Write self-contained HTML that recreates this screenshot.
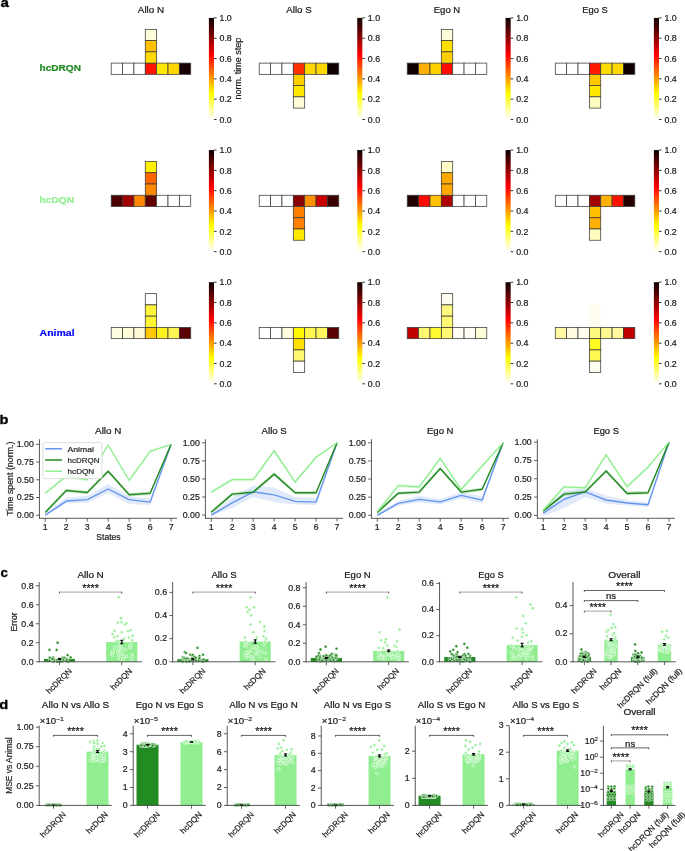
<!DOCTYPE html><html><head><meta charset="utf-8"><title>Figure</title><style>html,body{margin:0;padding:0;background:#fff;}body{width:685px;height:851px;overflow:hidden;font-family:"Liberation Sans",sans-serif;}svg{display:block;will-change:transform;}</style></head><body><svg width="685" height="851" viewBox="0 0 685 851" font-family="&quot;Liberation Sans&quot;, sans-serif" fill="#000"><defs><linearGradient id="hotr" x1="0" y1="1" x2="0" y2="0"><stop offset="0" stop-color="#ffffff"/><stop offset="0.253968" stop-color="#ffff00"/><stop offset="0.634921" stop-color="#ff0000"/><stop offset="1" stop-color="#0b0000"/></linearGradient></defs>
<text x="0.4" y="7.3" font-size="13.25" font-weight="bold" stroke="#000" stroke-width="0.31" textLength="8.44" lengthAdjust="spacingAndGlyphs">a</text>
<text x="39.6" y="71.2" font-size="9.54" font-weight="bold" fill="#228b22" stroke="#228b22" stroke-width="0.23" textLength="41.33" lengthAdjust="spacingAndGlyphs">hcDRQN</text>
<text x="150.96" y="13.3" font-size="9.54" text-anchor="middle" fill="#1a1a1a" stroke="#1a1a1a" stroke-width="0.23" textLength="26.26" lengthAdjust="spacingAndGlyphs">Allo N</text>
<rect x="111.2" y="63.1" width="11.36" height="11.25" fill="#ffffff" stroke="#3a3a3a" stroke-width="0.75"/>
<rect x="122.56" y="63.1" width="11.36" height="11.25" fill="#ffffff" stroke="#3a3a3a" stroke-width="0.75"/>
<rect x="133.92" y="63.1" width="11.36" height="11.25" fill="#ffffff" stroke="#3a3a3a" stroke-width="0.75"/>
<rect x="145.28" y="63.1" width="11.36" height="11.25" fill="#ff1200" stroke="#3a3a3a" stroke-width="0.75"/>
<rect x="156.64" y="63.1" width="11.36" height="11.25" fill="#ffe800" stroke="#3a3a3a" stroke-width="0.75"/>
<rect x="168" y="63.1" width="11.36" height="11.25" fill="#ffd500" stroke="#3a3a3a" stroke-width="0.75"/>
<rect x="179.36" y="63.1" width="11.36" height="11.25" fill="#180000" stroke="#3a3a3a" stroke-width="0.75"/>
<rect x="145.28" y="29.35" width="11.36" height="11.25" fill="#fffcdc" stroke="#3a3a3a" stroke-width="0.75"/>
<rect x="145.28" y="40.6" width="11.36" height="11.25" fill="#ffc000" stroke="#3a3a3a" stroke-width="0.75"/>
<rect x="145.28" y="51.85" width="11.36" height="11.25" fill="#ffd800" stroke="#3a3a3a" stroke-width="0.75"/>
<rect x="208.9" y="17.9" width="5.1" height="101.6" fill="url(#hotr)"/>
<line x1="214" y1="119.5" x2="216.6" y2="119.5" stroke="#000" stroke-width="0.8"/>
<text x="219.5" y="122.7" font-size="8.16" fill="#1a1a1a" stroke="#1a1a1a" stroke-width="0.19" textLength="12.25" lengthAdjust="spacingAndGlyphs">0.0</text>
<line x1="214" y1="99.18" x2="216.6" y2="99.18" stroke="#000" stroke-width="0.8"/>
<text x="219.5" y="102.38" font-size="8.16" fill="#1a1a1a" stroke="#1a1a1a" stroke-width="0.19" textLength="12.25" lengthAdjust="spacingAndGlyphs">0.2</text>
<line x1="214" y1="78.86" x2="216.6" y2="78.86" stroke="#000" stroke-width="0.8"/>
<text x="219.5" y="82.06" font-size="8.16" fill="#1a1a1a" stroke="#1a1a1a" stroke-width="0.19" textLength="12.25" lengthAdjust="spacingAndGlyphs">0.4</text>
<line x1="214" y1="58.54" x2="216.6" y2="58.54" stroke="#000" stroke-width="0.8"/>
<text x="219.5" y="61.74" font-size="8.16" fill="#1a1a1a" stroke="#1a1a1a" stroke-width="0.19" textLength="12.25" lengthAdjust="spacingAndGlyphs">0.6</text>
<line x1="214" y1="38.22" x2="216.6" y2="38.22" stroke="#000" stroke-width="0.8"/>
<text x="219.5" y="41.42" font-size="8.16" fill="#1a1a1a" stroke="#1a1a1a" stroke-width="0.19" textLength="12.25" lengthAdjust="spacingAndGlyphs">0.8</text>
<line x1="214" y1="17.9" x2="216.6" y2="17.9" stroke="#000" stroke-width="0.8"/>
<text x="219.5" y="21.1" font-size="8.16" fill="#1a1a1a" stroke="#1a1a1a" stroke-width="0.19" textLength="12.25" lengthAdjust="spacingAndGlyphs">1.0</text>
<text x="241" y="68.7" font-size="8.16" text-anchor="middle" fill="#1a1a1a" stroke="#1a1a1a" stroke-width="0.19" textLength="61.65" lengthAdjust="spacingAndGlyphs" transform="rotate(-90 241 68.7)">norm. time step</text>
<text x="298.99" y="13.3" font-size="9.54" text-anchor="middle" fill="#1a1a1a" stroke="#1a1a1a" stroke-width="0.23" textLength="25.24" lengthAdjust="spacingAndGlyphs">Allo S</text>
<rect x="259.23" y="63.1" width="11.36" height="11.25" fill="#ffffff" stroke="#3a3a3a" stroke-width="0.75"/>
<rect x="270.59" y="63.1" width="11.36" height="11.25" fill="#ffffff" stroke="#3a3a3a" stroke-width="0.75"/>
<rect x="281.95" y="63.1" width="11.36" height="11.25" fill="#ffffff" stroke="#3a3a3a" stroke-width="0.75"/>
<rect x="293.31" y="63.1" width="11.36" height="11.25" fill="#ff3000" stroke="#3a3a3a" stroke-width="0.75"/>
<rect x="304.67" y="63.1" width="11.36" height="11.25" fill="#ffd800" stroke="#3a3a3a" stroke-width="0.75"/>
<rect x="316.03" y="63.1" width="11.36" height="11.25" fill="#ffd800" stroke="#3a3a3a" stroke-width="0.75"/>
<rect x="327.39" y="63.1" width="11.36" height="11.25" fill="#100000" stroke="#3a3a3a" stroke-width="0.75"/>
<rect x="293.31" y="74.35" width="11.36" height="11.25" fill="#ffd000" stroke="#3a3a3a" stroke-width="0.75"/>
<rect x="293.31" y="85.6" width="11.36" height="11.25" fill="#ffe800" stroke="#3a3a3a" stroke-width="0.75"/>
<rect x="293.31" y="96.85" width="11.36" height="11.25" fill="#fffcd8" stroke="#3a3a3a" stroke-width="0.75"/>
<rect x="357.23" y="17.9" width="5.1" height="101.6" fill="url(#hotr)"/>
<line x1="362.33" y1="119.5" x2="364.93" y2="119.5" stroke="#000" stroke-width="0.8"/>
<text x="367.83" y="122.7" font-size="8.16" fill="#1a1a1a" stroke="#1a1a1a" stroke-width="0.19" textLength="12.25" lengthAdjust="spacingAndGlyphs">0.0</text>
<line x1="362.33" y1="99.18" x2="364.93" y2="99.18" stroke="#000" stroke-width="0.8"/>
<text x="367.83" y="102.38" font-size="8.16" fill="#1a1a1a" stroke="#1a1a1a" stroke-width="0.19" textLength="12.25" lengthAdjust="spacingAndGlyphs">0.2</text>
<line x1="362.33" y1="78.86" x2="364.93" y2="78.86" stroke="#000" stroke-width="0.8"/>
<text x="367.83" y="82.06" font-size="8.16" fill="#1a1a1a" stroke="#1a1a1a" stroke-width="0.19" textLength="12.25" lengthAdjust="spacingAndGlyphs">0.4</text>
<line x1="362.33" y1="58.54" x2="364.93" y2="58.54" stroke="#000" stroke-width="0.8"/>
<text x="367.83" y="61.74" font-size="8.16" fill="#1a1a1a" stroke="#1a1a1a" stroke-width="0.19" textLength="12.25" lengthAdjust="spacingAndGlyphs">0.6</text>
<line x1="362.33" y1="38.22" x2="364.93" y2="38.22" stroke="#000" stroke-width="0.8"/>
<text x="367.83" y="41.42" font-size="8.16" fill="#1a1a1a" stroke="#1a1a1a" stroke-width="0.19" textLength="12.25" lengthAdjust="spacingAndGlyphs">0.8</text>
<line x1="362.33" y1="17.9" x2="364.93" y2="17.9" stroke="#000" stroke-width="0.8"/>
<text x="367.83" y="21.1" font-size="8.16" fill="#1a1a1a" stroke="#1a1a1a" stroke-width="0.19" textLength="12.25" lengthAdjust="spacingAndGlyphs">1.0</text>
<text x="447.02" y="13.3" font-size="9.54" text-anchor="middle" fill="#1a1a1a" stroke="#1a1a1a" stroke-width="0.23" textLength="26.5" lengthAdjust="spacingAndGlyphs">Ego N</text>
<rect x="407.26" y="63.1" width="11.36" height="11.25" fill="#100000" stroke="#3a3a3a" stroke-width="0.75"/>
<rect x="418.62" y="63.1" width="11.36" height="11.25" fill="#ffb000" stroke="#3a3a3a" stroke-width="0.75"/>
<rect x="429.98" y="63.1" width="11.36" height="11.25" fill="#ffd000" stroke="#3a3a3a" stroke-width="0.75"/>
<rect x="441.34" y="63.1" width="11.36" height="11.25" fill="#ff0a00" stroke="#3a3a3a" stroke-width="0.75"/>
<rect x="452.7" y="63.1" width="11.36" height="11.25" fill="#ffffff" stroke="#3a3a3a" stroke-width="0.75"/>
<rect x="464.06" y="63.1" width="11.36" height="11.25" fill="#ffffff" stroke="#3a3a3a" stroke-width="0.75"/>
<rect x="475.42" y="63.1" width="11.36" height="11.25" fill="#ffffff" stroke="#3a3a3a" stroke-width="0.75"/>
<rect x="441.34" y="29.35" width="11.36" height="11.25" fill="#fffcdc" stroke="#3a3a3a" stroke-width="0.75"/>
<rect x="441.34" y="40.6" width="11.36" height="11.25" fill="#ffe000" stroke="#3a3a3a" stroke-width="0.75"/>
<rect x="441.34" y="51.85" width="11.36" height="11.25" fill="#ffd000" stroke="#3a3a3a" stroke-width="0.75"/>
<rect x="505.56" y="17.9" width="5.1" height="101.6" fill="url(#hotr)"/>
<line x1="510.66" y1="119.5" x2="513.26" y2="119.5" stroke="#000" stroke-width="0.8"/>
<text x="516.16" y="122.7" font-size="8.16" fill="#1a1a1a" stroke="#1a1a1a" stroke-width="0.19" textLength="12.25" lengthAdjust="spacingAndGlyphs">0.0</text>
<line x1="510.66" y1="99.18" x2="513.26" y2="99.18" stroke="#000" stroke-width="0.8"/>
<text x="516.16" y="102.38" font-size="8.16" fill="#1a1a1a" stroke="#1a1a1a" stroke-width="0.19" textLength="12.25" lengthAdjust="spacingAndGlyphs">0.2</text>
<line x1="510.66" y1="78.86" x2="513.26" y2="78.86" stroke="#000" stroke-width="0.8"/>
<text x="516.16" y="82.06" font-size="8.16" fill="#1a1a1a" stroke="#1a1a1a" stroke-width="0.19" textLength="12.25" lengthAdjust="spacingAndGlyphs">0.4</text>
<line x1="510.66" y1="58.54" x2="513.26" y2="58.54" stroke="#000" stroke-width="0.8"/>
<text x="516.16" y="61.74" font-size="8.16" fill="#1a1a1a" stroke="#1a1a1a" stroke-width="0.19" textLength="12.25" lengthAdjust="spacingAndGlyphs">0.6</text>
<line x1="510.66" y1="38.22" x2="513.26" y2="38.22" stroke="#000" stroke-width="0.8"/>
<text x="516.16" y="41.42" font-size="8.16" fill="#1a1a1a" stroke="#1a1a1a" stroke-width="0.19" textLength="12.25" lengthAdjust="spacingAndGlyphs">0.8</text>
<line x1="510.66" y1="17.9" x2="513.26" y2="17.9" stroke="#000" stroke-width="0.8"/>
<text x="516.16" y="21.1" font-size="8.16" fill="#1a1a1a" stroke="#1a1a1a" stroke-width="0.19" textLength="12.25" lengthAdjust="spacingAndGlyphs">1.0</text>
<text x="595.05" y="13.3" font-size="9.54" text-anchor="middle" fill="#1a1a1a" stroke="#1a1a1a" stroke-width="0.23" textLength="25.48" lengthAdjust="spacingAndGlyphs">Ego S</text>
<rect x="555.29" y="63.1" width="11.36" height="11.25" fill="#ffffff" stroke="#3a3a3a" stroke-width="0.75"/>
<rect x="566.65" y="63.1" width="11.36" height="11.25" fill="#ffffff" stroke="#3a3a3a" stroke-width="0.75"/>
<rect x="578.01" y="63.1" width="11.36" height="11.25" fill="#ffffff" stroke="#3a3a3a" stroke-width="0.75"/>
<rect x="589.37" y="63.1" width="11.36" height="11.25" fill="#ff1800" stroke="#3a3a3a" stroke-width="0.75"/>
<rect x="600.73" y="63.1" width="11.36" height="11.25" fill="#ffdc00" stroke="#3a3a3a" stroke-width="0.75"/>
<rect x="612.09" y="63.1" width="11.36" height="11.25" fill="#ffd800" stroke="#3a3a3a" stroke-width="0.75"/>
<rect x="623.45" y="63.1" width="11.36" height="11.25" fill="#100000" stroke="#3a3a3a" stroke-width="0.75"/>
<rect x="589.37" y="74.35" width="11.36" height="11.25" fill="#ffc800" stroke="#3a3a3a" stroke-width="0.75"/>
<rect x="589.37" y="85.6" width="11.36" height="11.25" fill="#ffe800" stroke="#3a3a3a" stroke-width="0.75"/>
<rect x="589.37" y="96.85" width="11.36" height="11.25" fill="#fffcc0" stroke="#3a3a3a" stroke-width="0.75"/>
<rect x="653.89" y="17.9" width="5.1" height="101.6" fill="url(#hotr)"/>
<line x1="658.99" y1="119.5" x2="661.59" y2="119.5" stroke="#000" stroke-width="0.8"/>
<text x="664.49" y="122.7" font-size="8.16" fill="#1a1a1a" stroke="#1a1a1a" stroke-width="0.19" textLength="12.25" lengthAdjust="spacingAndGlyphs">0.0</text>
<line x1="658.99" y1="99.18" x2="661.59" y2="99.18" stroke="#000" stroke-width="0.8"/>
<text x="664.49" y="102.38" font-size="8.16" fill="#1a1a1a" stroke="#1a1a1a" stroke-width="0.19" textLength="12.25" lengthAdjust="spacingAndGlyphs">0.2</text>
<line x1="658.99" y1="78.86" x2="661.59" y2="78.86" stroke="#000" stroke-width="0.8"/>
<text x="664.49" y="82.06" font-size="8.16" fill="#1a1a1a" stroke="#1a1a1a" stroke-width="0.19" textLength="12.25" lengthAdjust="spacingAndGlyphs">0.4</text>
<line x1="658.99" y1="58.54" x2="661.59" y2="58.54" stroke="#000" stroke-width="0.8"/>
<text x="664.49" y="61.74" font-size="8.16" fill="#1a1a1a" stroke="#1a1a1a" stroke-width="0.19" textLength="12.25" lengthAdjust="spacingAndGlyphs">0.6</text>
<line x1="658.99" y1="38.22" x2="661.59" y2="38.22" stroke="#000" stroke-width="0.8"/>
<text x="664.49" y="41.42" font-size="8.16" fill="#1a1a1a" stroke="#1a1a1a" stroke-width="0.19" textLength="12.25" lengthAdjust="spacingAndGlyphs">0.8</text>
<line x1="658.99" y1="17.9" x2="661.59" y2="17.9" stroke="#000" stroke-width="0.8"/>
<text x="664.49" y="21.1" font-size="8.16" fill="#1a1a1a" stroke="#1a1a1a" stroke-width="0.19" textLength="12.25" lengthAdjust="spacingAndGlyphs">1.0</text>
<text x="39.6" y="203.4" font-size="9.54" font-weight="bold" fill="#90ee90" stroke="#90ee90" stroke-width="0.23" textLength="34.4" lengthAdjust="spacingAndGlyphs">hcDQN</text>
<rect x="111.2" y="195.25" width="11.36" height="11.25" fill="#4a0000" stroke="#3a3a3a" stroke-width="0.75"/>
<rect x="122.56" y="195.25" width="11.36" height="11.25" fill="#a00000" stroke="#3a3a3a" stroke-width="0.75"/>
<rect x="133.92" y="195.25" width="11.36" height="11.25" fill="#ff8800" stroke="#3a3a3a" stroke-width="0.75"/>
<rect x="145.28" y="195.25" width="11.36" height="11.25" fill="#600000" stroke="#3a3a3a" stroke-width="0.75"/>
<rect x="156.64" y="195.25" width="11.36" height="11.25" fill="#ffffff" stroke="#3a3a3a" stroke-width="0.75"/>
<rect x="168" y="195.25" width="11.36" height="11.25" fill="#ffffff" stroke="#3a3a3a" stroke-width="0.75"/>
<rect x="179.36" y="195.25" width="11.36" height="11.25" fill="#ffffff" stroke="#3a3a3a" stroke-width="0.75"/>
<rect x="145.28" y="161.5" width="11.36" height="11.25" fill="#fff000" stroke="#3a3a3a" stroke-width="0.75"/>
<rect x="145.28" y="172.75" width="11.36" height="11.25" fill="#ff6600" stroke="#3a3a3a" stroke-width="0.75"/>
<rect x="145.28" y="184" width="11.36" height="11.25" fill="#ff8800" stroke="#3a3a3a" stroke-width="0.75"/>
<rect x="208.9" y="150.05" width="5.1" height="101.6" fill="url(#hotr)"/>
<line x1="214" y1="251.65" x2="216.6" y2="251.65" stroke="#000" stroke-width="0.8"/>
<text x="219.5" y="254.85" font-size="8.16" fill="#1a1a1a" stroke="#1a1a1a" stroke-width="0.19" textLength="12.25" lengthAdjust="spacingAndGlyphs">0.0</text>
<line x1="214" y1="231.33" x2="216.6" y2="231.33" stroke="#000" stroke-width="0.8"/>
<text x="219.5" y="234.53" font-size="8.16" fill="#1a1a1a" stroke="#1a1a1a" stroke-width="0.19" textLength="12.25" lengthAdjust="spacingAndGlyphs">0.2</text>
<line x1="214" y1="211.01" x2="216.6" y2="211.01" stroke="#000" stroke-width="0.8"/>
<text x="219.5" y="214.21" font-size="8.16" fill="#1a1a1a" stroke="#1a1a1a" stroke-width="0.19" textLength="12.25" lengthAdjust="spacingAndGlyphs">0.4</text>
<line x1="214" y1="190.69" x2="216.6" y2="190.69" stroke="#000" stroke-width="0.8"/>
<text x="219.5" y="193.89" font-size="8.16" fill="#1a1a1a" stroke="#1a1a1a" stroke-width="0.19" textLength="12.25" lengthAdjust="spacingAndGlyphs">0.6</text>
<line x1="214" y1="170.37" x2="216.6" y2="170.37" stroke="#000" stroke-width="0.8"/>
<text x="219.5" y="173.57" font-size="8.16" fill="#1a1a1a" stroke="#1a1a1a" stroke-width="0.19" textLength="12.25" lengthAdjust="spacingAndGlyphs">0.8</text>
<line x1="214" y1="150.05" x2="216.6" y2="150.05" stroke="#000" stroke-width="0.8"/>
<text x="219.5" y="153.25" font-size="8.16" fill="#1a1a1a" stroke="#1a1a1a" stroke-width="0.19" textLength="12.25" lengthAdjust="spacingAndGlyphs">1.0</text>
<rect x="259.23" y="195.25" width="11.36" height="11.25" fill="#ffffff" stroke="#3a3a3a" stroke-width="0.75"/>
<rect x="270.59" y="195.25" width="11.36" height="11.25" fill="#ffffff" stroke="#3a3a3a" stroke-width="0.75"/>
<rect x="281.95" y="195.25" width="11.36" height="11.25" fill="#ffffff" stroke="#3a3a3a" stroke-width="0.75"/>
<rect x="293.31" y="195.25" width="11.36" height="11.25" fill="#8a0000" stroke="#3a3a3a" stroke-width="0.75"/>
<rect x="304.67" y="195.25" width="11.36" height="11.25" fill="#ff9000" stroke="#3a3a3a" stroke-width="0.75"/>
<rect x="316.03" y="195.25" width="11.36" height="11.25" fill="#c80000" stroke="#3a3a3a" stroke-width="0.75"/>
<rect x="327.39" y="195.25" width="11.36" height="11.25" fill="#3a0000" stroke="#3a3a3a" stroke-width="0.75"/>
<rect x="293.31" y="206.5" width="11.36" height="11.25" fill="#ff8000" stroke="#3a3a3a" stroke-width="0.75"/>
<rect x="293.31" y="217.75" width="11.36" height="11.25" fill="#ff8000" stroke="#3a3a3a" stroke-width="0.75"/>
<rect x="293.31" y="229" width="11.36" height="11.25" fill="#ffe800" stroke="#3a3a3a" stroke-width="0.75"/>
<rect x="357.23" y="150.05" width="5.1" height="101.6" fill="url(#hotr)"/>
<line x1="362.33" y1="251.65" x2="364.93" y2="251.65" stroke="#000" stroke-width="0.8"/>
<text x="367.83" y="254.85" font-size="8.16" fill="#1a1a1a" stroke="#1a1a1a" stroke-width="0.19" textLength="12.25" lengthAdjust="spacingAndGlyphs">0.0</text>
<line x1="362.33" y1="231.33" x2="364.93" y2="231.33" stroke="#000" stroke-width="0.8"/>
<text x="367.83" y="234.53" font-size="8.16" fill="#1a1a1a" stroke="#1a1a1a" stroke-width="0.19" textLength="12.25" lengthAdjust="spacingAndGlyphs">0.2</text>
<line x1="362.33" y1="211.01" x2="364.93" y2="211.01" stroke="#000" stroke-width="0.8"/>
<text x="367.83" y="214.21" font-size="8.16" fill="#1a1a1a" stroke="#1a1a1a" stroke-width="0.19" textLength="12.25" lengthAdjust="spacingAndGlyphs">0.4</text>
<line x1="362.33" y1="190.69" x2="364.93" y2="190.69" stroke="#000" stroke-width="0.8"/>
<text x="367.83" y="193.89" font-size="8.16" fill="#1a1a1a" stroke="#1a1a1a" stroke-width="0.19" textLength="12.25" lengthAdjust="spacingAndGlyphs">0.6</text>
<line x1="362.33" y1="170.37" x2="364.93" y2="170.37" stroke="#000" stroke-width="0.8"/>
<text x="367.83" y="173.57" font-size="8.16" fill="#1a1a1a" stroke="#1a1a1a" stroke-width="0.19" textLength="12.25" lengthAdjust="spacingAndGlyphs">0.8</text>
<line x1="362.33" y1="150.05" x2="364.93" y2="150.05" stroke="#000" stroke-width="0.8"/>
<text x="367.83" y="153.25" font-size="8.16" fill="#1a1a1a" stroke="#1a1a1a" stroke-width="0.19" textLength="12.25" lengthAdjust="spacingAndGlyphs">1.0</text>
<rect x="407.26" y="195.25" width="11.36" height="11.25" fill="#200000" stroke="#3a3a3a" stroke-width="0.75"/>
<rect x="418.62" y="195.25" width="11.36" height="11.25" fill="#ff0800" stroke="#3a3a3a" stroke-width="0.75"/>
<rect x="429.98" y="195.25" width="11.36" height="11.25" fill="#ffc000" stroke="#3a3a3a" stroke-width="0.75"/>
<rect x="441.34" y="195.25" width="11.36" height="11.25" fill="#b00000" stroke="#3a3a3a" stroke-width="0.75"/>
<rect x="452.7" y="195.25" width="11.36" height="11.25" fill="#ffffff" stroke="#3a3a3a" stroke-width="0.75"/>
<rect x="464.06" y="195.25" width="11.36" height="11.25" fill="#ffffff" stroke="#3a3a3a" stroke-width="0.75"/>
<rect x="475.42" y="195.25" width="11.36" height="11.25" fill="#ffffff" stroke="#3a3a3a" stroke-width="0.75"/>
<rect x="441.34" y="161.5" width="11.36" height="11.25" fill="#fffcc8" stroke="#3a3a3a" stroke-width="0.75"/>
<rect x="441.34" y="172.75" width="11.36" height="11.25" fill="#ffa800" stroke="#3a3a3a" stroke-width="0.75"/>
<rect x="441.34" y="184" width="11.36" height="11.25" fill="#ffa800" stroke="#3a3a3a" stroke-width="0.75"/>
<rect x="505.56" y="150.05" width="5.1" height="101.6" fill="url(#hotr)"/>
<line x1="510.66" y1="251.65" x2="513.26" y2="251.65" stroke="#000" stroke-width="0.8"/>
<text x="516.16" y="254.85" font-size="8.16" fill="#1a1a1a" stroke="#1a1a1a" stroke-width="0.19" textLength="12.25" lengthAdjust="spacingAndGlyphs">0.0</text>
<line x1="510.66" y1="231.33" x2="513.26" y2="231.33" stroke="#000" stroke-width="0.8"/>
<text x="516.16" y="234.53" font-size="8.16" fill="#1a1a1a" stroke="#1a1a1a" stroke-width="0.19" textLength="12.25" lengthAdjust="spacingAndGlyphs">0.2</text>
<line x1="510.66" y1="211.01" x2="513.26" y2="211.01" stroke="#000" stroke-width="0.8"/>
<text x="516.16" y="214.21" font-size="8.16" fill="#1a1a1a" stroke="#1a1a1a" stroke-width="0.19" textLength="12.25" lengthAdjust="spacingAndGlyphs">0.4</text>
<line x1="510.66" y1="190.69" x2="513.26" y2="190.69" stroke="#000" stroke-width="0.8"/>
<text x="516.16" y="193.89" font-size="8.16" fill="#1a1a1a" stroke="#1a1a1a" stroke-width="0.19" textLength="12.25" lengthAdjust="spacingAndGlyphs">0.6</text>
<line x1="510.66" y1="170.37" x2="513.26" y2="170.37" stroke="#000" stroke-width="0.8"/>
<text x="516.16" y="173.57" font-size="8.16" fill="#1a1a1a" stroke="#1a1a1a" stroke-width="0.19" textLength="12.25" lengthAdjust="spacingAndGlyphs">0.8</text>
<line x1="510.66" y1="150.05" x2="513.26" y2="150.05" stroke="#000" stroke-width="0.8"/>
<text x="516.16" y="153.25" font-size="8.16" fill="#1a1a1a" stroke="#1a1a1a" stroke-width="0.19" textLength="12.25" lengthAdjust="spacingAndGlyphs">1.0</text>
<rect x="555.29" y="195.25" width="11.36" height="11.25" fill="#ffffff" stroke="#3a3a3a" stroke-width="0.75"/>
<rect x="566.65" y="195.25" width="11.36" height="11.25" fill="#ffffff" stroke="#3a3a3a" stroke-width="0.75"/>
<rect x="578.01" y="195.25" width="11.36" height="11.25" fill="#ffffff" stroke="#3a3a3a" stroke-width="0.75"/>
<rect x="589.37" y="195.25" width="11.36" height="11.25" fill="#a00000" stroke="#3a3a3a" stroke-width="0.75"/>
<rect x="600.73" y="195.25" width="11.36" height="11.25" fill="#ffb000" stroke="#3a3a3a" stroke-width="0.75"/>
<rect x="612.09" y="195.25" width="11.36" height="11.25" fill="#ff1000" stroke="#3a3a3a" stroke-width="0.75"/>
<rect x="623.45" y="195.25" width="11.36" height="11.25" fill="#280000" stroke="#3a3a3a" stroke-width="0.75"/>
<rect x="589.37" y="206.5" width="11.36" height="11.25" fill="#ffc000" stroke="#3a3a3a" stroke-width="0.75"/>
<rect x="589.37" y="217.75" width="11.36" height="11.25" fill="#ffb000" stroke="#3a3a3a" stroke-width="0.75"/>
<rect x="589.37" y="229" width="11.36" height="11.25" fill="#fffcc0" stroke="#3a3a3a" stroke-width="0.75"/>
<rect x="653.89" y="150.05" width="5.1" height="101.6" fill="url(#hotr)"/>
<line x1="658.99" y1="251.65" x2="661.59" y2="251.65" stroke="#000" stroke-width="0.8"/>
<text x="664.49" y="254.85" font-size="8.16" fill="#1a1a1a" stroke="#1a1a1a" stroke-width="0.19" textLength="12.25" lengthAdjust="spacingAndGlyphs">0.0</text>
<line x1="658.99" y1="231.33" x2="661.59" y2="231.33" stroke="#000" stroke-width="0.8"/>
<text x="664.49" y="234.53" font-size="8.16" fill="#1a1a1a" stroke="#1a1a1a" stroke-width="0.19" textLength="12.25" lengthAdjust="spacingAndGlyphs">0.2</text>
<line x1="658.99" y1="211.01" x2="661.59" y2="211.01" stroke="#000" stroke-width="0.8"/>
<text x="664.49" y="214.21" font-size="8.16" fill="#1a1a1a" stroke="#1a1a1a" stroke-width="0.19" textLength="12.25" lengthAdjust="spacingAndGlyphs">0.4</text>
<line x1="658.99" y1="190.69" x2="661.59" y2="190.69" stroke="#000" stroke-width="0.8"/>
<text x="664.49" y="193.89" font-size="8.16" fill="#1a1a1a" stroke="#1a1a1a" stroke-width="0.19" textLength="12.25" lengthAdjust="spacingAndGlyphs">0.6</text>
<line x1="658.99" y1="170.37" x2="661.59" y2="170.37" stroke="#000" stroke-width="0.8"/>
<text x="664.49" y="173.57" font-size="8.16" fill="#1a1a1a" stroke="#1a1a1a" stroke-width="0.19" textLength="12.25" lengthAdjust="spacingAndGlyphs">0.8</text>
<line x1="658.99" y1="150.05" x2="661.59" y2="150.05" stroke="#000" stroke-width="0.8"/>
<text x="664.49" y="153.25" font-size="8.16" fill="#1a1a1a" stroke="#1a1a1a" stroke-width="0.19" textLength="12.25" lengthAdjust="spacingAndGlyphs">1.0</text>
<text x="39.6" y="335.6" font-size="9.54" font-weight="bold" fill="#0000ff" stroke="#0000ff" stroke-width="0.23" textLength="34.99" lengthAdjust="spacingAndGlyphs">Animal</text>
<rect x="111.2" y="327.4" width="11.36" height="11.25" fill="#fffde0" stroke="#3a3a3a" stroke-width="0.75"/>
<rect x="122.56" y="327.4" width="11.36" height="11.25" fill="#fffcd8" stroke="#3a3a3a" stroke-width="0.75"/>
<rect x="133.92" y="327.4" width="11.36" height="11.25" fill="#fffbd4" stroke="#3a3a3a" stroke-width="0.75"/>
<rect x="145.28" y="327.4" width="11.36" height="11.25" fill="#ffc800" stroke="#3a3a3a" stroke-width="0.75"/>
<rect x="156.64" y="327.4" width="11.36" height="11.25" fill="#fff020" stroke="#3a3a3a" stroke-width="0.75"/>
<rect x="168" y="327.4" width="11.36" height="11.25" fill="#fff455" stroke="#3a3a3a" stroke-width="0.75"/>
<rect x="179.36" y="327.4" width="11.36" height="11.25" fill="#5c0000" stroke="#3a3a3a" stroke-width="0.75"/>
<rect x="145.28" y="293.65" width="11.36" height="11.25" fill="#ffffff" stroke="#3a3a3a" stroke-width="0.75"/>
<rect x="145.28" y="304.9" width="11.36" height="11.25" fill="#fff53a" stroke="#3a3a3a" stroke-width="0.75"/>
<rect x="145.28" y="316.15" width="11.36" height="11.25" fill="#fff530" stroke="#3a3a3a" stroke-width="0.75"/>
<rect x="208.9" y="282.2" width="5.1" height="101.6" fill="url(#hotr)"/>
<line x1="214" y1="383.8" x2="216.6" y2="383.8" stroke="#000" stroke-width="0.8"/>
<text x="219.5" y="387" font-size="8.16" fill="#1a1a1a" stroke="#1a1a1a" stroke-width="0.19" textLength="12.25" lengthAdjust="spacingAndGlyphs">0.0</text>
<line x1="214" y1="363.48" x2="216.6" y2="363.48" stroke="#000" stroke-width="0.8"/>
<text x="219.5" y="366.68" font-size="8.16" fill="#1a1a1a" stroke="#1a1a1a" stroke-width="0.19" textLength="12.25" lengthAdjust="spacingAndGlyphs">0.2</text>
<line x1="214" y1="343.16" x2="216.6" y2="343.16" stroke="#000" stroke-width="0.8"/>
<text x="219.5" y="346.36" font-size="8.16" fill="#1a1a1a" stroke="#1a1a1a" stroke-width="0.19" textLength="12.25" lengthAdjust="spacingAndGlyphs">0.4</text>
<line x1="214" y1="322.84" x2="216.6" y2="322.84" stroke="#000" stroke-width="0.8"/>
<text x="219.5" y="326.04" font-size="8.16" fill="#1a1a1a" stroke="#1a1a1a" stroke-width="0.19" textLength="12.25" lengthAdjust="spacingAndGlyphs">0.6</text>
<line x1="214" y1="302.52" x2="216.6" y2="302.52" stroke="#000" stroke-width="0.8"/>
<text x="219.5" y="305.72" font-size="8.16" fill="#1a1a1a" stroke="#1a1a1a" stroke-width="0.19" textLength="12.25" lengthAdjust="spacingAndGlyphs">0.8</text>
<line x1="214" y1="282.2" x2="216.6" y2="282.2" stroke="#000" stroke-width="0.8"/>
<text x="219.5" y="285.4" font-size="8.16" fill="#1a1a1a" stroke="#1a1a1a" stroke-width="0.19" textLength="12.25" lengthAdjust="spacingAndGlyphs">1.0</text>
<rect x="259.23" y="327.4" width="11.36" height="11.25" fill="#ffffff" stroke="#3a3a3a" stroke-width="0.75"/>
<rect x="270.59" y="327.4" width="11.36" height="11.25" fill="#ffffff" stroke="#3a3a3a" stroke-width="0.75"/>
<rect x="281.95" y="327.4" width="11.36" height="11.25" fill="#fffce0" stroke="#3a3a3a" stroke-width="0.75"/>
<rect x="293.31" y="327.4" width="11.36" height="11.25" fill="#fff800" stroke="#3a3a3a" stroke-width="0.75"/>
<rect x="304.67" y="327.4" width="11.36" height="11.25" fill="#fff650" stroke="#3a3a3a" stroke-width="0.75"/>
<rect x="316.03" y="327.4" width="11.36" height="11.25" fill="#fff660" stroke="#3a3a3a" stroke-width="0.75"/>
<rect x="327.39" y="327.4" width="11.36" height="11.25" fill="#5a0000" stroke="#3a3a3a" stroke-width="0.75"/>
<rect x="293.31" y="338.65" width="11.36" height="11.25" fill="#ffe000" stroke="#3a3a3a" stroke-width="0.75"/>
<rect x="293.31" y="349.9" width="11.36" height="11.25" fill="#fff670" stroke="#3a3a3a" stroke-width="0.75"/>
<rect x="293.31" y="361.15" width="11.36" height="11.25" fill="#ffffff" stroke="#3a3a3a" stroke-width="0.75"/>
<rect x="357.23" y="282.2" width="5.1" height="101.6" fill="url(#hotr)"/>
<line x1="362.33" y1="383.8" x2="364.93" y2="383.8" stroke="#000" stroke-width="0.8"/>
<text x="367.83" y="387" font-size="8.16" fill="#1a1a1a" stroke="#1a1a1a" stroke-width="0.19" textLength="12.25" lengthAdjust="spacingAndGlyphs">0.0</text>
<line x1="362.33" y1="363.48" x2="364.93" y2="363.48" stroke="#000" stroke-width="0.8"/>
<text x="367.83" y="366.68" font-size="8.16" fill="#1a1a1a" stroke="#1a1a1a" stroke-width="0.19" textLength="12.25" lengthAdjust="spacingAndGlyphs">0.2</text>
<line x1="362.33" y1="343.16" x2="364.93" y2="343.16" stroke="#000" stroke-width="0.8"/>
<text x="367.83" y="346.36" font-size="8.16" fill="#1a1a1a" stroke="#1a1a1a" stroke-width="0.19" textLength="12.25" lengthAdjust="spacingAndGlyphs">0.4</text>
<line x1="362.33" y1="322.84" x2="364.93" y2="322.84" stroke="#000" stroke-width="0.8"/>
<text x="367.83" y="326.04" font-size="8.16" fill="#1a1a1a" stroke="#1a1a1a" stroke-width="0.19" textLength="12.25" lengthAdjust="spacingAndGlyphs">0.6</text>
<line x1="362.33" y1="302.52" x2="364.93" y2="302.52" stroke="#000" stroke-width="0.8"/>
<text x="367.83" y="305.72" font-size="8.16" fill="#1a1a1a" stroke="#1a1a1a" stroke-width="0.19" textLength="12.25" lengthAdjust="spacingAndGlyphs">0.8</text>
<line x1="362.33" y1="282.2" x2="364.93" y2="282.2" stroke="#000" stroke-width="0.8"/>
<text x="367.83" y="285.4" font-size="8.16" fill="#1a1a1a" stroke="#1a1a1a" stroke-width="0.19" textLength="12.25" lengthAdjust="spacingAndGlyphs">1.0</text>
<rect x="407.26" y="327.4" width="11.36" height="11.25" fill="#c00000" stroke="#3a3a3a" stroke-width="0.75"/>
<rect x="418.62" y="327.4" width="11.36" height="11.25" fill="#fff870" stroke="#3a3a3a" stroke-width="0.75"/>
<rect x="429.98" y="327.4" width="11.36" height="11.25" fill="#fffa30" stroke="#3a3a3a" stroke-width="0.75"/>
<rect x="441.34" y="327.4" width="11.36" height="11.25" fill="#fff870" stroke="#3a3a3a" stroke-width="0.75"/>
<rect x="452.7" y="327.4" width="11.36" height="11.25" fill="#fffdf5" stroke="#3a3a3a" stroke-width="0.75"/>
<rect x="464.06" y="327.4" width="11.36" height="11.25" fill="#fffdf5" stroke="#3a3a3a" stroke-width="0.75"/>
<rect x="475.42" y="327.4" width="11.36" height="11.25" fill="#fffcd8" stroke="#3a3a3a" stroke-width="0.75"/>
<rect x="441.34" y="293.65" width="11.36" height="11.25" fill="#fffdf0" stroke="#3a3a3a" stroke-width="0.75"/>
<rect x="441.34" y="304.9" width="11.36" height="11.25" fill="#fff880" stroke="#3a3a3a" stroke-width="0.75"/>
<rect x="441.34" y="316.15" width="11.36" height="11.25" fill="#fff870" stroke="#3a3a3a" stroke-width="0.75"/>
<rect x="505.56" y="282.2" width="5.1" height="101.6" fill="url(#hotr)"/>
<line x1="510.66" y1="383.8" x2="513.26" y2="383.8" stroke="#000" stroke-width="0.8"/>
<text x="516.16" y="387" font-size="8.16" fill="#1a1a1a" stroke="#1a1a1a" stroke-width="0.19" textLength="12.25" lengthAdjust="spacingAndGlyphs">0.0</text>
<line x1="510.66" y1="363.48" x2="513.26" y2="363.48" stroke="#000" stroke-width="0.8"/>
<text x="516.16" y="366.68" font-size="8.16" fill="#1a1a1a" stroke="#1a1a1a" stroke-width="0.19" textLength="12.25" lengthAdjust="spacingAndGlyphs">0.2</text>
<line x1="510.66" y1="343.16" x2="513.26" y2="343.16" stroke="#000" stroke-width="0.8"/>
<text x="516.16" y="346.36" font-size="8.16" fill="#1a1a1a" stroke="#1a1a1a" stroke-width="0.19" textLength="12.25" lengthAdjust="spacingAndGlyphs">0.4</text>
<line x1="510.66" y1="322.84" x2="513.26" y2="322.84" stroke="#000" stroke-width="0.8"/>
<text x="516.16" y="326.04" font-size="8.16" fill="#1a1a1a" stroke="#1a1a1a" stroke-width="0.19" textLength="12.25" lengthAdjust="spacingAndGlyphs">0.6</text>
<line x1="510.66" y1="302.52" x2="513.26" y2="302.52" stroke="#000" stroke-width="0.8"/>
<text x="516.16" y="305.72" font-size="8.16" fill="#1a1a1a" stroke="#1a1a1a" stroke-width="0.19" textLength="12.25" lengthAdjust="spacingAndGlyphs">0.8</text>
<line x1="510.66" y1="282.2" x2="513.26" y2="282.2" stroke="#000" stroke-width="0.8"/>
<text x="516.16" y="285.4" font-size="8.16" fill="#1a1a1a" stroke="#1a1a1a" stroke-width="0.19" textLength="12.25" lengthAdjust="spacingAndGlyphs">1.0</text>
<rect x="589.37" y="304.9" width="11.36" height="22.5" fill="#fffdf0"/>
<rect x="555.29" y="327.4" width="11.36" height="11.25" fill="#fff8a0" stroke="#3a3a3a" stroke-width="0.75"/>
<rect x="566.65" y="327.4" width="11.36" height="11.25" fill="#fffce0" stroke="#3a3a3a" stroke-width="0.75"/>
<rect x="578.01" y="327.4" width="11.36" height="11.25" fill="#fffdf0" stroke="#3a3a3a" stroke-width="0.75"/>
<rect x="589.37" y="327.4" width="11.36" height="11.25" fill="#fff880" stroke="#3a3a3a" stroke-width="0.75"/>
<rect x="600.73" y="327.4" width="11.36" height="11.25" fill="#fff890" stroke="#3a3a3a" stroke-width="0.75"/>
<rect x="612.09" y="327.4" width="11.36" height="11.25" fill="#fff8a0" stroke="#3a3a3a" stroke-width="0.75"/>
<rect x="623.45" y="327.4" width="11.36" height="11.25" fill="#c00000" stroke="#3a3a3a" stroke-width="0.75"/>
<rect x="589.37" y="338.65" width="11.36" height="11.25" fill="#fffa20" stroke="#3a3a3a" stroke-width="0.75"/>
<rect x="589.37" y="349.9" width="11.36" height="11.25" fill="#fff850" stroke="#3a3a3a" stroke-width="0.75"/>
<rect x="589.37" y="361.15" width="11.36" height="11.25" fill="#fffdf0" stroke="#3a3a3a" stroke-width="0.75"/>
<rect x="653.89" y="282.2" width="5.1" height="101.6" fill="url(#hotr)"/>
<line x1="658.99" y1="383.8" x2="661.59" y2="383.8" stroke="#000" stroke-width="0.8"/>
<text x="664.49" y="387" font-size="8.16" fill="#1a1a1a" stroke="#1a1a1a" stroke-width="0.19" textLength="12.25" lengthAdjust="spacingAndGlyphs">0.0</text>
<line x1="658.99" y1="363.48" x2="661.59" y2="363.48" stroke="#000" stroke-width="0.8"/>
<text x="664.49" y="366.68" font-size="8.16" fill="#1a1a1a" stroke="#1a1a1a" stroke-width="0.19" textLength="12.25" lengthAdjust="spacingAndGlyphs">0.2</text>
<line x1="658.99" y1="343.16" x2="661.59" y2="343.16" stroke="#000" stroke-width="0.8"/>
<text x="664.49" y="346.36" font-size="8.16" fill="#1a1a1a" stroke="#1a1a1a" stroke-width="0.19" textLength="12.25" lengthAdjust="spacingAndGlyphs">0.4</text>
<line x1="658.99" y1="322.84" x2="661.59" y2="322.84" stroke="#000" stroke-width="0.8"/>
<text x="664.49" y="326.04" font-size="8.16" fill="#1a1a1a" stroke="#1a1a1a" stroke-width="0.19" textLength="12.25" lengthAdjust="spacingAndGlyphs">0.6</text>
<line x1="658.99" y1="302.52" x2="661.59" y2="302.52" stroke="#000" stroke-width="0.8"/>
<text x="664.49" y="305.72" font-size="8.16" fill="#1a1a1a" stroke="#1a1a1a" stroke-width="0.19" textLength="12.25" lengthAdjust="spacingAndGlyphs">0.8</text>
<line x1="658.99" y1="282.2" x2="661.59" y2="282.2" stroke="#000" stroke-width="0.8"/>
<text x="664.49" y="285.4" font-size="8.16" fill="#1a1a1a" stroke="#1a1a1a" stroke-width="0.19" textLength="12.25" lengthAdjust="spacingAndGlyphs">1.0</text>
<text x="-0.4" y="424.1" font-size="13.25" font-weight="bold" stroke="#000" stroke-width="0.31" textLength="8.95" lengthAdjust="spacingAndGlyphs">b</text>
<polygon points="45.3,513.83 66.27,497.51 87.24,496.09 108.21,484.03 129.18,496.45 150.15,498.58 171.12,444.3 171.12,444.3 150.15,505.32 129.18,503.9 108.21,493.26 87.24,502.83 66.27,503.54 45.3,515.96" fill="#6495ed" fill-opacity="0.2"/>
<polygon points="45.3,510.64 66.27,488.64 87.24,490.77 108.21,469.49 129.18,492.9 150.15,491.48 171.12,444.3 171.12,444.3 150.15,495.03 129.18,496.45 108.21,473.03 87.24,494.32 66.27,492.19 45.3,514.19" fill="#228b22" fill-opacity="0.2"/>
<polygon points="45.3,491.48 66.27,474.45 87.24,478 108.21,443.24 129.18,478.71 150.15,449.62 171.12,444.3 171.12,444.3 150.15,453.17 129.18,482.26 108.21,446.78 87.24,481.55 66.27,478 45.3,495.03" fill="#90ee90" fill-opacity="0.2"/>
<polyline points="45.3,515.25 66.27,501.06 87.24,499.64 108.21,489 129.18,499.64 150.15,502.12 171.12,444.3" fill="none" stroke="#6495ed" stroke-width="1.4" stroke-linejoin="round"/>
<polyline points="45.3,512.41 66.27,490.42 87.24,492.55 108.21,471.26 129.18,494.67 150.15,493.26 171.12,444.3" fill="none" stroke="#228b22" stroke-width="1.45" stroke-linejoin="round"/>
<polyline points="45.3,493.26 66.27,476.23 87.24,479.77 108.21,445.01 129.18,480.48 150.15,451.39 171.12,444.3" fill="none" stroke="#90ee90" stroke-width="1.35" stroke-linejoin="round"/>
<line x1="39.45" y1="439.2" x2="39.45" y2="518.7" stroke="#3a3a3a" stroke-width="0.85"/>
<line x1="39.05" y1="518.3" x2="177.05" y2="518.3" stroke="#3a3a3a" stroke-width="0.85"/>
<line x1="36.15" y1="515.25" x2="39.45" y2="515.25" stroke="#3a3a3a" stroke-width="0.8"/>
<text x="33.85" y="518.05" font-size="8.16" text-anchor="end" fill="#1a1a1a" stroke="#1a1a1a" stroke-width="0.19" textLength="17.14" lengthAdjust="spacingAndGlyphs">0.00</text>
<line x1="36.15" y1="497.51" x2="39.45" y2="497.51" stroke="#3a3a3a" stroke-width="0.8"/>
<text x="33.85" y="500.31" font-size="8.16" text-anchor="end" fill="#1a1a1a" stroke="#1a1a1a" stroke-width="0.19" textLength="17.14" lengthAdjust="spacingAndGlyphs">0.25</text>
<line x1="36.15" y1="479.77" x2="39.45" y2="479.77" stroke="#3a3a3a" stroke-width="0.8"/>
<text x="33.85" y="482.57" font-size="8.16" text-anchor="end" fill="#1a1a1a" stroke="#1a1a1a" stroke-width="0.19" textLength="17.14" lengthAdjust="spacingAndGlyphs">0.50</text>
<line x1="36.15" y1="462.04" x2="39.45" y2="462.04" stroke="#3a3a3a" stroke-width="0.8"/>
<text x="33.85" y="464.84" font-size="8.16" text-anchor="end" fill="#1a1a1a" stroke="#1a1a1a" stroke-width="0.19" textLength="17.14" lengthAdjust="spacingAndGlyphs">0.75</text>
<line x1="36.15" y1="444.3" x2="39.45" y2="444.3" stroke="#3a3a3a" stroke-width="0.8"/>
<text x="33.85" y="447.1" font-size="8.16" text-anchor="end" fill="#1a1a1a" stroke="#1a1a1a" stroke-width="0.19" textLength="17.14" lengthAdjust="spacingAndGlyphs">1.00</text>
<line x1="45.3" y1="518.3" x2="45.3" y2="521.6" stroke="#3a3a3a" stroke-width="0.8"/>
<text x="45.3" y="529.7" font-size="8.16" text-anchor="middle" fill="#1a1a1a" stroke="#1a1a1a" stroke-width="0.19" textLength="4.9" lengthAdjust="spacingAndGlyphs">1</text>
<line x1="66.27" y1="518.3" x2="66.27" y2="521.6" stroke="#3a3a3a" stroke-width="0.8"/>
<text x="66.27" y="529.7" font-size="8.16" text-anchor="middle" fill="#1a1a1a" stroke="#1a1a1a" stroke-width="0.19" textLength="4.9" lengthAdjust="spacingAndGlyphs">2</text>
<line x1="87.24" y1="518.3" x2="87.24" y2="521.6" stroke="#3a3a3a" stroke-width="0.8"/>
<text x="87.24" y="529.7" font-size="8.16" text-anchor="middle" fill="#1a1a1a" stroke="#1a1a1a" stroke-width="0.19" textLength="4.9" lengthAdjust="spacingAndGlyphs">3</text>
<line x1="108.21" y1="518.3" x2="108.21" y2="521.6" stroke="#3a3a3a" stroke-width="0.8"/>
<text x="108.21" y="529.7" font-size="8.16" text-anchor="middle" fill="#1a1a1a" stroke="#1a1a1a" stroke-width="0.19" textLength="4.9" lengthAdjust="spacingAndGlyphs">4</text>
<line x1="129.18" y1="518.3" x2="129.18" y2="521.6" stroke="#3a3a3a" stroke-width="0.8"/>
<text x="129.18" y="529.7" font-size="8.16" text-anchor="middle" fill="#1a1a1a" stroke="#1a1a1a" stroke-width="0.19" textLength="4.9" lengthAdjust="spacingAndGlyphs">5</text>
<line x1="150.15" y1="518.3" x2="150.15" y2="521.6" stroke="#3a3a3a" stroke-width="0.8"/>
<text x="150.15" y="529.7" font-size="8.16" text-anchor="middle" fill="#1a1a1a" stroke="#1a1a1a" stroke-width="0.19" textLength="4.9" lengthAdjust="spacingAndGlyphs">6</text>
<line x1="171.12" y1="518.3" x2="171.12" y2="521.6" stroke="#3a3a3a" stroke-width="0.8"/>
<text x="171.12" y="529.7" font-size="8.16" text-anchor="middle" fill="#1a1a1a" stroke="#1a1a1a" stroke-width="0.19" textLength="4.9" lengthAdjust="spacingAndGlyphs">7</text>
<text x="108.25" y="434.4" font-size="9.54" text-anchor="middle" fill="#1a1a1a" stroke="#1a1a1a" stroke-width="0.23" textLength="26.26" lengthAdjust="spacingAndGlyphs">Allo N</text>
<text x="108.45" y="540.3" font-size="8.16" text-anchor="middle" fill="#1a1a1a" stroke="#1a1a1a" stroke-width="0.19" textLength="24.39" lengthAdjust="spacingAndGlyphs">States</text>
<text x="13.1" y="478.75" font-size="8.16" text-anchor="middle" fill="#1a1a1a" stroke="#1a1a1a" stroke-width="0.19" textLength="74.23" lengthAdjust="spacingAndGlyphs" transform="rotate(-90 13.1 478.75)">Time spent (norm.)</text>
<rect x="42.9" y="442.6" width="59.1" height="36" rx="1.8" fill="#fff" fill-opacity="0.8" stroke="#d6d6d6" stroke-width="0.8"/>
<line x1="45.1" y1="448.8" x2="62" y2="448.8" stroke="#6495ed" stroke-width="1.5"/>
<text x="67.6" y="451.7" font-size="8.06" fill="#1a1a1a" stroke="#1a1a1a" stroke-width="0.19" textLength="26.3" lengthAdjust="spacingAndGlyphs">Animal</text>
<line x1="45.1" y1="460" x2="62" y2="460" stroke="#228b22" stroke-width="1.5"/>
<text x="67.6" y="462.9" font-size="8.06" fill="#1a1a1a" stroke="#1a1a1a" stroke-width="0.19" textLength="31.8" lengthAdjust="spacingAndGlyphs">hcDRQN</text>
<line x1="45.1" y1="471.2" x2="62" y2="471.2" stroke="#90ee90" stroke-width="1.5"/>
<text x="67.6" y="474.1" font-size="8.06" fill="#1a1a1a" stroke="#1a1a1a" stroke-width="0.19" textLength="26.51" lengthAdjust="spacingAndGlyphs">hcDQN</text>
<polygon points="211.25,513.65 232.22,497.75 253.19,485.46 274.16,487.63 295.13,497.03 316.1,498.11 337.07,442.8 337.07,442.8 316.1,504.98 295.13,504.62 274.16,502.09 253.19,497.03 232.22,507.87 211.25,515.82" fill="#6495ed" fill-opacity="0.2"/>
<polygon points="211.25,510.4 232.22,492.33 253.19,490.37 274.16,472.3 295.13,490.88 316.1,490.88 337.07,442.8 337.07,442.8 316.1,494.49 295.13,494.49 274.16,475.91 253.19,493.99 232.22,495.94 211.25,514.02" fill="#228b22" fill-opacity="0.2"/>
<polygon points="211.25,490.37 232.22,477.87 253.19,477.87 274.16,448.95 295.13,480.25 316.1,455.45 337.07,442.8 337.07,442.8 316.1,459.07 295.13,483.87 274.16,452.56 253.19,481.48 232.22,481.48 211.25,493.99" fill="#90ee90" fill-opacity="0.2"/>
<polyline points="211.25,515.1 232.22,502.81 253.19,491.96 274.16,494.86 295.13,501.36 316.1,502.09 337.07,442.8" fill="none" stroke="#6495ed" stroke-width="1.4" stroke-linejoin="round"/>
<polyline points="211.25,512.21 232.22,494.13 253.19,492.18 274.16,474.11 295.13,492.69 316.1,492.69 337.07,442.8" fill="none" stroke="#228b22" stroke-width="1.45" stroke-linejoin="round"/>
<polyline points="211.25,492.18 232.22,479.67 253.19,479.67 274.16,450.75 295.13,482.06 316.1,457.26 337.07,442.8" fill="none" stroke="#90ee90" stroke-width="1.35" stroke-linejoin="round"/>
<line x1="205.4" y1="439.2" x2="205.4" y2="518.7" stroke="#3a3a3a" stroke-width="0.85"/>
<line x1="205" y1="518.3" x2="343" y2="518.3" stroke="#3a3a3a" stroke-width="0.85"/>
<line x1="202.1" y1="515.1" x2="205.4" y2="515.1" stroke="#3a3a3a" stroke-width="0.8"/>
<text x="199.8" y="517.9" font-size="8.16" text-anchor="end" fill="#1a1a1a" stroke="#1a1a1a" stroke-width="0.19" textLength="17.14" lengthAdjust="spacingAndGlyphs">0.00</text>
<line x1="202.1" y1="497.03" x2="205.4" y2="497.03" stroke="#3a3a3a" stroke-width="0.8"/>
<text x="199.8" y="499.83" font-size="8.16" text-anchor="end" fill="#1a1a1a" stroke="#1a1a1a" stroke-width="0.19" textLength="17.14" lengthAdjust="spacingAndGlyphs">0.25</text>
<line x1="202.1" y1="478.95" x2="205.4" y2="478.95" stroke="#3a3a3a" stroke-width="0.8"/>
<text x="199.8" y="481.75" font-size="8.16" text-anchor="end" fill="#1a1a1a" stroke="#1a1a1a" stroke-width="0.19" textLength="17.14" lengthAdjust="spacingAndGlyphs">0.50</text>
<line x1="202.1" y1="460.88" x2="205.4" y2="460.88" stroke="#3a3a3a" stroke-width="0.8"/>
<text x="199.8" y="463.68" font-size="8.16" text-anchor="end" fill="#1a1a1a" stroke="#1a1a1a" stroke-width="0.19" textLength="17.14" lengthAdjust="spacingAndGlyphs">0.75</text>
<line x1="202.1" y1="442.8" x2="205.4" y2="442.8" stroke="#3a3a3a" stroke-width="0.8"/>
<text x="199.8" y="445.6" font-size="8.16" text-anchor="end" fill="#1a1a1a" stroke="#1a1a1a" stroke-width="0.19" textLength="17.14" lengthAdjust="spacingAndGlyphs">1.00</text>
<line x1="211.25" y1="518.3" x2="211.25" y2="521.6" stroke="#3a3a3a" stroke-width="0.8"/>
<text x="211.25" y="529.7" font-size="8.16" text-anchor="middle" fill="#1a1a1a" stroke="#1a1a1a" stroke-width="0.19" textLength="4.9" lengthAdjust="spacingAndGlyphs">1</text>
<line x1="232.22" y1="518.3" x2="232.22" y2="521.6" stroke="#3a3a3a" stroke-width="0.8"/>
<text x="232.22" y="529.7" font-size="8.16" text-anchor="middle" fill="#1a1a1a" stroke="#1a1a1a" stroke-width="0.19" textLength="4.9" lengthAdjust="spacingAndGlyphs">2</text>
<line x1="253.19" y1="518.3" x2="253.19" y2="521.6" stroke="#3a3a3a" stroke-width="0.8"/>
<text x="253.19" y="529.7" font-size="8.16" text-anchor="middle" fill="#1a1a1a" stroke="#1a1a1a" stroke-width="0.19" textLength="4.9" lengthAdjust="spacingAndGlyphs">3</text>
<line x1="274.16" y1="518.3" x2="274.16" y2="521.6" stroke="#3a3a3a" stroke-width="0.8"/>
<text x="274.16" y="529.7" font-size="8.16" text-anchor="middle" fill="#1a1a1a" stroke="#1a1a1a" stroke-width="0.19" textLength="4.9" lengthAdjust="spacingAndGlyphs">4</text>
<line x1="295.13" y1="518.3" x2="295.13" y2="521.6" stroke="#3a3a3a" stroke-width="0.8"/>
<text x="295.13" y="529.7" font-size="8.16" text-anchor="middle" fill="#1a1a1a" stroke="#1a1a1a" stroke-width="0.19" textLength="4.9" lengthAdjust="spacingAndGlyphs">5</text>
<line x1="316.1" y1="518.3" x2="316.1" y2="521.6" stroke="#3a3a3a" stroke-width="0.8"/>
<text x="316.1" y="529.7" font-size="8.16" text-anchor="middle" fill="#1a1a1a" stroke="#1a1a1a" stroke-width="0.19" textLength="4.9" lengthAdjust="spacingAndGlyphs">6</text>
<line x1="337.07" y1="518.3" x2="337.07" y2="521.6" stroke="#3a3a3a" stroke-width="0.8"/>
<text x="337.07" y="529.7" font-size="8.16" text-anchor="middle" fill="#1a1a1a" stroke="#1a1a1a" stroke-width="0.19" textLength="4.9" lengthAdjust="spacingAndGlyphs">7</text>
<text x="274.2" y="434.4" font-size="9.54" text-anchor="middle" fill="#1a1a1a" stroke="#1a1a1a" stroke-width="0.23" textLength="25.24" lengthAdjust="spacingAndGlyphs">Allo S</text>
<polygon points="377.3,513.85 398.27,500.8 419.24,496.09 440.21,498.99 461.18,492.1 482.15,496.45 503.12,442.8 503.12,442.8 482.15,503.34 461.18,498.62 440.21,504.42 419.24,502.25 398.27,505.51 377.3,516.02" fill="#6495ed" fill-opacity="0.2"/>
<polygon points="377.3,510.59 398.27,491.38 419.24,490.29 440.21,466.72 461.18,490.29 482.15,487.39 503.12,442.8 503.12,442.8 482.15,491.01 461.18,493.91 440.21,470.35 419.24,493.91 398.27,495 377.3,514.21" fill="#228b22" fill-opacity="0.2"/>
<polygon points="377.3,509.86 398.27,483.76 419.24,485.21 440.21,456.57 461.18,487.75 482.15,464.19 503.12,442.8 503.12,442.8 482.15,467.81 461.18,491.38 440.21,460.2 419.24,488.84 398.27,487.39 377.3,513.49" fill="#90ee90" fill-opacity="0.2"/>
<polyline points="377.3,515.3 398.27,503.34 419.24,499.35 440.21,501.89 461.18,495.36 482.15,500.07 503.12,442.8" fill="none" stroke="#6495ed" stroke-width="1.4" stroke-linejoin="round"/>
<polyline points="377.3,512.4 398.27,493.19 419.24,492.1 440.21,468.54 461.18,492.1 482.15,489.2 503.12,442.8" fill="none" stroke="#228b22" stroke-width="1.45" stroke-linejoin="round"/>
<polyline points="377.3,511.67 398.27,485.57 419.24,487.02 440.21,458.39 461.18,489.56 482.15,466 503.12,442.8" fill="none" stroke="#90ee90" stroke-width="1.35" stroke-linejoin="round"/>
<line x1="371.45" y1="439.2" x2="371.45" y2="518.7" stroke="#3a3a3a" stroke-width="0.85"/>
<line x1="371.05" y1="518.3" x2="509.05" y2="518.3" stroke="#3a3a3a" stroke-width="0.85"/>
<line x1="368.15" y1="515.3" x2="371.45" y2="515.3" stroke="#3a3a3a" stroke-width="0.8"/>
<text x="365.85" y="518.1" font-size="8.16" text-anchor="end" fill="#1a1a1a" stroke="#1a1a1a" stroke-width="0.19" textLength="17.14" lengthAdjust="spacingAndGlyphs">0.00</text>
<line x1="368.15" y1="497.17" x2="371.45" y2="497.17" stroke="#3a3a3a" stroke-width="0.8"/>
<text x="365.85" y="499.97" font-size="8.16" text-anchor="end" fill="#1a1a1a" stroke="#1a1a1a" stroke-width="0.19" textLength="17.14" lengthAdjust="spacingAndGlyphs">0.25</text>
<line x1="368.15" y1="479.05" x2="371.45" y2="479.05" stroke="#3a3a3a" stroke-width="0.8"/>
<text x="365.85" y="481.85" font-size="8.16" text-anchor="end" fill="#1a1a1a" stroke="#1a1a1a" stroke-width="0.19" textLength="17.14" lengthAdjust="spacingAndGlyphs">0.50</text>
<line x1="368.15" y1="460.93" x2="371.45" y2="460.93" stroke="#3a3a3a" stroke-width="0.8"/>
<text x="365.85" y="463.73" font-size="8.16" text-anchor="end" fill="#1a1a1a" stroke="#1a1a1a" stroke-width="0.19" textLength="17.14" lengthAdjust="spacingAndGlyphs">0.75</text>
<line x1="368.15" y1="442.8" x2="371.45" y2="442.8" stroke="#3a3a3a" stroke-width="0.8"/>
<text x="365.85" y="445.6" font-size="8.16" text-anchor="end" fill="#1a1a1a" stroke="#1a1a1a" stroke-width="0.19" textLength="17.14" lengthAdjust="spacingAndGlyphs">1.00</text>
<line x1="377.3" y1="518.3" x2="377.3" y2="521.6" stroke="#3a3a3a" stroke-width="0.8"/>
<text x="377.3" y="529.7" font-size="8.16" text-anchor="middle" fill="#1a1a1a" stroke="#1a1a1a" stroke-width="0.19" textLength="4.9" lengthAdjust="spacingAndGlyphs">1</text>
<line x1="398.27" y1="518.3" x2="398.27" y2="521.6" stroke="#3a3a3a" stroke-width="0.8"/>
<text x="398.27" y="529.7" font-size="8.16" text-anchor="middle" fill="#1a1a1a" stroke="#1a1a1a" stroke-width="0.19" textLength="4.9" lengthAdjust="spacingAndGlyphs">2</text>
<line x1="419.24" y1="518.3" x2="419.24" y2="521.6" stroke="#3a3a3a" stroke-width="0.8"/>
<text x="419.24" y="529.7" font-size="8.16" text-anchor="middle" fill="#1a1a1a" stroke="#1a1a1a" stroke-width="0.19" textLength="4.9" lengthAdjust="spacingAndGlyphs">3</text>
<line x1="440.21" y1="518.3" x2="440.21" y2="521.6" stroke="#3a3a3a" stroke-width="0.8"/>
<text x="440.21" y="529.7" font-size="8.16" text-anchor="middle" fill="#1a1a1a" stroke="#1a1a1a" stroke-width="0.19" textLength="4.9" lengthAdjust="spacingAndGlyphs">4</text>
<line x1="461.18" y1="518.3" x2="461.18" y2="521.6" stroke="#3a3a3a" stroke-width="0.8"/>
<text x="461.18" y="529.7" font-size="8.16" text-anchor="middle" fill="#1a1a1a" stroke="#1a1a1a" stroke-width="0.19" textLength="4.9" lengthAdjust="spacingAndGlyphs">5</text>
<line x1="482.15" y1="518.3" x2="482.15" y2="521.6" stroke="#3a3a3a" stroke-width="0.8"/>
<text x="482.15" y="529.7" font-size="8.16" text-anchor="middle" fill="#1a1a1a" stroke="#1a1a1a" stroke-width="0.19" textLength="4.9" lengthAdjust="spacingAndGlyphs">6</text>
<line x1="503.12" y1="518.3" x2="503.12" y2="521.6" stroke="#3a3a3a" stroke-width="0.8"/>
<text x="503.12" y="529.7" font-size="8.16" text-anchor="middle" fill="#1a1a1a" stroke="#1a1a1a" stroke-width="0.19" textLength="4.9" lengthAdjust="spacingAndGlyphs">7</text>
<text x="440.25" y="434.4" font-size="9.54" text-anchor="middle" fill="#1a1a1a" stroke="#1a1a1a" stroke-width="0.23" textLength="26.5" lengthAdjust="spacingAndGlyphs">Ego N</text>
<polygon points="543.2,510.64 564.17,490.48 585.14,488.28 606.11,495.61 627.08,500.37 648.05,502.21 669.02,442.1 669.02,442.1 648.05,507.34 627.08,505.5 606.11,503.67 585.14,497.07 564.17,508.07 543.2,516.13" fill="#6495ed" fill-opacity="0.2"/>
<polygon points="543.2,509.17 564.17,492.31 585.14,490.11 606.11,469.22 627.08,491.58 648.05,490.84 669.02,442.1 669.02,442.1 648.05,494.51 627.08,495.24 606.11,472.89 585.14,493.78 564.17,495.98 543.2,512.83" fill="#228b22" fill-opacity="0.2"/>
<polygon points="543.2,508.44 564.17,484.98 585.14,486.08 606.11,453.1 627.08,484.98 648.05,465.19 669.02,442.1 669.02,442.1 648.05,468.85 627.08,488.65 606.11,456.76 585.14,489.75 564.17,488.65 543.2,512.1" fill="#90ee90" fill-opacity="0.2"/>
<polyline points="543.2,513.2 564.17,499.27 585.14,491.94 606.11,500.01 627.08,502.94 648.05,504.77 669.02,442.1" fill="none" stroke="#6495ed" stroke-width="1.4" stroke-linejoin="round"/>
<polyline points="543.2,511 564.17,494.14 585.14,491.94 606.11,471.05 627.08,493.41 648.05,492.68 669.02,442.1" fill="none" stroke="#228b22" stroke-width="1.45" stroke-linejoin="round"/>
<polyline points="543.2,510.27 564.17,486.81 585.14,487.91 606.11,454.93 627.08,486.81 648.05,467.02 669.02,442.1" fill="none" stroke="#90ee90" stroke-width="1.35" stroke-linejoin="round"/>
<line x1="537.35" y1="439.2" x2="537.35" y2="518.7" stroke="#3a3a3a" stroke-width="0.85"/>
<line x1="536.95" y1="518.3" x2="674.95" y2="518.3" stroke="#3a3a3a" stroke-width="0.85"/>
<line x1="534.05" y1="515.4" x2="537.35" y2="515.4" stroke="#3a3a3a" stroke-width="0.8"/>
<text x="531.75" y="518.2" font-size="8.16" text-anchor="end" fill="#1a1a1a" stroke="#1a1a1a" stroke-width="0.19" textLength="17.14" lengthAdjust="spacingAndGlyphs">0.00</text>
<line x1="534.05" y1="497.07" x2="537.35" y2="497.07" stroke="#3a3a3a" stroke-width="0.8"/>
<text x="531.75" y="499.88" font-size="8.16" text-anchor="end" fill="#1a1a1a" stroke="#1a1a1a" stroke-width="0.19" textLength="17.14" lengthAdjust="spacingAndGlyphs">0.25</text>
<line x1="534.05" y1="478.75" x2="537.35" y2="478.75" stroke="#3a3a3a" stroke-width="0.8"/>
<text x="531.75" y="481.55" font-size="8.16" text-anchor="end" fill="#1a1a1a" stroke="#1a1a1a" stroke-width="0.19" textLength="17.14" lengthAdjust="spacingAndGlyphs">0.50</text>
<line x1="534.05" y1="460.43" x2="537.35" y2="460.43" stroke="#3a3a3a" stroke-width="0.8"/>
<text x="531.75" y="463.23" font-size="8.16" text-anchor="end" fill="#1a1a1a" stroke="#1a1a1a" stroke-width="0.19" textLength="17.14" lengthAdjust="spacingAndGlyphs">0.75</text>
<line x1="534.05" y1="442.1" x2="537.35" y2="442.1" stroke="#3a3a3a" stroke-width="0.8"/>
<text x="531.75" y="444.9" font-size="8.16" text-anchor="end" fill="#1a1a1a" stroke="#1a1a1a" stroke-width="0.19" textLength="17.14" lengthAdjust="spacingAndGlyphs">1.00</text>
<line x1="543.2" y1="518.3" x2="543.2" y2="521.6" stroke="#3a3a3a" stroke-width="0.8"/>
<text x="543.2" y="529.7" font-size="8.16" text-anchor="middle" fill="#1a1a1a" stroke="#1a1a1a" stroke-width="0.19" textLength="4.9" lengthAdjust="spacingAndGlyphs">1</text>
<line x1="564.17" y1="518.3" x2="564.17" y2="521.6" stroke="#3a3a3a" stroke-width="0.8"/>
<text x="564.17" y="529.7" font-size="8.16" text-anchor="middle" fill="#1a1a1a" stroke="#1a1a1a" stroke-width="0.19" textLength="4.9" lengthAdjust="spacingAndGlyphs">2</text>
<line x1="585.14" y1="518.3" x2="585.14" y2="521.6" stroke="#3a3a3a" stroke-width="0.8"/>
<text x="585.14" y="529.7" font-size="8.16" text-anchor="middle" fill="#1a1a1a" stroke="#1a1a1a" stroke-width="0.19" textLength="4.9" lengthAdjust="spacingAndGlyphs">3</text>
<line x1="606.11" y1="518.3" x2="606.11" y2="521.6" stroke="#3a3a3a" stroke-width="0.8"/>
<text x="606.11" y="529.7" font-size="8.16" text-anchor="middle" fill="#1a1a1a" stroke="#1a1a1a" stroke-width="0.19" textLength="4.9" lengthAdjust="spacingAndGlyphs">4</text>
<line x1="627.08" y1="518.3" x2="627.08" y2="521.6" stroke="#3a3a3a" stroke-width="0.8"/>
<text x="627.08" y="529.7" font-size="8.16" text-anchor="middle" fill="#1a1a1a" stroke="#1a1a1a" stroke-width="0.19" textLength="4.9" lengthAdjust="spacingAndGlyphs">5</text>
<line x1="648.05" y1="518.3" x2="648.05" y2="521.6" stroke="#3a3a3a" stroke-width="0.8"/>
<text x="648.05" y="529.7" font-size="8.16" text-anchor="middle" fill="#1a1a1a" stroke="#1a1a1a" stroke-width="0.19" textLength="4.9" lengthAdjust="spacingAndGlyphs">6</text>
<line x1="669.02" y1="518.3" x2="669.02" y2="521.6" stroke="#3a3a3a" stroke-width="0.8"/>
<text x="669.02" y="529.7" font-size="8.16" text-anchor="middle" fill="#1a1a1a" stroke="#1a1a1a" stroke-width="0.19" textLength="4.9" lengthAdjust="spacingAndGlyphs">7</text>
<text x="606.15" y="434.4" font-size="9.54" text-anchor="middle" fill="#1a1a1a" stroke="#1a1a1a" stroke-width="0.23" textLength="25.48" lengthAdjust="spacingAndGlyphs">Ego S</text>
<text x="0.5" y="576.6" font-size="13.25" font-weight="bold" stroke="#000" stroke-width="0.31" textLength="7.41" lengthAdjust="spacingAndGlyphs">c</text>
<rect x="43.87" y="658.95" width="31.15" height="2.85" fill="#228b22"/>
<rect x="106.18" y="642.02" width="31.15" height="19.78" fill="#90ee90"/>
<circle cx="57.58" cy="642.78" r="1.45" fill="#228b22" stroke="#fff" stroke-width="0.5"/>
<circle cx="49.48" cy="649.91" r="1.45" fill="#228b22" stroke="#fff" stroke-width="0.5"/>
<circle cx="56.64" cy="649.91" r="1.45" fill="#228b22" stroke="#fff" stroke-width="0.5"/>
<circle cx="67.55" cy="655.14" r="1.45" fill="#228b22" stroke="#fff" stroke-width="0.5"/>
<circle cx="70.66" cy="657.52" r="1.45" fill="#228b22" stroke="#fff" stroke-width="0.5"/>
<circle cx="53.22" cy="657.52" r="1.45" fill="#228b22" stroke="#fff" stroke-width="0.5"/>
<circle cx="62.56" cy="658" r="1.45" fill="#228b22" stroke="#fff" stroke-width="0.5"/>
<circle cx="51.7" cy="659.6" r="1.45" fill="#228b22" stroke="#fff" stroke-width="0.5"/>
<circle cx="54.26" cy="659.88" r="1.45" fill="#228b22" stroke="#fff" stroke-width="0.5"/>
<circle cx="62.66" cy="661.4" r="1.45" fill="#228b22" stroke="#fff" stroke-width="0.5"/>
<circle cx="49.46" cy="660.74" r="1.45" fill="#228b22" stroke="#fff" stroke-width="0.5"/>
<circle cx="65" cy="659.89" r="1.45" fill="#228b22" stroke="#fff" stroke-width="0.5"/>
<circle cx="64.14" cy="657.75" r="1.45" fill="#228b22" stroke="#fff" stroke-width="0.5"/>
<circle cx="67.95" cy="661.69" r="1.45" fill="#228b22" stroke="#fff" stroke-width="0.5"/>
<circle cx="60.33" cy="660.89" r="1.45" fill="#228b22" stroke="#fff" stroke-width="0.5"/>
<circle cx="53.45" cy="661.68" r="1.45" fill="#228b22" stroke="#fff" stroke-width="0.5"/>
<circle cx="53.55" cy="659.68" r="1.45" fill="#228b22" stroke="#fff" stroke-width="0.5"/>
<circle cx="53.79" cy="660.86" r="1.45" fill="#228b22" stroke="#fff" stroke-width="0.5"/>
<circle cx="58.59" cy="661.71" r="1.45" fill="#228b22" stroke="#fff" stroke-width="0.5"/>
<circle cx="66.6" cy="659.05" r="1.45" fill="#228b22" stroke="#fff" stroke-width="0.5"/>
<circle cx="52.8" cy="659.12" r="1.45" fill="#228b22" stroke="#fff" stroke-width="0.5"/>
<circle cx="51.42" cy="658.71" r="1.45" fill="#228b22" stroke="#fff" stroke-width="0.5"/>
<circle cx="63.92" cy="660.77" r="1.45" fill="#228b22" stroke="#fff" stroke-width="0.5"/>
<circle cx="66.44" cy="660.5" r="1.45" fill="#228b22" stroke="#fff" stroke-width="0.5"/>
<circle cx="61.3" cy="659.2" r="1.45" fill="#228b22" stroke="#fff" stroke-width="0.5"/>
<circle cx="59.56" cy="661.65" r="1.45" fill="#228b22" stroke="#fff" stroke-width="0.5"/>
<circle cx="54" cy="660.03" r="1.45" fill="#228b22" stroke="#fff" stroke-width="0.5"/>
<circle cx="52.52" cy="658.79" r="1.45" fill="#228b22" stroke="#fff" stroke-width="0.5"/>
<circle cx="63.14" cy="659.92" r="1.45" fill="#228b22" stroke="#fff" stroke-width="0.5"/>
<circle cx="59.63" cy="659.57" r="1.45" fill="#228b22" stroke="#fff" stroke-width="0.5"/>
<circle cx="57.19" cy="661.67" r="1.45" fill="#228b22" stroke="#fff" stroke-width="0.5"/>
<circle cx="49.78" cy="657.59" r="1.45" fill="#228b22" stroke="#fff" stroke-width="0.5"/>
<circle cx="61.42" cy="661.07" r="1.45" fill="#228b22" stroke="#fff" stroke-width="0.5"/>
<circle cx="59.5" cy="659.57" r="1.45" fill="#228b22" stroke="#fff" stroke-width="0.5"/>
<circle cx="60.29" cy="661.27" r="1.45" fill="#228b22" stroke="#fff" stroke-width="0.5"/>
<circle cx="118.64" cy="597.32" r="1.45" fill="#90ee90" stroke="#fff" stroke-width="0.5"/>
<circle cx="121.13" cy="618.24" r="1.45" fill="#90ee90" stroke="#fff" stroke-width="0.5"/>
<circle cx="117.76" cy="622.71" r="1.45" fill="#90ee90" stroke="#fff" stroke-width="0.5"/>
<circle cx="121.56" cy="622.14" r="1.45" fill="#90ee90" stroke="#fff" stroke-width="0.5"/>
<circle cx="125.05" cy="624.33" r="1.45" fill="#90ee90" stroke="#fff" stroke-width="0.5"/>
<circle cx="126.67" cy="623.38" r="1.45" fill="#90ee90" stroke="#fff" stroke-width="0.5"/>
<circle cx="114.59" cy="630.89" r="1.45" fill="#90ee90" stroke="#fff" stroke-width="0.5"/>
<circle cx="121.75" cy="632.32" r="1.45" fill="#90ee90" stroke="#fff" stroke-width="0.5"/>
<circle cx="127.98" cy="631.18" r="1.45" fill="#90ee90" stroke="#fff" stroke-width="0.5"/>
<circle cx="130.66" cy="630.23" r="1.45" fill="#90ee90" stroke="#fff" stroke-width="0.5"/>
<circle cx="112.53" cy="634.22" r="1.45" fill="#90ee90" stroke="#fff" stroke-width="0.5"/>
<circle cx="117.51" cy="636.12" r="1.45" fill="#90ee90" stroke="#fff" stroke-width="0.5"/>
<circle cx="114.46" cy="637.17" r="1.45" fill="#90ee90" stroke="#fff" stroke-width="0.5"/>
<circle cx="128.79" cy="637.55" r="1.45" fill="#90ee90" stroke="#fff" stroke-width="0.5"/>
<circle cx="132.59" cy="635.65" r="1.45" fill="#90ee90" stroke="#fff" stroke-width="0.5"/>
<circle cx="124.06" cy="638.69" r="1.45" fill="#90ee90" stroke="#fff" stroke-width="0.5"/>
<circle cx="116.52" cy="640.88" r="1.45" fill="#90ee90" stroke="#fff" stroke-width="0.5"/>
<circle cx="132.09" cy="640.31" r="1.45" fill="#90ee90" stroke="#fff" stroke-width="0.5"/>
<circle cx="118.64" cy="641.16" r="1.45" fill="#90ee90" stroke="#fff" stroke-width="0.5"/>
<circle cx="131.41" cy="659.41" r="1.45" fill="#90ee90" stroke="#fff" stroke-width="0.5"/>
<circle cx="112.96" cy="651.58" r="1.45" fill="#90ee90" stroke="#fff" stroke-width="0.5"/>
<circle cx="125.35" cy="649.53" r="1.45" fill="#90ee90" stroke="#fff" stroke-width="0.5"/>
<circle cx="124.01" cy="657.19" r="1.45" fill="#90ee90" stroke="#fff" stroke-width="0.5"/>
<circle cx="120.28" cy="647.52" r="1.45" fill="#90ee90" stroke="#fff" stroke-width="0.5"/>
<circle cx="132.23" cy="654.34" r="1.45" fill="#90ee90" stroke="#fff" stroke-width="0.5"/>
<circle cx="120.58" cy="659.28" r="1.45" fill="#90ee90" stroke="#fff" stroke-width="0.5"/>
<circle cx="111.74" cy="654.45" r="1.45" fill="#90ee90" stroke="#fff" stroke-width="0.5"/>
<circle cx="119.21" cy="654.57" r="1.45" fill="#90ee90" stroke="#fff" stroke-width="0.5"/>
<circle cx="123.03" cy="659.49" r="1.45" fill="#90ee90" stroke="#fff" stroke-width="0.5"/>
<circle cx="118.05" cy="651.16" r="1.45" fill="#90ee90" stroke="#fff" stroke-width="0.5"/>
<circle cx="132.32" cy="656.79" r="1.45" fill="#90ee90" stroke="#fff" stroke-width="0.5"/>
<circle cx="130.09" cy="647.33" r="1.45" fill="#90ee90" stroke="#fff" stroke-width="0.5"/>
<circle cx="130.36" cy="646.38" r="1.45" fill="#90ee90" stroke="#fff" stroke-width="0.5"/>
<circle cx="118.65" cy="646.12" r="1.45" fill="#90ee90" stroke="#fff" stroke-width="0.5"/>
<circle cx="114.57" cy="647.66" r="1.45" fill="#90ee90" stroke="#fff" stroke-width="0.5"/>
<circle cx="120.93" cy="651.51" r="1.45" fill="#90ee90" stroke="#fff" stroke-width="0.5"/>
<circle cx="130.75" cy="645.66" r="1.45" fill="#90ee90" stroke="#fff" stroke-width="0.5"/>
<circle cx="118.66" cy="648.2" r="1.45" fill="#90ee90" stroke="#fff" stroke-width="0.5"/>
<circle cx="120.93" cy="644.14" r="1.45" fill="#90ee90" stroke="#fff" stroke-width="0.5"/>
<circle cx="126.49" cy="656.1" r="1.45" fill="#90ee90" stroke="#fff" stroke-width="0.5"/>
<circle cx="118.04" cy="657.06" r="1.45" fill="#90ee90" stroke="#fff" stroke-width="0.5"/>
<circle cx="130.39" cy="644.3" r="1.45" fill="#90ee90" stroke="#fff" stroke-width="0.5"/>
<circle cx="117.72" cy="652.06" r="1.45" fill="#90ee90" stroke="#fff" stroke-width="0.5"/>
<circle cx="121.84" cy="648.75" r="1.45" fill="#90ee90" stroke="#fff" stroke-width="0.5"/>
<circle cx="123.61" cy="656.34" r="1.45" fill="#90ee90" stroke="#fff" stroke-width="0.5"/>
<circle cx="122" cy="653.29" r="1.45" fill="#90ee90" stroke="#fff" stroke-width="0.5"/>
<circle cx="112.76" cy="651.74" r="1.45" fill="#90ee90" stroke="#fff" stroke-width="0.5"/>
<circle cx="130.39" cy="647.15" r="1.45" fill="#90ee90" stroke="#fff" stroke-width="0.5"/>
<circle cx="112.4" cy="655.22" r="1.45" fill="#90ee90" stroke="#fff" stroke-width="0.5"/>
<line x1="59.45" y1="658.38" x2="59.45" y2="659.52" stroke="#000" stroke-width="1.3"/>
<line x1="57.85" y1="658.38" x2="61.05" y2="658.38" stroke="#000" stroke-width="1"/>
<line x1="57.85" y1="659.52" x2="61.05" y2="659.52" stroke="#000" stroke-width="1"/>
<line x1="121.75" y1="640.31" x2="121.75" y2="643.73" stroke="#000" stroke-width="1.3"/>
<line x1="120.15" y1="640.31" x2="123.35" y2="640.31" stroke="#000" stroke-width="1"/>
<line x1="120.15" y1="643.73" x2="123.35" y2="643.73" stroke="#000" stroke-width="1"/>
<line x1="39.2" y1="582" x2="39.2" y2="662.2" stroke="#3a3a3a" stroke-width="0.85"/>
<line x1="38.8" y1="661.8" x2="142" y2="661.8" stroke="#3a3a3a" stroke-width="0.85"/>
<line x1="35.9" y1="661.8" x2="39.2" y2="661.8" stroke="#3a3a3a" stroke-width="0.8"/>
<text x="33.6" y="664.6" font-size="8.16" text-anchor="end" fill="#1a1a1a" stroke="#1a1a1a" stroke-width="0.19" textLength="12.25" lengthAdjust="spacingAndGlyphs">0.0</text>
<line x1="35.9" y1="642.78" x2="39.2" y2="642.78" stroke="#3a3a3a" stroke-width="0.8"/>
<text x="33.6" y="645.58" font-size="8.16" text-anchor="end" fill="#1a1a1a" stroke="#1a1a1a" stroke-width="0.19" textLength="12.25" lengthAdjust="spacingAndGlyphs">0.2</text>
<line x1="35.9" y1="623.76" x2="39.2" y2="623.76" stroke="#3a3a3a" stroke-width="0.8"/>
<text x="33.6" y="626.56" font-size="8.16" text-anchor="end" fill="#1a1a1a" stroke="#1a1a1a" stroke-width="0.19" textLength="12.25" lengthAdjust="spacingAndGlyphs">0.4</text>
<line x1="35.9" y1="604.74" x2="39.2" y2="604.74" stroke="#3a3a3a" stroke-width="0.8"/>
<text x="33.6" y="607.54" font-size="8.16" text-anchor="end" fill="#1a1a1a" stroke="#1a1a1a" stroke-width="0.19" textLength="12.25" lengthAdjust="spacingAndGlyphs">0.6</text>
<line x1="35.9" y1="585.72" x2="39.2" y2="585.72" stroke="#3a3a3a" stroke-width="0.8"/>
<text x="33.6" y="588.52" font-size="8.16" text-anchor="end" fill="#1a1a1a" stroke="#1a1a1a" stroke-width="0.19" textLength="12.25" lengthAdjust="spacingAndGlyphs">0.8</text>
<line x1="59.45" y1="661.8" x2="59.45" y2="665.1" stroke="#3a3a3a" stroke-width="0.8"/>
<text x="49.56" y="694.32" font-size="8.16" fill="#1a1a1a" stroke="#1a1a1a" stroke-width="0.19" textLength="32.21" lengthAdjust="spacingAndGlyphs" transform="rotate(-45 49.56 694.32)">hcDRQN</text>
<line x1="121.75" y1="661.8" x2="121.75" y2="665.1" stroke="#3a3a3a" stroke-width="0.8"/>
<text x="113.76" y="690.53" font-size="8.16" fill="#1a1a1a" stroke="#1a1a1a" stroke-width="0.19" textLength="26.86" lengthAdjust="spacingAndGlyphs" transform="rotate(-45 113.76 690.53)">hcDQN</text>
<text x="90.6" y="577.7" font-size="9.54" text-anchor="middle" fill="#1a1a1a" stroke="#1a1a1a" stroke-width="0.23" textLength="26.26" lengthAdjust="spacingAndGlyphs">Allo N</text>
<line x1="59.45" y1="592.1" x2="121.75" y2="592.1" stroke="#9a9a9a" stroke-width="0.9"/>
<line x1="59.45" y1="591.7" x2="59.45" y2="593.5" stroke="#333" stroke-width="0.8"/>
<line x1="121.75" y1="591.7" x2="121.75" y2="593.5" stroke="#333" stroke-width="0.8"/>
<text x="90.6" y="591.73" font-size="10.78" text-anchor="middle" textLength="16.6" lengthAdjust="spacingAndGlyphs" fill="#1a1a1a" stroke="#1a1a1a" stroke-width="0.25">****</text>
<rect x="177.32" y="659.25" width="31.15" height="2.55" fill="#228b22"/>
<rect x="239.63" y="641.55" width="31.15" height="20.25" fill="#90ee90"/>
<circle cx="197.38" cy="647.92" r="1.45" fill="#228b22" stroke="#fff" stroke-width="0.5"/>
<circle cx="184.86" cy="652.31" r="1.45" fill="#228b22" stroke="#fff" stroke-width="0.5"/>
<circle cx="186.17" cy="653.12" r="1.45" fill="#228b22" stroke="#fff" stroke-width="0.5"/>
<circle cx="202.99" cy="654.74" r="1.45" fill="#228b22" stroke="#fff" stroke-width="0.5"/>
<circle cx="190.28" cy="654.86" r="1.45" fill="#228b22" stroke="#fff" stroke-width="0.5"/>
<circle cx="192.59" cy="654.86" r="1.45" fill="#228b22" stroke="#fff" stroke-width="0.5"/>
<circle cx="199.5" cy="656.01" r="1.45" fill="#228b22" stroke="#fff" stroke-width="0.5"/>
<circle cx="194.21" cy="656.82" r="1.45" fill="#228b22" stroke="#fff" stroke-width="0.5"/>
<circle cx="182.87" cy="657.29" r="1.45" fill="#228b22" stroke="#fff" stroke-width="0.5"/>
<circle cx="191.89" cy="658.06" r="1.45" fill="#228b22" stroke="#fff" stroke-width="0.5"/>
<circle cx="192.17" cy="659.42" r="1.45" fill="#228b22" stroke="#fff" stroke-width="0.5"/>
<circle cx="186.22" cy="659.25" r="1.45" fill="#228b22" stroke="#fff" stroke-width="0.5"/>
<circle cx="199.1" cy="660.57" r="1.45" fill="#228b22" stroke="#fff" stroke-width="0.5"/>
<circle cx="184.23" cy="659.99" r="1.45" fill="#228b22" stroke="#fff" stroke-width="0.5"/>
<circle cx="183.19" cy="658.51" r="1.45" fill="#228b22" stroke="#fff" stroke-width="0.5"/>
<circle cx="196.16" cy="661.16" r="1.45" fill="#228b22" stroke="#fff" stroke-width="0.5"/>
<circle cx="182.62" cy="661.56" r="1.45" fill="#228b22" stroke="#fff" stroke-width="0.5"/>
<circle cx="186.34" cy="661.68" r="1.45" fill="#228b22" stroke="#fff" stroke-width="0.5"/>
<circle cx="192.13" cy="658.39" r="1.45" fill="#228b22" stroke="#fff" stroke-width="0.5"/>
<circle cx="193.3" cy="659.78" r="1.45" fill="#228b22" stroke="#fff" stroke-width="0.5"/>
<circle cx="196.34" cy="660.67" r="1.45" fill="#228b22" stroke="#fff" stroke-width="0.5"/>
<circle cx="203.44" cy="659.37" r="1.45" fill="#228b22" stroke="#fff" stroke-width="0.5"/>
<circle cx="197.3" cy="660.87" r="1.45" fill="#228b22" stroke="#fff" stroke-width="0.5"/>
<circle cx="188.43" cy="658.7" r="1.45" fill="#228b22" stroke="#fff" stroke-width="0.5"/>
<circle cx="190.79" cy="660.92" r="1.45" fill="#228b22" stroke="#fff" stroke-width="0.5"/>
<circle cx="202.6" cy="661.8" r="1.45" fill="#228b22" stroke="#fff" stroke-width="0.5"/>
<circle cx="186.75" cy="660.7" r="1.45" fill="#228b22" stroke="#fff" stroke-width="0.5"/>
<circle cx="203.07" cy="661.5" r="1.45" fill="#228b22" stroke="#fff" stroke-width="0.5"/>
<circle cx="195.64" cy="660.71" r="1.45" fill="#228b22" stroke="#fff" stroke-width="0.5"/>
<circle cx="184.15" cy="657.9" r="1.45" fill="#228b22" stroke="#fff" stroke-width="0.5"/>
<circle cx="198.36" cy="660.8" r="1.45" fill="#228b22" stroke="#fff" stroke-width="0.5"/>
<circle cx="184.45" cy="658.57" r="1.45" fill="#228b22" stroke="#fff" stroke-width="0.5"/>
<circle cx="186.07" cy="659.99" r="1.45" fill="#228b22" stroke="#fff" stroke-width="0.5"/>
<circle cx="186.35" cy="661.27" r="1.45" fill="#228b22" stroke="#fff" stroke-width="0.5"/>
<circle cx="195.94" cy="660.1" r="1.45" fill="#228b22" stroke="#fff" stroke-width="0.5"/>
<circle cx="186.82" cy="657.87" r="1.45" fill="#228b22" stroke="#fff" stroke-width="0.5"/>
<circle cx="199.33" cy="658.22" r="1.45" fill="#228b22" stroke="#fff" stroke-width="0.5"/>
<circle cx="186.77" cy="658.34" r="1.45" fill="#228b22" stroke="#fff" stroke-width="0.5"/>
<circle cx="195.9" cy="657.79" r="1.45" fill="#228b22" stroke="#fff" stroke-width="0.5"/>
<circle cx="186.82" cy="658.67" r="1.45" fill="#228b22" stroke="#fff" stroke-width="0.5"/>
<circle cx="189.28" cy="661.5" r="1.45" fill="#228b22" stroke="#fff" stroke-width="0.5"/>
<circle cx="250.59" cy="597.36" r="1.45" fill="#90ee90" stroke="#fff" stroke-width="0.5"/>
<circle cx="246.79" cy="607.42" r="1.45" fill="#90ee90" stroke="#fff" stroke-width="0.5"/>
<circle cx="253.83" cy="607.42" r="1.45" fill="#90ee90" stroke="#fff" stroke-width="0.5"/>
<circle cx="249.59" cy="609.73" r="1.45" fill="#90ee90" stroke="#fff" stroke-width="0.5"/>
<circle cx="247.6" cy="612.05" r="1.45" fill="#90ee90" stroke="#fff" stroke-width="0.5"/>
<circle cx="251.09" cy="615.52" r="1.45" fill="#90ee90" stroke="#fff" stroke-width="0.5"/>
<circle cx="259.87" cy="621.88" r="1.45" fill="#90ee90" stroke="#fff" stroke-width="0.5"/>
<circle cx="250.59" cy="624.78" r="1.45" fill="#90ee90" stroke="#fff" stroke-width="0.5"/>
<circle cx="264.42" cy="626.51" r="1.45" fill="#90ee90" stroke="#fff" stroke-width="0.5"/>
<circle cx="264.42" cy="631.14" r="1.45" fill="#90ee90" stroke="#fff" stroke-width="0.5"/>
<circle cx="253.21" cy="632.3" r="1.45" fill="#90ee90" stroke="#fff" stroke-width="0.5"/>
<circle cx="244.98" cy="637.5" r="1.45" fill="#90ee90" stroke="#fff" stroke-width="0.5"/>
<circle cx="263.49" cy="636.35" r="1.45" fill="#90ee90" stroke="#fff" stroke-width="0.5"/>
<circle cx="256.7" cy="637.5" r="1.45" fill="#90ee90" stroke="#fff" stroke-width="0.5"/>
<circle cx="266.04" cy="638.66" r="1.45" fill="#90ee90" stroke="#fff" stroke-width="0.5"/>
<circle cx="265.54" cy="641.55" r="1.45" fill="#90ee90" stroke="#fff" stroke-width="0.5"/>
<circle cx="254.66" cy="647.53" r="1.45" fill="#90ee90" stroke="#fff" stroke-width="0.5"/>
<circle cx="247.63" cy="652.77" r="1.45" fill="#90ee90" stroke="#fff" stroke-width="0.5"/>
<circle cx="250.42" cy="651.53" r="1.45" fill="#90ee90" stroke="#fff" stroke-width="0.5"/>
<circle cx="257.35" cy="647.63" r="1.45" fill="#90ee90" stroke="#fff" stroke-width="0.5"/>
<circle cx="247.69" cy="656.58" r="1.45" fill="#90ee90" stroke="#fff" stroke-width="0.5"/>
<circle cx="263.8" cy="644.8" r="1.45" fill="#90ee90" stroke="#fff" stroke-width="0.5"/>
<circle cx="246.19" cy="653.44" r="1.45" fill="#90ee90" stroke="#fff" stroke-width="0.5"/>
<circle cx="253.18" cy="659.32" r="1.45" fill="#90ee90" stroke="#fff" stroke-width="0.5"/>
<circle cx="245.9" cy="654.12" r="1.45" fill="#90ee90" stroke="#fff" stroke-width="0.5"/>
<circle cx="246.54" cy="645.69" r="1.45" fill="#90ee90" stroke="#fff" stroke-width="0.5"/>
<circle cx="246.99" cy="657.06" r="1.45" fill="#90ee90" stroke="#fff" stroke-width="0.5"/>
<circle cx="251.23" cy="656.55" r="1.45" fill="#90ee90" stroke="#fff" stroke-width="0.5"/>
<circle cx="259.37" cy="656.42" r="1.45" fill="#90ee90" stroke="#fff" stroke-width="0.5"/>
<circle cx="261.89" cy="651.97" r="1.45" fill="#90ee90" stroke="#fff" stroke-width="0.5"/>
<circle cx="257.23" cy="652.59" r="1.45" fill="#90ee90" stroke="#fff" stroke-width="0.5"/>
<circle cx="245.26" cy="642.14" r="1.45" fill="#90ee90" stroke="#fff" stroke-width="0.5"/>
<circle cx="265.29" cy="653.1" r="1.45" fill="#90ee90" stroke="#fff" stroke-width="0.5"/>
<circle cx="252.3" cy="647.4" r="1.45" fill="#90ee90" stroke="#fff" stroke-width="0.5"/>
<circle cx="247.02" cy="652.97" r="1.45" fill="#90ee90" stroke="#fff" stroke-width="0.5"/>
<circle cx="255.44" cy="654.23" r="1.45" fill="#90ee90" stroke="#fff" stroke-width="0.5"/>
<circle cx="245.21" cy="655.09" r="1.45" fill="#90ee90" stroke="#fff" stroke-width="0.5"/>
<circle cx="255.6" cy="651.82" r="1.45" fill="#90ee90" stroke="#fff" stroke-width="0.5"/>
<circle cx="252.83" cy="657.65" r="1.45" fill="#90ee90" stroke="#fff" stroke-width="0.5"/>
<circle cx="256.26" cy="647.01" r="1.45" fill="#90ee90" stroke="#fff" stroke-width="0.5"/>
<circle cx="245.39" cy="653.31" r="1.45" fill="#90ee90" stroke="#fff" stroke-width="0.5"/>
<circle cx="258.1" cy="651.25" r="1.45" fill="#90ee90" stroke="#fff" stroke-width="0.5"/>
<circle cx="249.03" cy="650.94" r="1.45" fill="#90ee90" stroke="#fff" stroke-width="0.5"/>
<circle cx="264.92" cy="642.34" r="1.45" fill="#90ee90" stroke="#fff" stroke-width="0.5"/>
<circle cx="248.16" cy="655.85" r="1.45" fill="#90ee90" stroke="#fff" stroke-width="0.5"/>
<circle cx="248.62" cy="643.13" r="1.45" fill="#90ee90" stroke="#fff" stroke-width="0.5"/>
<circle cx="244.75" cy="645.67" r="1.45" fill="#90ee90" stroke="#fff" stroke-width="0.5"/>
<circle cx="251.85" cy="659.33" r="1.45" fill="#90ee90" stroke="#fff" stroke-width="0.5"/>
<circle cx="245.46" cy="641.84" r="1.45" fill="#90ee90" stroke="#fff" stroke-width="0.5"/>
<circle cx="265.76" cy="659.06" r="1.45" fill="#90ee90" stroke="#fff" stroke-width="0.5"/>
<line x1="192.9" y1="658.68" x2="192.9" y2="659.83" stroke="#000" stroke-width="1.3"/>
<line x1="191.3" y1="658.68" x2="194.5" y2="658.68" stroke="#000" stroke-width="1"/>
<line x1="191.3" y1="659.83" x2="194.5" y2="659.83" stroke="#000" stroke-width="1"/>
<line x1="255.2" y1="639.82" x2="255.2" y2="643.29" stroke="#000" stroke-width="1.3"/>
<line x1="253.6" y1="639.82" x2="256.8" y2="639.82" stroke="#000" stroke-width="1"/>
<line x1="253.6" y1="643.29" x2="256.8" y2="643.29" stroke="#000" stroke-width="1"/>
<line x1="172.65" y1="582" x2="172.65" y2="662.2" stroke="#3a3a3a" stroke-width="0.85"/>
<line x1="172.25" y1="661.8" x2="275.45" y2="661.8" stroke="#3a3a3a" stroke-width="0.85"/>
<line x1="169.35" y1="661.8" x2="172.65" y2="661.8" stroke="#3a3a3a" stroke-width="0.8"/>
<text x="167.05" y="664.6" font-size="8.16" text-anchor="end" fill="#1a1a1a" stroke="#1a1a1a" stroke-width="0.19" textLength="12.25" lengthAdjust="spacingAndGlyphs">0.0</text>
<line x1="169.35" y1="638.66" x2="172.65" y2="638.66" stroke="#3a3a3a" stroke-width="0.8"/>
<text x="167.05" y="641.46" font-size="8.16" text-anchor="end" fill="#1a1a1a" stroke="#1a1a1a" stroke-width="0.19" textLength="12.25" lengthAdjust="spacingAndGlyphs">0.2</text>
<line x1="169.35" y1="615.52" x2="172.65" y2="615.52" stroke="#3a3a3a" stroke-width="0.8"/>
<text x="167.05" y="618.32" font-size="8.16" text-anchor="end" fill="#1a1a1a" stroke="#1a1a1a" stroke-width="0.19" textLength="12.25" lengthAdjust="spacingAndGlyphs">0.4</text>
<line x1="169.35" y1="592.38" x2="172.65" y2="592.38" stroke="#3a3a3a" stroke-width="0.8"/>
<text x="167.05" y="595.18" font-size="8.16" text-anchor="end" fill="#1a1a1a" stroke="#1a1a1a" stroke-width="0.19" textLength="12.25" lengthAdjust="spacingAndGlyphs">0.6</text>
<line x1="192.9" y1="661.8" x2="192.9" y2="665.1" stroke="#3a3a3a" stroke-width="0.8"/>
<text x="183.01" y="694.32" font-size="8.16" fill="#1a1a1a" stroke="#1a1a1a" stroke-width="0.19" textLength="32.21" lengthAdjust="spacingAndGlyphs" transform="rotate(-45 183.01 694.32)">hcDRQN</text>
<line x1="255.2" y1="661.8" x2="255.2" y2="665.1" stroke="#3a3a3a" stroke-width="0.8"/>
<text x="247.21" y="690.53" font-size="8.16" fill="#1a1a1a" stroke="#1a1a1a" stroke-width="0.19" textLength="26.86" lengthAdjust="spacingAndGlyphs" transform="rotate(-45 247.21 690.53)">hcDQN</text>
<text x="224.05" y="577.7" font-size="9.54" text-anchor="middle" fill="#1a1a1a" stroke="#1a1a1a" stroke-width="0.23" textLength="25.24" lengthAdjust="spacingAndGlyphs">Allo S</text>
<line x1="192.9" y1="592.1" x2="255.2" y2="592.1" stroke="#9a9a9a" stroke-width="0.9"/>
<line x1="192.9" y1="591.7" x2="192.9" y2="593.5" stroke="#333" stroke-width="0.8"/>
<line x1="255.2" y1="591.7" x2="255.2" y2="593.5" stroke="#333" stroke-width="0.8"/>
<text x="224.05" y="591.73" font-size="10.78" text-anchor="middle" textLength="16.6" lengthAdjust="spacingAndGlyphs" fill="#1a1a1a" stroke="#1a1a1a" stroke-width="0.25">****</text>
<rect x="310.77" y="657.91" width="31.15" height="3.88" fill="#228b22"/>
<rect x="373.08" y="650.88" width="31.15" height="10.91" fill="#90ee90"/>
<circle cx="325.54" cy="646.63" r="1.45" fill="#228b22" stroke="#fff" stroke-width="0.5"/>
<circle cx="320.55" cy="649.5" r="1.45" fill="#228b22" stroke="#fff" stroke-width="0.5"/>
<circle cx="336.5" cy="648.66" r="1.45" fill="#228b22" stroke="#fff" stroke-width="0.5"/>
<circle cx="331.89" cy="653.94" r="1.45" fill="#228b22" stroke="#fff" stroke-width="0.5"/>
<circle cx="335.07" cy="654.68" r="1.45" fill="#228b22" stroke="#fff" stroke-width="0.5"/>
<circle cx="318.93" cy="653.1" r="1.45" fill="#228b22" stroke="#fff" stroke-width="0.5"/>
<circle cx="319.25" cy="657.39" r="1.45" fill="#228b22" stroke="#fff" stroke-width="0.5"/>
<circle cx="325.91" cy="656.3" r="1.45" fill="#228b22" stroke="#fff" stroke-width="0.5"/>
<circle cx="332.87" cy="658.3" r="1.45" fill="#228b22" stroke="#fff" stroke-width="0.5"/>
<circle cx="320.76" cy="659.23" r="1.45" fill="#228b22" stroke="#fff" stroke-width="0.5"/>
<circle cx="328.16" cy="656.29" r="1.45" fill="#228b22" stroke="#fff" stroke-width="0.5"/>
<circle cx="320.68" cy="661.51" r="1.45" fill="#228b22" stroke="#fff" stroke-width="0.5"/>
<circle cx="336.89" cy="655.73" r="1.45" fill="#228b22" stroke="#fff" stroke-width="0.5"/>
<circle cx="328.8" cy="659.52" r="1.45" fill="#228b22" stroke="#fff" stroke-width="0.5"/>
<circle cx="326.3" cy="655.2" r="1.45" fill="#228b22" stroke="#fff" stroke-width="0.5"/>
<circle cx="323.56" cy="656.13" r="1.45" fill="#228b22" stroke="#fff" stroke-width="0.5"/>
<circle cx="318.4" cy="659.99" r="1.45" fill="#228b22" stroke="#fff" stroke-width="0.5"/>
<circle cx="327.45" cy="658.44" r="1.45" fill="#228b22" stroke="#fff" stroke-width="0.5"/>
<circle cx="319.72" cy="655.79" r="1.45" fill="#228b22" stroke="#fff" stroke-width="0.5"/>
<circle cx="320.73" cy="660.35" r="1.45" fill="#228b22" stroke="#fff" stroke-width="0.5"/>
<circle cx="336.28" cy="658.3" r="1.45" fill="#228b22" stroke="#fff" stroke-width="0.5"/>
<circle cx="331.92" cy="656.74" r="1.45" fill="#228b22" stroke="#fff" stroke-width="0.5"/>
<circle cx="318.35" cy="656.06" r="1.45" fill="#228b22" stroke="#fff" stroke-width="0.5"/>
<circle cx="320.02" cy="657.19" r="1.45" fill="#228b22" stroke="#fff" stroke-width="0.5"/>
<circle cx="324.43" cy="658.67" r="1.45" fill="#228b22" stroke="#fff" stroke-width="0.5"/>
<circle cx="323.93" cy="660.3" r="1.45" fill="#228b22" stroke="#fff" stroke-width="0.5"/>
<circle cx="316.33" cy="656.82" r="1.45" fill="#228b22" stroke="#fff" stroke-width="0.5"/>
<circle cx="336.79" cy="658.39" r="1.45" fill="#228b22" stroke="#fff" stroke-width="0.5"/>
<circle cx="327.42" cy="660.26" r="1.45" fill="#228b22" stroke="#fff" stroke-width="0.5"/>
<circle cx="328.66" cy="657.48" r="1.45" fill="#228b22" stroke="#fff" stroke-width="0.5"/>
<circle cx="319.58" cy="659.38" r="1.45" fill="#228b22" stroke="#fff" stroke-width="0.5"/>
<circle cx="335.4" cy="657.66" r="1.45" fill="#228b22" stroke="#fff" stroke-width="0.5"/>
<circle cx="322.25" cy="661.34" r="1.45" fill="#228b22" stroke="#fff" stroke-width="0.5"/>
<circle cx="332.99" cy="659.2" r="1.45" fill="#228b22" stroke="#fff" stroke-width="0.5"/>
<circle cx="330.23" cy="655.57" r="1.45" fill="#228b22" stroke="#fff" stroke-width="0.5"/>
<circle cx="336.06" cy="654.94" r="1.45" fill="#228b22" stroke="#fff" stroke-width="0.5"/>
<circle cx="336.12" cy="655.67" r="1.45" fill="#228b22" stroke="#fff" stroke-width="0.5"/>
<circle cx="326.16" cy="660.08" r="1.45" fill="#228b22" stroke="#fff" stroke-width="0.5"/>
<circle cx="334.32" cy="661.32" r="1.45" fill="#228b22" stroke="#fff" stroke-width="0.5"/>
<circle cx="332.82" cy="658.45" r="1.45" fill="#228b22" stroke="#fff" stroke-width="0.5"/>
<circle cx="333.49" cy="660.01" r="1.45" fill="#228b22" stroke="#fff" stroke-width="0.5"/>
<circle cx="321.9" cy="660.62" r="1.45" fill="#228b22" stroke="#fff" stroke-width="0.5"/>
<circle cx="387.34" cy="597.33" r="1.45" fill="#90ee90" stroke="#fff" stroke-width="0.5"/>
<circle cx="399.55" cy="629.42" r="1.45" fill="#90ee90" stroke="#fff" stroke-width="0.5"/>
<circle cx="379.49" cy="632.2" r="1.45" fill="#90ee90" stroke="#fff" stroke-width="0.5"/>
<circle cx="381.11" cy="640.25" r="1.45" fill="#90ee90" stroke="#fff" stroke-width="0.5"/>
<circle cx="385.91" cy="639.41" r="1.45" fill="#90ee90" stroke="#fff" stroke-width="0.5"/>
<circle cx="385.16" cy="642.38" r="1.45" fill="#90ee90" stroke="#fff" stroke-width="0.5"/>
<circle cx="397.06" cy="641.26" r="1.45" fill="#90ee90" stroke="#fff" stroke-width="0.5"/>
<circle cx="387.34" cy="645.52" r="1.45" fill="#90ee90" stroke="#fff" stroke-width="0.5"/>
<circle cx="394.26" cy="645.8" r="1.45" fill="#90ee90" stroke="#fff" stroke-width="0.5"/>
<circle cx="396.38" cy="647.09" r="1.45" fill="#90ee90" stroke="#fff" stroke-width="0.5"/>
<circle cx="379.06" cy="647.92" r="1.45" fill="#90ee90" stroke="#fff" stroke-width="0.5"/>
<circle cx="383.36" cy="648.29" r="1.45" fill="#90ee90" stroke="#fff" stroke-width="0.5"/>
<circle cx="398.36" cy="659.73" r="1.45" fill="#90ee90" stroke="#fff" stroke-width="0.5"/>
<circle cx="399.21" cy="658.83" r="1.45" fill="#90ee90" stroke="#fff" stroke-width="0.5"/>
<circle cx="391.86" cy="651.72" r="1.45" fill="#90ee90" stroke="#fff" stroke-width="0.5"/>
<circle cx="382.97" cy="658.33" r="1.45" fill="#90ee90" stroke="#fff" stroke-width="0.5"/>
<circle cx="390.79" cy="655.89" r="1.45" fill="#90ee90" stroke="#fff" stroke-width="0.5"/>
<circle cx="397.63" cy="659.5" r="1.45" fill="#90ee90" stroke="#fff" stroke-width="0.5"/>
<circle cx="396.73" cy="657.08" r="1.45" fill="#90ee90" stroke="#fff" stroke-width="0.5"/>
<circle cx="382.09" cy="656.67" r="1.45" fill="#90ee90" stroke="#fff" stroke-width="0.5"/>
<circle cx="397.93" cy="651.06" r="1.45" fill="#90ee90" stroke="#fff" stroke-width="0.5"/>
<circle cx="390.06" cy="654.29" r="1.45" fill="#90ee90" stroke="#fff" stroke-width="0.5"/>
<circle cx="383.53" cy="658.37" r="1.45" fill="#90ee90" stroke="#fff" stroke-width="0.5"/>
<circle cx="394.61" cy="656.17" r="1.45" fill="#90ee90" stroke="#fff" stroke-width="0.5"/>
<circle cx="381.07" cy="656.03" r="1.45" fill="#90ee90" stroke="#fff" stroke-width="0.5"/>
<circle cx="381.98" cy="655.03" r="1.45" fill="#90ee90" stroke="#fff" stroke-width="0.5"/>
<circle cx="378.74" cy="657.2" r="1.45" fill="#90ee90" stroke="#fff" stroke-width="0.5"/>
<circle cx="389.02" cy="653.84" r="1.45" fill="#90ee90" stroke="#fff" stroke-width="0.5"/>
<circle cx="397.47" cy="656.49" r="1.45" fill="#90ee90" stroke="#fff" stroke-width="0.5"/>
<circle cx="390.4" cy="654.44" r="1.45" fill="#90ee90" stroke="#fff" stroke-width="0.5"/>
<circle cx="389.56" cy="653.72" r="1.45" fill="#90ee90" stroke="#fff" stroke-width="0.5"/>
<circle cx="389.25" cy="650.73" r="1.45" fill="#90ee90" stroke="#fff" stroke-width="0.5"/>
<circle cx="385.59" cy="656.22" r="1.45" fill="#90ee90" stroke="#fff" stroke-width="0.5"/>
<circle cx="397.75" cy="657.16" r="1.45" fill="#90ee90" stroke="#fff" stroke-width="0.5"/>
<circle cx="386.55" cy="651.67" r="1.45" fill="#90ee90" stroke="#fff" stroke-width="0.5"/>
<circle cx="381.69" cy="656.72" r="1.45" fill="#90ee90" stroke="#fff" stroke-width="0.5"/>
<circle cx="385.01" cy="658.18" r="1.45" fill="#90ee90" stroke="#fff" stroke-width="0.5"/>
<circle cx="378.84" cy="652.59" r="1.45" fill="#90ee90" stroke="#fff" stroke-width="0.5"/>
<circle cx="391.77" cy="653.53" r="1.45" fill="#90ee90" stroke="#fff" stroke-width="0.5"/>
<circle cx="379.16" cy="652.29" r="1.45" fill="#90ee90" stroke="#fff" stroke-width="0.5"/>
<circle cx="397.57" cy="652.12" r="1.45" fill="#90ee90" stroke="#fff" stroke-width="0.5"/>
<circle cx="388.62" cy="654.54" r="1.45" fill="#90ee90" stroke="#fff" stroke-width="0.5"/>
<circle cx="399.06" cy="655.57" r="1.45" fill="#90ee90" stroke="#fff" stroke-width="0.5"/>
<circle cx="393.47" cy="656.68" r="1.45" fill="#90ee90" stroke="#fff" stroke-width="0.5"/>
<circle cx="394.67" cy="656.49" r="1.45" fill="#90ee90" stroke="#fff" stroke-width="0.5"/>
<circle cx="398.03" cy="655.32" r="1.45" fill="#90ee90" stroke="#fff" stroke-width="0.5"/>
<circle cx="391.5" cy="658.36" r="1.45" fill="#90ee90" stroke="#fff" stroke-width="0.5"/>
<circle cx="392.72" cy="657.46" r="1.45" fill="#90ee90" stroke="#fff" stroke-width="0.5"/>
<circle cx="378.95" cy="658.14" r="1.45" fill="#90ee90" stroke="#fff" stroke-width="0.5"/>
<circle cx="380.56" cy="657.59" r="1.45" fill="#90ee90" stroke="#fff" stroke-width="0.5"/>
<line x1="326.35" y1="657.36" x2="326.35" y2="658.47" stroke="#000" stroke-width="1.3"/>
<line x1="324.75" y1="657.36" x2="327.95" y2="657.36" stroke="#000" stroke-width="1"/>
<line x1="324.75" y1="658.47" x2="327.95" y2="658.47" stroke="#000" stroke-width="1"/>
<line x1="388.65" y1="649.96" x2="388.65" y2="651.81" stroke="#000" stroke-width="1.3"/>
<line x1="387.05" y1="649.96" x2="390.25" y2="649.96" stroke="#000" stroke-width="1"/>
<line x1="387.05" y1="651.81" x2="390.25" y2="651.81" stroke="#000" stroke-width="1"/>
<line x1="306.1" y1="582" x2="306.1" y2="662.2" stroke="#3a3a3a" stroke-width="0.85"/>
<line x1="305.7" y1="661.8" x2="408.9" y2="661.8" stroke="#3a3a3a" stroke-width="0.85"/>
<line x1="302.8" y1="661.8" x2="306.1" y2="661.8" stroke="#3a3a3a" stroke-width="0.8"/>
<text x="300.5" y="664.6" font-size="8.16" text-anchor="end" fill="#1a1a1a" stroke="#1a1a1a" stroke-width="0.19" textLength="12.25" lengthAdjust="spacingAndGlyphs">0.0</text>
<line x1="302.8" y1="643.3" x2="306.1" y2="643.3" stroke="#3a3a3a" stroke-width="0.8"/>
<text x="300.5" y="646.1" font-size="8.16" text-anchor="end" fill="#1a1a1a" stroke="#1a1a1a" stroke-width="0.19" textLength="12.25" lengthAdjust="spacingAndGlyphs">0.2</text>
<line x1="302.8" y1="624.8" x2="306.1" y2="624.8" stroke="#3a3a3a" stroke-width="0.8"/>
<text x="300.5" y="627.6" font-size="8.16" text-anchor="end" fill="#1a1a1a" stroke="#1a1a1a" stroke-width="0.19" textLength="12.25" lengthAdjust="spacingAndGlyphs">0.4</text>
<line x1="302.8" y1="606.3" x2="306.1" y2="606.3" stroke="#3a3a3a" stroke-width="0.8"/>
<text x="300.5" y="609.1" font-size="8.16" text-anchor="end" fill="#1a1a1a" stroke="#1a1a1a" stroke-width="0.19" textLength="12.25" lengthAdjust="spacingAndGlyphs">0.6</text>
<line x1="302.8" y1="587.8" x2="306.1" y2="587.8" stroke="#3a3a3a" stroke-width="0.8"/>
<text x="300.5" y="590.6" font-size="8.16" text-anchor="end" fill="#1a1a1a" stroke="#1a1a1a" stroke-width="0.19" textLength="12.25" lengthAdjust="spacingAndGlyphs">0.8</text>
<line x1="326.35" y1="661.8" x2="326.35" y2="665.1" stroke="#3a3a3a" stroke-width="0.8"/>
<text x="316.46" y="694.32" font-size="8.16" fill="#1a1a1a" stroke="#1a1a1a" stroke-width="0.19" textLength="32.21" lengthAdjust="spacingAndGlyphs" transform="rotate(-45 316.46 694.32)">hcDRQN</text>
<line x1="388.65" y1="661.8" x2="388.65" y2="665.1" stroke="#3a3a3a" stroke-width="0.8"/>
<text x="380.66" y="690.53" font-size="8.16" fill="#1a1a1a" stroke="#1a1a1a" stroke-width="0.19" textLength="26.86" lengthAdjust="spacingAndGlyphs" transform="rotate(-45 380.66 690.53)">hcDQN</text>
<text x="357.5" y="577.7" font-size="9.54" text-anchor="middle" fill="#1a1a1a" stroke="#1a1a1a" stroke-width="0.23" textLength="26.5" lengthAdjust="spacingAndGlyphs">Ego N</text>
<line x1="326.35" y1="592.1" x2="388.65" y2="592.1" stroke="#9a9a9a" stroke-width="0.9"/>
<line x1="326.35" y1="591.7" x2="326.35" y2="593.5" stroke="#333" stroke-width="0.8"/>
<line x1="388.65" y1="591.7" x2="388.65" y2="593.5" stroke="#333" stroke-width="0.8"/>
<text x="357.5" y="591.73" font-size="10.78" text-anchor="middle" textLength="16.6" lengthAdjust="spacingAndGlyphs" fill="#1a1a1a" stroke="#1a1a1a" stroke-width="0.25">****</text>
<rect x="444.22" y="656.96" width="31.15" height="4.84" fill="#228b22"/>
<rect x="506.53" y="645.07" width="31.15" height="16.73" fill="#90ee90"/>
<circle cx="464.35" cy="643.89" r="1.45" fill="#228b22" stroke="#fff" stroke-width="0.5"/>
<circle cx="456.31" cy="646.25" r="1.45" fill="#228b22" stroke="#fff" stroke-width="0.5"/>
<circle cx="467.21" cy="647.82" r="1.45" fill="#228b22" stroke="#fff" stroke-width="0.5"/>
<circle cx="453.38" cy="649.91" r="1.45" fill="#228b22" stroke="#fff" stroke-width="0.5"/>
<circle cx="450.2" cy="651.47" r="1.45" fill="#228b22" stroke="#fff" stroke-width="0.5"/>
<circle cx="457.49" cy="652.26" r="1.45" fill="#228b22" stroke="#fff" stroke-width="0.5"/>
<circle cx="464.04" cy="654.74" r="1.45" fill="#228b22" stroke="#fff" stroke-width="0.5"/>
<circle cx="449.47" cy="658.72" r="1.45" fill="#228b22" stroke="#fff" stroke-width="0.5"/>
<circle cx="463.69" cy="660.92" r="1.45" fill="#228b22" stroke="#fff" stroke-width="0.5"/>
<circle cx="454.12" cy="660.64" r="1.45" fill="#228b22" stroke="#fff" stroke-width="0.5"/>
<circle cx="464.9" cy="660.73" r="1.45" fill="#228b22" stroke="#fff" stroke-width="0.5"/>
<circle cx="460.55" cy="658.56" r="1.45" fill="#228b22" stroke="#fff" stroke-width="0.5"/>
<circle cx="470.31" cy="661.64" r="1.45" fill="#228b22" stroke="#fff" stroke-width="0.5"/>
<circle cx="469.11" cy="660.24" r="1.45" fill="#228b22" stroke="#fff" stroke-width="0.5"/>
<circle cx="456.2" cy="654.31" r="1.45" fill="#228b22" stroke="#fff" stroke-width="0.5"/>
<circle cx="453.66" cy="657.21" r="1.45" fill="#228b22" stroke="#fff" stroke-width="0.5"/>
<circle cx="460.8" cy="657.11" r="1.45" fill="#228b22" stroke="#fff" stroke-width="0.5"/>
<circle cx="456.74" cy="655.24" r="1.45" fill="#228b22" stroke="#fff" stroke-width="0.5"/>
<circle cx="470.16" cy="656.04" r="1.45" fill="#228b22" stroke="#fff" stroke-width="0.5"/>
<circle cx="467.6" cy="660.09" r="1.45" fill="#228b22" stroke="#fff" stroke-width="0.5"/>
<circle cx="466.08" cy="660.28" r="1.45" fill="#228b22" stroke="#fff" stroke-width="0.5"/>
<circle cx="462.78" cy="661.48" r="1.45" fill="#228b22" stroke="#fff" stroke-width="0.5"/>
<circle cx="456.32" cy="658.69" r="1.45" fill="#228b22" stroke="#fff" stroke-width="0.5"/>
<circle cx="462.91" cy="655.5" r="1.45" fill="#228b22" stroke="#fff" stroke-width="0.5"/>
<circle cx="469.89" cy="657.55" r="1.45" fill="#228b22" stroke="#fff" stroke-width="0.5"/>
<circle cx="455.7" cy="656.91" r="1.45" fill="#228b22" stroke="#fff" stroke-width="0.5"/>
<circle cx="460.77" cy="661.07" r="1.45" fill="#228b22" stroke="#fff" stroke-width="0.5"/>
<circle cx="453.29" cy="658.91" r="1.45" fill="#228b22" stroke="#fff" stroke-width="0.5"/>
<circle cx="463.94" cy="658.67" r="1.45" fill="#228b22" stroke="#fff" stroke-width="0.5"/>
<circle cx="468.49" cy="654.02" r="1.45" fill="#228b22" stroke="#fff" stroke-width="0.5"/>
<circle cx="453.38" cy="655.52" r="1.45" fill="#228b22" stroke="#fff" stroke-width="0.5"/>
<circle cx="458.63" cy="657.4" r="1.45" fill="#228b22" stroke="#fff" stroke-width="0.5"/>
<circle cx="451.71" cy="654.09" r="1.45" fill="#228b22" stroke="#fff" stroke-width="0.5"/>
<circle cx="451.73" cy="659.17" r="1.45" fill="#228b22" stroke="#fff" stroke-width="0.5"/>
<circle cx="464.32" cy="659.64" r="1.45" fill="#228b22" stroke="#fff" stroke-width="0.5"/>
<circle cx="459.76" cy="659.62" r="1.45" fill="#228b22" stroke="#fff" stroke-width="0.5"/>
<circle cx="457.1" cy="656.81" r="1.45" fill="#228b22" stroke="#fff" stroke-width="0.5"/>
<circle cx="450.01" cy="660.72" r="1.45" fill="#228b22" stroke="#fff" stroke-width="0.5"/>
<circle cx="464.57" cy="654.17" r="1.45" fill="#228b22" stroke="#fff" stroke-width="0.5"/>
<circle cx="465.47" cy="655.8" r="1.45" fill="#228b22" stroke="#fff" stroke-width="0.5"/>
<circle cx="470.07" cy="661.71" r="1.45" fill="#228b22" stroke="#fff" stroke-width="0.5"/>
<circle cx="516.37" cy="597.36" r="1.45" fill="#90ee90" stroke="#fff" stroke-width="0.5"/>
<circle cx="530.51" cy="604.29" r="1.45" fill="#90ee90" stroke="#fff" stroke-width="0.5"/>
<circle cx="532.82" cy="608.21" r="1.45" fill="#90ee90" stroke="#fff" stroke-width="0.5"/>
<circle cx="523.29" cy="616.05" r="1.45" fill="#90ee90" stroke="#fff" stroke-width="0.5"/>
<circle cx="525.72" cy="623.37" r="1.45" fill="#90ee90" stroke="#fff" stroke-width="0.5"/>
<circle cx="516.68" cy="628.73" r="1.45" fill="#90ee90" stroke="#fff" stroke-width="0.5"/>
<circle cx="522.29" cy="629.26" r="1.45" fill="#90ee90" stroke="#fff" stroke-width="0.5"/>
<circle cx="522.97" cy="632.65" r="1.45" fill="#90ee90" stroke="#fff" stroke-width="0.5"/>
<circle cx="526.53" cy="635.4" r="1.45" fill="#90ee90" stroke="#fff" stroke-width="0.5"/>
<circle cx="512.69" cy="637.75" r="1.45" fill="#90ee90" stroke="#fff" stroke-width="0.5"/>
<circle cx="521.98" cy="636.97" r="1.45" fill="#90ee90" stroke="#fff" stroke-width="0.5"/>
<circle cx="517.49" cy="640.5" r="1.45" fill="#90ee90" stroke="#fff" stroke-width="0.5"/>
<circle cx="528.08" cy="642.59" r="1.45" fill="#90ee90" stroke="#fff" stroke-width="0.5"/>
<circle cx="531.2" cy="641.28" r="1.45" fill="#90ee90" stroke="#fff" stroke-width="0.5"/>
<circle cx="513.15" cy="654.91" r="1.45" fill="#90ee90" stroke="#fff" stroke-width="0.5"/>
<circle cx="530.58" cy="649.02" r="1.45" fill="#90ee90" stroke="#fff" stroke-width="0.5"/>
<circle cx="513.63" cy="647.29" r="1.45" fill="#90ee90" stroke="#fff" stroke-width="0.5"/>
<circle cx="522.58" cy="649.92" r="1.45" fill="#90ee90" stroke="#fff" stroke-width="0.5"/>
<circle cx="519.37" cy="648.52" r="1.45" fill="#90ee90" stroke="#fff" stroke-width="0.5"/>
<circle cx="514.19" cy="648.87" r="1.45" fill="#90ee90" stroke="#fff" stroke-width="0.5"/>
<circle cx="529.36" cy="648.12" r="1.45" fill="#90ee90" stroke="#fff" stroke-width="0.5"/>
<circle cx="515.78" cy="657.48" r="1.45" fill="#90ee90" stroke="#fff" stroke-width="0.5"/>
<circle cx="532.22" cy="656.93" r="1.45" fill="#90ee90" stroke="#fff" stroke-width="0.5"/>
<circle cx="511.94" cy="658.65" r="1.45" fill="#90ee90" stroke="#fff" stroke-width="0.5"/>
<circle cx="518.99" cy="654.81" r="1.45" fill="#90ee90" stroke="#fff" stroke-width="0.5"/>
<circle cx="531.19" cy="647.69" r="1.45" fill="#90ee90" stroke="#fff" stroke-width="0.5"/>
<circle cx="527.15" cy="651.06" r="1.45" fill="#90ee90" stroke="#fff" stroke-width="0.5"/>
<circle cx="527.82" cy="655.95" r="1.45" fill="#90ee90" stroke="#fff" stroke-width="0.5"/>
<circle cx="518.49" cy="653.53" r="1.45" fill="#90ee90" stroke="#fff" stroke-width="0.5"/>
<circle cx="532.42" cy="658.2" r="1.45" fill="#90ee90" stroke="#fff" stroke-width="0.5"/>
<circle cx="521.61" cy="655.58" r="1.45" fill="#90ee90" stroke="#fff" stroke-width="0.5"/>
<circle cx="526.39" cy="658.31" r="1.45" fill="#90ee90" stroke="#fff" stroke-width="0.5"/>
<circle cx="525.53" cy="654.92" r="1.45" fill="#90ee90" stroke="#fff" stroke-width="0.5"/>
<circle cx="519.66" cy="658.67" r="1.45" fill="#90ee90" stroke="#fff" stroke-width="0.5"/>
<circle cx="511.65" cy="652.95" r="1.45" fill="#90ee90" stroke="#fff" stroke-width="0.5"/>
<circle cx="531.67" cy="645.71" r="1.45" fill="#90ee90" stroke="#fff" stroke-width="0.5"/>
<circle cx="529.78" cy="651.77" r="1.45" fill="#90ee90" stroke="#fff" stroke-width="0.5"/>
<circle cx="522.29" cy="653.88" r="1.45" fill="#90ee90" stroke="#fff" stroke-width="0.5"/>
<circle cx="526.82" cy="647.19" r="1.45" fill="#90ee90" stroke="#fff" stroke-width="0.5"/>
<circle cx="522.31" cy="647.59" r="1.45" fill="#90ee90" stroke="#fff" stroke-width="0.5"/>
<circle cx="525.2" cy="655.69" r="1.45" fill="#90ee90" stroke="#fff" stroke-width="0.5"/>
<circle cx="511.53" cy="645.76" r="1.45" fill="#90ee90" stroke="#fff" stroke-width="0.5"/>
<circle cx="524.07" cy="651.68" r="1.45" fill="#90ee90" stroke="#fff" stroke-width="0.5"/>
<circle cx="518.2" cy="649" r="1.45" fill="#90ee90" stroke="#fff" stroke-width="0.5"/>
<circle cx="521.18" cy="654.69" r="1.45" fill="#90ee90" stroke="#fff" stroke-width="0.5"/>
<circle cx="515.03" cy="658.02" r="1.45" fill="#90ee90" stroke="#fff" stroke-width="0.5"/>
<circle cx="526.62" cy="657.61" r="1.45" fill="#90ee90" stroke="#fff" stroke-width="0.5"/>
<circle cx="528.03" cy="652.37" r="1.45" fill="#90ee90" stroke="#fff" stroke-width="0.5"/>
<circle cx="530.73" cy="647.6" r="1.45" fill="#90ee90" stroke="#fff" stroke-width="0.5"/>
<line x1="459.8" y1="656.31" x2="459.8" y2="657.62" stroke="#000" stroke-width="1.3"/>
<line x1="458.2" y1="656.31" x2="461.4" y2="656.31" stroke="#000" stroke-width="1"/>
<line x1="458.2" y1="657.62" x2="461.4" y2="657.62" stroke="#000" stroke-width="1"/>
<line x1="522.1" y1="643.24" x2="522.1" y2="646.9" stroke="#000" stroke-width="1.3"/>
<line x1="520.5" y1="643.24" x2="523.7" y2="643.24" stroke="#000" stroke-width="1"/>
<line x1="520.5" y1="646.9" x2="523.7" y2="646.9" stroke="#000" stroke-width="1"/>
<line x1="439.55" y1="582" x2="439.55" y2="662.2" stroke="#3a3a3a" stroke-width="0.85"/>
<line x1="439.15" y1="661.8" x2="542.35" y2="661.8" stroke="#3a3a3a" stroke-width="0.85"/>
<line x1="436.25" y1="661.8" x2="439.55" y2="661.8" stroke="#3a3a3a" stroke-width="0.8"/>
<text x="433.95" y="664.6" font-size="8.16" text-anchor="end" fill="#1a1a1a" stroke="#1a1a1a" stroke-width="0.19" textLength="12.25" lengthAdjust="spacingAndGlyphs">0.0</text>
<line x1="436.25" y1="635.66" x2="439.55" y2="635.66" stroke="#3a3a3a" stroke-width="0.8"/>
<text x="433.95" y="638.46" font-size="8.16" text-anchor="end" fill="#1a1a1a" stroke="#1a1a1a" stroke-width="0.19" textLength="12.25" lengthAdjust="spacingAndGlyphs">0.2</text>
<line x1="436.25" y1="609.52" x2="439.55" y2="609.52" stroke="#3a3a3a" stroke-width="0.8"/>
<text x="433.95" y="612.32" font-size="8.16" text-anchor="end" fill="#1a1a1a" stroke="#1a1a1a" stroke-width="0.19" textLength="12.25" lengthAdjust="spacingAndGlyphs">0.4</text>
<line x1="436.25" y1="583.38" x2="439.55" y2="583.38" stroke="#3a3a3a" stroke-width="0.8"/>
<text x="433.95" y="586.18" font-size="8.16" text-anchor="end" fill="#1a1a1a" stroke="#1a1a1a" stroke-width="0.19" textLength="12.25" lengthAdjust="spacingAndGlyphs">0.6</text>
<line x1="459.8" y1="661.8" x2="459.8" y2="665.1" stroke="#3a3a3a" stroke-width="0.8"/>
<text x="449.91" y="694.32" font-size="8.16" fill="#1a1a1a" stroke="#1a1a1a" stroke-width="0.19" textLength="32.21" lengthAdjust="spacingAndGlyphs" transform="rotate(-45 449.91 694.32)">hcDRQN</text>
<line x1="522.1" y1="661.8" x2="522.1" y2="665.1" stroke="#3a3a3a" stroke-width="0.8"/>
<text x="514.11" y="690.53" font-size="8.16" fill="#1a1a1a" stroke="#1a1a1a" stroke-width="0.19" textLength="26.86" lengthAdjust="spacingAndGlyphs" transform="rotate(-45 514.11 690.53)">hcDQN</text>
<text x="490.95" y="577.7" font-size="9.54" text-anchor="middle" fill="#1a1a1a" stroke="#1a1a1a" stroke-width="0.23" textLength="25.48" lengthAdjust="spacingAndGlyphs">Ego S</text>
<line x1="459.8" y1="592.1" x2="522.1" y2="592.1" stroke="#9a9a9a" stroke-width="0.9"/>
<line x1="459.8" y1="591.7" x2="459.8" y2="593.5" stroke="#333" stroke-width="0.8"/>
<line x1="522.1" y1="591.7" x2="522.1" y2="593.5" stroke="#333" stroke-width="0.8"/>
<text x="490.95" y="591.73" font-size="10.78" text-anchor="middle" textLength="16.6" lengthAdjust="spacingAndGlyphs" fill="#1a1a1a" stroke="#1a1a1a" stroke-width="0.25">****</text>
<rect x="577.67" y="656.88" width="13.35" height="4.92" fill="#228b22"/>
<rect x="604.37" y="639.73" width="13.35" height="22.07" fill="#90ee90"/>
<rect x="631.08" y="656.88" width="13.35" height="4.92" fill="#228b22"/>
<rect x="657.78" y="644.37" width="13.35" height="17.43" fill="#90ee90"/>
<circle cx="581.41" cy="649.43" r="1.45" fill="#228b22" stroke="#fff" stroke-width="0.5"/>
<circle cx="585.68" cy="651.96" r="1.45" fill="#228b22" stroke="#fff" stroke-width="0.5"/>
<circle cx="582.21" cy="652.66" r="1.45" fill="#228b22" stroke="#fff" stroke-width="0.5"/>
<circle cx="582.02" cy="660.43" r="1.45" fill="#228b22" stroke="#fff" stroke-width="0.5"/>
<circle cx="587.26" cy="657.14" r="1.45" fill="#228b22" stroke="#fff" stroke-width="0.5"/>
<circle cx="588.22" cy="653.64" r="1.45" fill="#228b22" stroke="#fff" stroke-width="0.5"/>
<circle cx="586.45" cy="656.49" r="1.45" fill="#228b22" stroke="#fff" stroke-width="0.5"/>
<circle cx="585.13" cy="653.39" r="1.45" fill="#228b22" stroke="#fff" stroke-width="0.5"/>
<circle cx="583.48" cy="656.6" r="1.45" fill="#228b22" stroke="#fff" stroke-width="0.5"/>
<circle cx="580.07" cy="657.77" r="1.45" fill="#228b22" stroke="#fff" stroke-width="0.5"/>
<circle cx="587.2" cy="656.6" r="1.45" fill="#228b22" stroke="#fff" stroke-width="0.5"/>
<circle cx="583.14" cy="653.98" r="1.45" fill="#228b22" stroke="#fff" stroke-width="0.5"/>
<circle cx="586.73" cy="655.39" r="1.45" fill="#228b22" stroke="#fff" stroke-width="0.5"/>
<circle cx="583.79" cy="659.5" r="1.45" fill="#228b22" stroke="#fff" stroke-width="0.5"/>
<circle cx="588.04" cy="656.9" r="1.45" fill="#228b22" stroke="#fff" stroke-width="0.5"/>
<circle cx="587.31" cy="658.75" r="1.45" fill="#228b22" stroke="#fff" stroke-width="0.5"/>
<circle cx="581.4" cy="659.54" r="1.45" fill="#228b22" stroke="#fff" stroke-width="0.5"/>
<circle cx="579.96" cy="658.3" r="1.45" fill="#228b22" stroke="#fff" stroke-width="0.5"/>
<circle cx="581.63" cy="661.31" r="1.45" fill="#228b22" stroke="#fff" stroke-width="0.5"/>
<circle cx="588.02" cy="660.29" r="1.45" fill="#228b22" stroke="#fff" stroke-width="0.5"/>
<circle cx="583.06" cy="660.81" r="1.45" fill="#228b22" stroke="#fff" stroke-width="0.5"/>
<circle cx="586.74" cy="653.51" r="1.45" fill="#228b22" stroke="#fff" stroke-width="0.5"/>
<circle cx="587.34" cy="653.39" r="1.45" fill="#228b22" stroke="#fff" stroke-width="0.5"/>
<circle cx="588.27" cy="657.25" r="1.45" fill="#228b22" stroke="#fff" stroke-width="0.5"/>
<circle cx="584.56" cy="655.67" r="1.45" fill="#228b22" stroke="#fff" stroke-width="0.5"/>
<circle cx="587.35" cy="661.68" r="1.45" fill="#228b22" stroke="#fff" stroke-width="0.5"/>
<circle cx="583.63" cy="656.86" r="1.45" fill="#228b22" stroke="#fff" stroke-width="0.5"/>
<circle cx="585.08" cy="654.56" r="1.45" fill="#228b22" stroke="#fff" stroke-width="0.5"/>
<circle cx="581.85" cy="656.85" r="1.45" fill="#228b22" stroke="#fff" stroke-width="0.5"/>
<circle cx="581.74" cy="661.57" r="1.45" fill="#228b22" stroke="#fff" stroke-width="0.5"/>
<circle cx="584.03" cy="656.78" r="1.45" fill="#228b22" stroke="#fff" stroke-width="0.5"/>
<circle cx="588.72" cy="654.32" r="1.45" fill="#228b22" stroke="#fff" stroke-width="0.5"/>
<circle cx="582.48" cy="660.56" r="1.45" fill="#228b22" stroke="#fff" stroke-width="0.5"/>
<circle cx="585.62" cy="655.18" r="1.45" fill="#228b22" stroke="#fff" stroke-width="0.5"/>
<circle cx="580.83" cy="653.71" r="1.45" fill="#228b22" stroke="#fff" stroke-width="0.5"/>
<circle cx="579.91" cy="656.08" r="1.45" fill="#228b22" stroke="#fff" stroke-width="0.5"/>
<circle cx="586.4" cy="657.58" r="1.45" fill="#228b22" stroke="#fff" stroke-width="0.5"/>
<circle cx="588.52" cy="655.86" r="1.45" fill="#228b22" stroke="#fff" stroke-width="0.5"/>
<circle cx="585.88" cy="657.77" r="1.45" fill="#228b22" stroke="#fff" stroke-width="0.5"/>
<circle cx="579.96" cy="659.44" r="1.45" fill="#228b22" stroke="#fff" stroke-width="0.5"/>
<circle cx="586.91" cy="657.35" r="1.45" fill="#228b22" stroke="#fff" stroke-width="0.5"/>
<circle cx="583.47" cy="659.97" r="1.45" fill="#228b22" stroke="#fff" stroke-width="0.5"/>
<circle cx="582.71" cy="656.29" r="1.45" fill="#228b22" stroke="#fff" stroke-width="0.5"/>
<circle cx="610.65" cy="614.98" r="1.45" fill="#90ee90" stroke="#fff" stroke-width="0.5"/>
<circle cx="613.37" cy="624.12" r="1.45" fill="#90ee90" stroke="#fff" stroke-width="0.5"/>
<circle cx="615.27" cy="627.21" r="1.45" fill="#90ee90" stroke="#fff" stroke-width="0.5"/>
<circle cx="611.5" cy="628.06" r="1.45" fill="#90ee90" stroke="#fff" stroke-width="0.5"/>
<circle cx="606.43" cy="631.85" r="1.45" fill="#90ee90" stroke="#fff" stroke-width="0.5"/>
<circle cx="608.03" cy="630.31" r="1.45" fill="#90ee90" stroke="#fff" stroke-width="0.5"/>
<circle cx="614.17" cy="633.26" r="1.45" fill="#90ee90" stroke="#fff" stroke-width="0.5"/>
<circle cx="612.38" cy="635.09" r="1.45" fill="#90ee90" stroke="#fff" stroke-width="0.5"/>
<circle cx="607.04" cy="636.49" r="1.45" fill="#90ee90" stroke="#fff" stroke-width="0.5"/>
<circle cx="615.59" cy="637.19" r="1.45" fill="#90ee90" stroke="#fff" stroke-width="0.5"/>
<circle cx="615.39" cy="644.32" r="1.45" fill="#90ee90" stroke="#fff" stroke-width="0.5"/>
<circle cx="610.9" cy="653.38" r="1.45" fill="#90ee90" stroke="#fff" stroke-width="0.5"/>
<circle cx="614.86" cy="639.4" r="1.45" fill="#90ee90" stroke="#fff" stroke-width="0.5"/>
<circle cx="610.26" cy="651.26" r="1.45" fill="#90ee90" stroke="#fff" stroke-width="0.5"/>
<circle cx="612.24" cy="650.51" r="1.45" fill="#90ee90" stroke="#fff" stroke-width="0.5"/>
<circle cx="606.61" cy="654.47" r="1.45" fill="#90ee90" stroke="#fff" stroke-width="0.5"/>
<circle cx="608.6" cy="643.36" r="1.45" fill="#90ee90" stroke="#fff" stroke-width="0.5"/>
<circle cx="610.29" cy="645.13" r="1.45" fill="#90ee90" stroke="#fff" stroke-width="0.5"/>
<circle cx="614.64" cy="651.21" r="1.45" fill="#90ee90" stroke="#fff" stroke-width="0.5"/>
<circle cx="612.6" cy="651.65" r="1.45" fill="#90ee90" stroke="#fff" stroke-width="0.5"/>
<circle cx="607.8" cy="647.89" r="1.45" fill="#90ee90" stroke="#fff" stroke-width="0.5"/>
<circle cx="608.14" cy="654.21" r="1.45" fill="#90ee90" stroke="#fff" stroke-width="0.5"/>
<circle cx="612.84" cy="650.02" r="1.45" fill="#90ee90" stroke="#fff" stroke-width="0.5"/>
<circle cx="610.38" cy="657.5" r="1.45" fill="#90ee90" stroke="#fff" stroke-width="0.5"/>
<circle cx="612.46" cy="649.23" r="1.45" fill="#90ee90" stroke="#fff" stroke-width="0.5"/>
<circle cx="608.07" cy="654.29" r="1.45" fill="#90ee90" stroke="#fff" stroke-width="0.5"/>
<circle cx="607.68" cy="651.97" r="1.45" fill="#90ee90" stroke="#fff" stroke-width="0.5"/>
<circle cx="611.55" cy="647.57" r="1.45" fill="#90ee90" stroke="#fff" stroke-width="0.5"/>
<circle cx="613.27" cy="654.85" r="1.45" fill="#90ee90" stroke="#fff" stroke-width="0.5"/>
<circle cx="615.22" cy="647.06" r="1.45" fill="#90ee90" stroke="#fff" stroke-width="0.5"/>
<circle cx="610.62" cy="647.22" r="1.45" fill="#90ee90" stroke="#fff" stroke-width="0.5"/>
<circle cx="608.68" cy="642.06" r="1.45" fill="#90ee90" stroke="#fff" stroke-width="0.5"/>
<circle cx="613.35" cy="651.85" r="1.45" fill="#90ee90" stroke="#fff" stroke-width="0.5"/>
<circle cx="612.6" cy="645.45" r="1.45" fill="#90ee90" stroke="#fff" stroke-width="0.5"/>
<circle cx="607.84" cy="641.09" r="1.45" fill="#90ee90" stroke="#fff" stroke-width="0.5"/>
<circle cx="609.88" cy="656.79" r="1.45" fill="#90ee90" stroke="#fff" stroke-width="0.5"/>
<circle cx="611.2" cy="644.07" r="1.45" fill="#90ee90" stroke="#fff" stroke-width="0.5"/>
<circle cx="612.05" cy="645.31" r="1.45" fill="#90ee90" stroke="#fff" stroke-width="0.5"/>
<circle cx="607.88" cy="656.74" r="1.45" fill="#90ee90" stroke="#fff" stroke-width="0.5"/>
<circle cx="611.48" cy="654.76" r="1.45" fill="#90ee90" stroke="#fff" stroke-width="0.5"/>
<circle cx="612.76" cy="654.34" r="1.45" fill="#90ee90" stroke="#fff" stroke-width="0.5"/>
<circle cx="608.4" cy="642.35" r="1.45" fill="#90ee90" stroke="#fff" stroke-width="0.5"/>
<circle cx="607.24" cy="652.8" r="1.45" fill="#90ee90" stroke="#fff" stroke-width="0.5"/>
<circle cx="613.37" cy="646.44" r="1.45" fill="#90ee90" stroke="#fff" stroke-width="0.5"/>
<circle cx="608.25" cy="651.79" r="1.45" fill="#90ee90" stroke="#fff" stroke-width="0.5"/>
<circle cx="614.46" cy="654.5" r="1.45" fill="#90ee90" stroke="#fff" stroke-width="0.5"/>
<circle cx="610.2" cy="653.51" r="1.45" fill="#90ee90" stroke="#fff" stroke-width="0.5"/>
<circle cx="612.89" cy="654.21" r="1.45" fill="#90ee90" stroke="#fff" stroke-width="0.5"/>
<circle cx="635.08" cy="644.51" r="1.45" fill="#228b22" stroke="#fff" stroke-width="0.5"/>
<circle cx="635.35" cy="650.97" r="1.45" fill="#228b22" stroke="#fff" stroke-width="0.5"/>
<circle cx="638.02" cy="653.22" r="1.45" fill="#228b22" stroke="#fff" stroke-width="0.5"/>
<circle cx="641.49" cy="652.52" r="1.45" fill="#228b22" stroke="#fff" stroke-width="0.5"/>
<circle cx="633.75" cy="654.77" r="1.45" fill="#228b22" stroke="#fff" stroke-width="0.5"/>
<circle cx="638.81" cy="659.95" r="1.45" fill="#228b22" stroke="#fff" stroke-width="0.5"/>
<circle cx="639.67" cy="659.64" r="1.45" fill="#228b22" stroke="#fff" stroke-width="0.5"/>
<circle cx="639.87" cy="655.77" r="1.45" fill="#228b22" stroke="#fff" stroke-width="0.5"/>
<circle cx="633.55" cy="654.79" r="1.45" fill="#228b22" stroke="#fff" stroke-width="0.5"/>
<circle cx="639.99" cy="656.58" r="1.45" fill="#228b22" stroke="#fff" stroke-width="0.5"/>
<circle cx="634.75" cy="658.7" r="1.45" fill="#228b22" stroke="#fff" stroke-width="0.5"/>
<circle cx="635.29" cy="658.23" r="1.45" fill="#228b22" stroke="#fff" stroke-width="0.5"/>
<circle cx="639.09" cy="657.16" r="1.45" fill="#228b22" stroke="#fff" stroke-width="0.5"/>
<circle cx="642.13" cy="659.84" r="1.45" fill="#228b22" stroke="#fff" stroke-width="0.5"/>
<circle cx="634.03" cy="658.9" r="1.45" fill="#228b22" stroke="#fff" stroke-width="0.5"/>
<circle cx="637.2" cy="656.34" r="1.45" fill="#228b22" stroke="#fff" stroke-width="0.5"/>
<circle cx="640.1" cy="656" r="1.45" fill="#228b22" stroke="#fff" stroke-width="0.5"/>
<circle cx="635.31" cy="655.07" r="1.45" fill="#228b22" stroke="#fff" stroke-width="0.5"/>
<circle cx="635.28" cy="661.57" r="1.45" fill="#228b22" stroke="#fff" stroke-width="0.5"/>
<circle cx="639.32" cy="661.62" r="1.45" fill="#228b22" stroke="#fff" stroke-width="0.5"/>
<circle cx="637.55" cy="659.5" r="1.45" fill="#228b22" stroke="#fff" stroke-width="0.5"/>
<circle cx="635.34" cy="660.81" r="1.45" fill="#228b22" stroke="#fff" stroke-width="0.5"/>
<circle cx="641.58" cy="658.04" r="1.45" fill="#228b22" stroke="#fff" stroke-width="0.5"/>
<circle cx="639.03" cy="658.47" r="1.45" fill="#228b22" stroke="#fff" stroke-width="0.5"/>
<circle cx="637.96" cy="661.16" r="1.45" fill="#228b22" stroke="#fff" stroke-width="0.5"/>
<circle cx="635.03" cy="656.6" r="1.45" fill="#228b22" stroke="#fff" stroke-width="0.5"/>
<circle cx="637.06" cy="661.26" r="1.45" fill="#228b22" stroke="#fff" stroke-width="0.5"/>
<circle cx="634.36" cy="660.19" r="1.45" fill="#228b22" stroke="#fff" stroke-width="0.5"/>
<circle cx="637.39" cy="659.61" r="1.45" fill="#228b22" stroke="#fff" stroke-width="0.5"/>
<circle cx="634.95" cy="659.08" r="1.45" fill="#228b22" stroke="#fff" stroke-width="0.5"/>
<circle cx="637.63" cy="655.92" r="1.45" fill="#228b22" stroke="#fff" stroke-width="0.5"/>
<circle cx="638.31" cy="660.53" r="1.45" fill="#228b22" stroke="#fff" stroke-width="0.5"/>
<circle cx="641.84" cy="658.91" r="1.45" fill="#228b22" stroke="#fff" stroke-width="0.5"/>
<circle cx="634.09" cy="660.88" r="1.45" fill="#228b22" stroke="#fff" stroke-width="0.5"/>
<circle cx="638.33" cy="658.02" r="1.45" fill="#228b22" stroke="#fff" stroke-width="0.5"/>
<circle cx="636.62" cy="656.92" r="1.45" fill="#228b22" stroke="#fff" stroke-width="0.5"/>
<circle cx="635.55" cy="655.07" r="1.45" fill="#228b22" stroke="#fff" stroke-width="0.5"/>
<circle cx="641.59" cy="657.61" r="1.45" fill="#228b22" stroke="#fff" stroke-width="0.5"/>
<circle cx="634.65" cy="656.88" r="1.45" fill="#228b22" stroke="#fff" stroke-width="0.5"/>
<circle cx="636.36" cy="658.06" r="1.45" fill="#228b22" stroke="#fff" stroke-width="0.5"/>
<circle cx="637.13" cy="658.26" r="1.45" fill="#228b22" stroke="#fff" stroke-width="0.5"/>
<circle cx="637.13" cy="658.43" r="1.45" fill="#228b22" stroke="#fff" stroke-width="0.5"/>
<circle cx="639.22" cy="657.16" r="1.45" fill="#228b22" stroke="#fff" stroke-width="0.5"/>
<circle cx="635.19" cy="661.61" r="1.45" fill="#228b22" stroke="#fff" stroke-width="0.5"/>
<circle cx="635.6" cy="661.62" r="1.45" fill="#228b22" stroke="#fff" stroke-width="0.5"/>
<circle cx="662.13" cy="631.85" r="1.45" fill="#90ee90" stroke="#fff" stroke-width="0.5"/>
<circle cx="666.77" cy="631.01" r="1.45" fill="#90ee90" stroke="#fff" stroke-width="0.5"/>
<circle cx="665.97" cy="636.07" r="1.45" fill="#90ee90" stroke="#fff" stroke-width="0.5"/>
<circle cx="664.16" cy="639.44" r="1.45" fill="#90ee90" stroke="#fff" stroke-width="0.5"/>
<circle cx="668.46" cy="637.9" r="1.45" fill="#90ee90" stroke="#fff" stroke-width="0.5"/>
<circle cx="668.21" cy="647.74" r="1.45" fill="#90ee90" stroke="#fff" stroke-width="0.5"/>
<circle cx="664.3" cy="650.34" r="1.45" fill="#90ee90" stroke="#fff" stroke-width="0.5"/>
<circle cx="663.97" cy="649.06" r="1.45" fill="#90ee90" stroke="#fff" stroke-width="0.5"/>
<circle cx="668.19" cy="648.36" r="1.45" fill="#90ee90" stroke="#fff" stroke-width="0.5"/>
<circle cx="660.42" cy="649.46" r="1.45" fill="#90ee90" stroke="#fff" stroke-width="0.5"/>
<circle cx="665.34" cy="648.04" r="1.45" fill="#90ee90" stroke="#fff" stroke-width="0.5"/>
<circle cx="668.36" cy="650.88" r="1.45" fill="#90ee90" stroke="#fff" stroke-width="0.5"/>
<circle cx="668.99" cy="649.85" r="1.45" fill="#90ee90" stroke="#fff" stroke-width="0.5"/>
<circle cx="663.89" cy="650.36" r="1.45" fill="#90ee90" stroke="#fff" stroke-width="0.5"/>
<circle cx="660.03" cy="650.22" r="1.45" fill="#90ee90" stroke="#fff" stroke-width="0.5"/>
<circle cx="660.1" cy="648.28" r="1.45" fill="#90ee90" stroke="#fff" stroke-width="0.5"/>
<circle cx="661.15" cy="644.51" r="1.45" fill="#90ee90" stroke="#fff" stroke-width="0.5"/>
<circle cx="666.27" cy="647.56" r="1.45" fill="#90ee90" stroke="#fff" stroke-width="0.5"/>
<circle cx="668.84" cy="647.16" r="1.45" fill="#90ee90" stroke="#fff" stroke-width="0.5"/>
<circle cx="660.06" cy="650.17" r="1.45" fill="#90ee90" stroke="#fff" stroke-width="0.5"/>
<circle cx="663" cy="648.72" r="1.45" fill="#90ee90" stroke="#fff" stroke-width="0.5"/>
<circle cx="668.03" cy="651.81" r="1.45" fill="#90ee90" stroke="#fff" stroke-width="0.5"/>
<circle cx="667.51" cy="647.38" r="1.45" fill="#90ee90" stroke="#fff" stroke-width="0.5"/>
<circle cx="662.59" cy="646.14" r="1.45" fill="#90ee90" stroke="#fff" stroke-width="0.5"/>
<circle cx="660.65" cy="648.12" r="1.45" fill="#90ee90" stroke="#fff" stroke-width="0.5"/>
<circle cx="662" cy="650.74" r="1.45" fill="#90ee90" stroke="#fff" stroke-width="0.5"/>
<circle cx="668.64" cy="649.33" r="1.45" fill="#90ee90" stroke="#fff" stroke-width="0.5"/>
<circle cx="662.68" cy="646.02" r="1.45" fill="#90ee90" stroke="#fff" stroke-width="0.5"/>
<circle cx="667.15" cy="644.89" r="1.45" fill="#90ee90" stroke="#fff" stroke-width="0.5"/>
<circle cx="665.4" cy="648.76" r="1.45" fill="#90ee90" stroke="#fff" stroke-width="0.5"/>
<circle cx="661.12" cy="648.28" r="1.45" fill="#90ee90" stroke="#fff" stroke-width="0.5"/>
<circle cx="667.77" cy="651.22" r="1.45" fill="#90ee90" stroke="#fff" stroke-width="0.5"/>
<circle cx="664.78" cy="645.84" r="1.45" fill="#90ee90" stroke="#fff" stroke-width="0.5"/>
<circle cx="667.52" cy="646.96" r="1.45" fill="#90ee90" stroke="#fff" stroke-width="0.5"/>
<circle cx="663.72" cy="645.87" r="1.45" fill="#90ee90" stroke="#fff" stroke-width="0.5"/>
<circle cx="666.93" cy="644.9" r="1.45" fill="#90ee90" stroke="#fff" stroke-width="0.5"/>
<circle cx="667.35" cy="651.15" r="1.45" fill="#90ee90" stroke="#fff" stroke-width="0.5"/>
<circle cx="668.63" cy="650.43" r="1.45" fill="#90ee90" stroke="#fff" stroke-width="0.5"/>
<circle cx="661.03" cy="646.65" r="1.45" fill="#90ee90" stroke="#fff" stroke-width="0.5"/>
<circle cx="664.98" cy="650.43" r="1.45" fill="#90ee90" stroke="#fff" stroke-width="0.5"/>
<circle cx="666.66" cy="650.32" r="1.45" fill="#90ee90" stroke="#fff" stroke-width="0.5"/>
<circle cx="667.21" cy="651.3" r="1.45" fill="#90ee90" stroke="#fff" stroke-width="0.5"/>
<circle cx="664.63" cy="651.93" r="1.45" fill="#90ee90" stroke="#fff" stroke-width="0.5"/>
<circle cx="665.61" cy="645.35" r="1.45" fill="#90ee90" stroke="#fff" stroke-width="0.5"/>
<circle cx="664.17" cy="649.41" r="1.45" fill="#90ee90" stroke="#fff" stroke-width="0.5"/>
<line x1="584.35" y1="656.18" x2="584.35" y2="657.58" stroke="#000" stroke-width="1.3"/>
<line x1="582.75" y1="656.18" x2="585.95" y2="656.18" stroke="#000" stroke-width="1"/>
<line x1="582.75" y1="657.58" x2="585.95" y2="657.58" stroke="#000" stroke-width="1"/>
<line x1="611.05" y1="638.74" x2="611.05" y2="640.71" stroke="#000" stroke-width="1.3"/>
<line x1="609.45" y1="638.74" x2="612.65" y2="638.74" stroke="#000" stroke-width="1"/>
<line x1="609.45" y1="640.71" x2="612.65" y2="640.71" stroke="#000" stroke-width="1"/>
<line x1="637.75" y1="656.04" x2="637.75" y2="657.72" stroke="#000" stroke-width="1.3"/>
<line x1="636.15" y1="656.04" x2="639.35" y2="656.04" stroke="#000" stroke-width="1"/>
<line x1="636.15" y1="657.72" x2="639.35" y2="657.72" stroke="#000" stroke-width="1"/>
<line x1="664.45" y1="643.52" x2="664.45" y2="645.21" stroke="#000" stroke-width="1.3"/>
<line x1="662.85" y1="643.52" x2="666.05" y2="643.52" stroke="#000" stroke-width="1"/>
<line x1="662.85" y1="645.21" x2="666.05" y2="645.21" stroke="#000" stroke-width="1"/>
<line x1="573" y1="582" x2="573" y2="662.2" stroke="#3a3a3a" stroke-width="0.85"/>
<line x1="572.6" y1="661.8" x2="675.8" y2="661.8" stroke="#3a3a3a" stroke-width="0.85"/>
<line x1="569.7" y1="661.8" x2="573" y2="661.8" stroke="#3a3a3a" stroke-width="0.8"/>
<text x="567.4" y="664.6" font-size="8.16" text-anchor="end" fill="#1a1a1a" stroke="#1a1a1a" stroke-width="0.19" textLength="12.25" lengthAdjust="spacingAndGlyphs">0.0</text>
<line x1="569.7" y1="633.68" x2="573" y2="633.68" stroke="#3a3a3a" stroke-width="0.8"/>
<text x="567.4" y="636.48" font-size="8.16" text-anchor="end" fill="#1a1a1a" stroke="#1a1a1a" stroke-width="0.19" textLength="12.25" lengthAdjust="spacingAndGlyphs">0.2</text>
<line x1="569.7" y1="605.56" x2="573" y2="605.56" stroke="#3a3a3a" stroke-width="0.8"/>
<text x="567.4" y="608.36" font-size="8.16" text-anchor="end" fill="#1a1a1a" stroke="#1a1a1a" stroke-width="0.19" textLength="12.25" lengthAdjust="spacingAndGlyphs">0.4</text>
<line x1="584.35" y1="661.8" x2="584.35" y2="665.1" stroke="#3a3a3a" stroke-width="0.8"/>
<text x="574.46" y="694.32" font-size="8.16" fill="#1a1a1a" stroke="#1a1a1a" stroke-width="0.19" textLength="32.21" lengthAdjust="spacingAndGlyphs" transform="rotate(-45 574.46 694.32)">hcDRQN</text>
<line x1="611.05" y1="661.8" x2="611.05" y2="665.1" stroke="#3a3a3a" stroke-width="0.8"/>
<text x="603.05" y="690.53" font-size="8.16" fill="#1a1a1a" stroke="#1a1a1a" stroke-width="0.19" textLength="26.86" lengthAdjust="spacingAndGlyphs" transform="rotate(-45 603.05 690.53)">hcDQN</text>
<line x1="637.75" y1="661.8" x2="637.75" y2="665.1" stroke="#3a3a3a" stroke-width="0.8"/>
<text x="620.68" y="708.69" font-size="8.16" fill="#1a1a1a" stroke="#1a1a1a" stroke-width="0.19" textLength="52.54" lengthAdjust="spacingAndGlyphs" transform="rotate(-45 620.68 708.69)">hcDRQN (full)</text>
<line x1="664.45" y1="661.8" x2="664.45" y2="665.1" stroke="#3a3a3a" stroke-width="0.8"/>
<text x="649.27" y="704.91" font-size="8.16" fill="#1a1a1a" stroke="#1a1a1a" stroke-width="0.19" textLength="47.19" lengthAdjust="spacingAndGlyphs" transform="rotate(-45 649.27 704.91)">hcDQN (full)</text>
<text x="624.4" y="577.7" font-size="9.54" text-anchor="middle" fill="#1a1a1a" stroke="#1a1a1a" stroke-width="0.23" textLength="32.16" lengthAdjust="spacingAndGlyphs">Overall</text>
<line x1="584.35" y1="611.1" x2="611.05" y2="611.1" stroke="#9a9a9a" stroke-width="0.9"/>
<line x1="584.35" y1="610.7" x2="584.35" y2="612.5" stroke="#333" stroke-width="0.8"/>
<line x1="611.05" y1="610.7" x2="611.05" y2="612.5" stroke="#333" stroke-width="0.8"/>
<text x="597.7" y="610.73" font-size="10.78" text-anchor="middle" textLength="16.6" lengthAdjust="spacingAndGlyphs" fill="#1a1a1a" stroke="#1a1a1a" stroke-width="0.25">****</text>
<line x1="584.35" y1="600.6" x2="637.75" y2="600.6" stroke="#555555" stroke-width="0.9"/>
<line x1="584.35" y1="600.2" x2="584.35" y2="602" stroke="#333" stroke-width="0.8"/>
<line x1="637.75" y1="600.2" x2="637.75" y2="602" stroke="#333" stroke-width="0.8"/>
<text x="611.05" y="599.2" font-size="9.33" text-anchor="middle" fill="#1a1a1a" stroke="#1a1a1a" stroke-width="0.22" textLength="10.16" lengthAdjust="spacingAndGlyphs">ns</text>
<line x1="584.35" y1="590.5" x2="664.45" y2="590.5" stroke="#555555" stroke-width="0.9"/>
<line x1="584.35" y1="590.1" x2="584.35" y2="591.9" stroke="#333" stroke-width="0.8"/>
<line x1="664.45" y1="590.1" x2="664.45" y2="591.9" stroke="#333" stroke-width="0.8"/>
<text x="624.4" y="590.13" font-size="10.78" text-anchor="middle" textLength="16.6" lengthAdjust="spacingAndGlyphs" fill="#1a1a1a" stroke="#1a1a1a" stroke-width="0.25">****</text>
<text x="17.3" y="621.9" font-size="8.16" text-anchor="middle" fill="#1a1a1a" stroke="#1a1a1a" stroke-width="0.19" textLength="19.07" lengthAdjust="spacingAndGlyphs" transform="rotate(-90 17.3 621.9)">Error</text>
<text x="-0.8" y="708.8" font-size="13.25" font-weight="bold" stroke="#000" stroke-width="0.31" textLength="8.95" lengthAdjust="spacingAndGlyphs">d</text>
<rect x="42.5" y="805.24" width="22" height="0.16" fill="#228b22"/>
<rect x="86.5" y="751.61" width="22" height="53.79" fill="#90ee90"/>
<circle cx="53.42" cy="804.89" r="1.45" fill="#228b22" stroke="#fff" stroke-width="0.5"/>
<circle cx="50.82" cy="804.97" r="1.45" fill="#228b22" stroke="#fff" stroke-width="0.5"/>
<circle cx="53.29" cy="805.15" r="1.45" fill="#228b22" stroke="#fff" stroke-width="0.5"/>
<circle cx="50.95" cy="805" r="1.45" fill="#228b22" stroke="#fff" stroke-width="0.5"/>
<circle cx="59.39" cy="805" r="1.45" fill="#228b22" stroke="#fff" stroke-width="0.5"/>
<circle cx="51.07" cy="805.31" r="1.45" fill="#228b22" stroke="#fff" stroke-width="0.5"/>
<circle cx="56.92" cy="805.22" r="1.45" fill="#228b22" stroke="#fff" stroke-width="0.5"/>
<circle cx="60.69" cy="804.79" r="1.45" fill="#228b22" stroke="#fff" stroke-width="0.5"/>
<circle cx="55.26" cy="805.01" r="1.45" fill="#228b22" stroke="#fff" stroke-width="0.5"/>
<circle cx="48.69" cy="805.24" r="1.45" fill="#228b22" stroke="#fff" stroke-width="0.5"/>
<circle cx="52.12" cy="805.36" r="1.45" fill="#228b22" stroke="#fff" stroke-width="0.5"/>
<circle cx="51.52" cy="805.16" r="1.45" fill="#228b22" stroke="#fff" stroke-width="0.5"/>
<circle cx="58.74" cy="805.25" r="1.45" fill="#228b22" stroke="#fff" stroke-width="0.5"/>
<circle cx="47.63" cy="805.36" r="1.45" fill="#228b22" stroke="#fff" stroke-width="0.5"/>
<circle cx="49.27" cy="805.01" r="1.45" fill="#228b22" stroke="#fff" stroke-width="0.5"/>
<circle cx="46.49" cy="805.14" r="1.45" fill="#228b22" stroke="#fff" stroke-width="0.5"/>
<circle cx="51.97" cy="805.15" r="1.45" fill="#228b22" stroke="#fff" stroke-width="0.5"/>
<circle cx="47.55" cy="804.99" r="1.45" fill="#228b22" stroke="#fff" stroke-width="0.5"/>
<circle cx="55.43" cy="804.8" r="1.45" fill="#228b22" stroke="#fff" stroke-width="0.5"/>
<circle cx="51.54" cy="805.17" r="1.45" fill="#228b22" stroke="#fff" stroke-width="0.5"/>
<circle cx="59.67" cy="804.92" r="1.45" fill="#228b22" stroke="#fff" stroke-width="0.5"/>
<circle cx="60.06" cy="805.23" r="1.45" fill="#228b22" stroke="#fff" stroke-width="0.5"/>
<circle cx="52.75" cy="805.11" r="1.45" fill="#228b22" stroke="#fff" stroke-width="0.5"/>
<circle cx="58.09" cy="805.02" r="1.45" fill="#228b22" stroke="#fff" stroke-width="0.5"/>
<circle cx="57.06" cy="805.27" r="1.45" fill="#228b22" stroke="#fff" stroke-width="0.5"/>
<circle cx="58.6" cy="805.14" r="1.45" fill="#228b22" stroke="#fff" stroke-width="0.5"/>
<circle cx="53.29" cy="805.24" r="1.45" fill="#228b22" stroke="#fff" stroke-width="0.5"/>
<circle cx="47.61" cy="805.31" r="1.45" fill="#228b22" stroke="#fff" stroke-width="0.5"/>
<circle cx="59.44" cy="805.17" r="1.45" fill="#228b22" stroke="#fff" stroke-width="0.5"/>
<circle cx="47.37" cy="805.3" r="1.45" fill="#228b22" stroke="#fff" stroke-width="0.5"/>
<circle cx="51.58" cy="805.09" r="1.45" fill="#228b22" stroke="#fff" stroke-width="0.5"/>
<circle cx="47.15" cy="805.25" r="1.45" fill="#228b22" stroke="#fff" stroke-width="0.5"/>
<circle cx="52.99" cy="805.18" r="1.45" fill="#228b22" stroke="#fff" stroke-width="0.5"/>
<circle cx="57.73" cy="805.07" r="1.45" fill="#228b22" stroke="#fff" stroke-width="0.5"/>
<circle cx="47.04" cy="805.32" r="1.45" fill="#228b22" stroke="#fff" stroke-width="0.5"/>
<circle cx="53.74" cy="804.82" r="1.45" fill="#228b22" stroke="#fff" stroke-width="0.5"/>
<circle cx="49.01" cy="805" r="1.45" fill="#228b22" stroke="#fff" stroke-width="0.5"/>
<circle cx="55.1" cy="805.18" r="1.45" fill="#228b22" stroke="#fff" stroke-width="0.5"/>
<circle cx="52.67" cy="805.07" r="1.45" fill="#228b22" stroke="#fff" stroke-width="0.5"/>
<circle cx="59.09" cy="804.81" r="1.45" fill="#228b22" stroke="#fff" stroke-width="0.5"/>
<circle cx="53.06" cy="805.31" r="1.45" fill="#228b22" stroke="#fff" stroke-width="0.5"/>
<circle cx="58.47" cy="805.01" r="1.45" fill="#228b22" stroke="#fff" stroke-width="0.5"/>
<circle cx="60.65" cy="805.21" r="1.45" fill="#228b22" stroke="#fff" stroke-width="0.5"/>
<circle cx="56.42" cy="805.34" r="1.45" fill="#228b22" stroke="#fff" stroke-width="0.5"/>
<circle cx="60.14" cy="805.33" r="1.45" fill="#228b22" stroke="#fff" stroke-width="0.5"/>
<circle cx="90.02" cy="741.98" r="1.45" fill="#90ee90" stroke="#fff" stroke-width="0.5"/>
<circle cx="93.54" cy="740.88" r="1.45" fill="#90ee90" stroke="#fff" stroke-width="0.5"/>
<circle cx="97.5" cy="740.57" r="1.45" fill="#90ee90" stroke="#fff" stroke-width="0.5"/>
<circle cx="94.2" cy="743.23" r="1.45" fill="#90ee90" stroke="#fff" stroke-width="0.5"/>
<circle cx="97.5" cy="743.93" r="1.45" fill="#90ee90" stroke="#fff" stroke-width="0.5"/>
<circle cx="102.56" cy="742.92" r="1.45" fill="#90ee90" stroke="#fff" stroke-width="0.5"/>
<circle cx="101.24" cy="746.52" r="1.45" fill="#90ee90" stroke="#fff" stroke-width="0.5"/>
<circle cx="104.41" cy="746.05" r="1.45" fill="#90ee90" stroke="#fff" stroke-width="0.5"/>
<circle cx="94.07" cy="746.52" r="1.45" fill="#90ee90" stroke="#fff" stroke-width="0.5"/>
<circle cx="94.07" cy="748.71" r="1.45" fill="#90ee90" stroke="#fff" stroke-width="0.5"/>
<circle cx="97.06" cy="748.71" r="1.45" fill="#90ee90" stroke="#fff" stroke-width="0.5"/>
<circle cx="104.32" cy="750.59" r="1.45" fill="#90ee90" stroke="#fff" stroke-width="0.5"/>
<circle cx="94.07" cy="750.59" r="1.45" fill="#90ee90" stroke="#fff" stroke-width="0.5"/>
<circle cx="99.26" cy="749.42" r="1.45" fill="#90ee90" stroke="#fff" stroke-width="0.5"/>
<circle cx="103.9" cy="751.67" r="1.45" fill="#90ee90" stroke="#fff" stroke-width="0.5"/>
<circle cx="93.58" cy="752.41" r="1.45" fill="#90ee90" stroke="#fff" stroke-width="0.5"/>
<circle cx="95.34" cy="759.91" r="1.45" fill="#90ee90" stroke="#fff" stroke-width="0.5"/>
<circle cx="104.4" cy="760.64" r="1.45" fill="#90ee90" stroke="#fff" stroke-width="0.5"/>
<circle cx="91.86" cy="756.27" r="1.45" fill="#90ee90" stroke="#fff" stroke-width="0.5"/>
<circle cx="101.62" cy="755.55" r="1.45" fill="#90ee90" stroke="#fff" stroke-width="0.5"/>
<circle cx="92.42" cy="760.75" r="1.45" fill="#90ee90" stroke="#fff" stroke-width="0.5"/>
<circle cx="98.19" cy="755.27" r="1.45" fill="#90ee90" stroke="#fff" stroke-width="0.5"/>
<circle cx="104.02" cy="758.06" r="1.45" fill="#90ee90" stroke="#fff" stroke-width="0.5"/>
<circle cx="96.95" cy="759.84" r="1.45" fill="#90ee90" stroke="#fff" stroke-width="0.5"/>
<circle cx="94.37" cy="754.53" r="1.45" fill="#90ee90" stroke="#fff" stroke-width="0.5"/>
<circle cx="94.2" cy="754.1" r="1.45" fill="#90ee90" stroke="#fff" stroke-width="0.5"/>
<circle cx="98.62" cy="761.41" r="1.45" fill="#90ee90" stroke="#fff" stroke-width="0.5"/>
<circle cx="93.75" cy="757.83" r="1.45" fill="#90ee90" stroke="#fff" stroke-width="0.5"/>
<circle cx="103.57" cy="755.36" r="1.45" fill="#90ee90" stroke="#fff" stroke-width="0.5"/>
<circle cx="95.55" cy="752.42" r="1.45" fill="#90ee90" stroke="#fff" stroke-width="0.5"/>
<circle cx="95.16" cy="754.28" r="1.45" fill="#90ee90" stroke="#fff" stroke-width="0.5"/>
<circle cx="95.15" cy="757.87" r="1.45" fill="#90ee90" stroke="#fff" stroke-width="0.5"/>
<circle cx="102.34" cy="760.56" r="1.45" fill="#90ee90" stroke="#fff" stroke-width="0.5"/>
<circle cx="90.26" cy="760.37" r="1.45" fill="#90ee90" stroke="#fff" stroke-width="0.5"/>
<circle cx="100.03" cy="756.15" r="1.45" fill="#90ee90" stroke="#fff" stroke-width="0.5"/>
<circle cx="95.15" cy="760.2" r="1.45" fill="#90ee90" stroke="#fff" stroke-width="0.5"/>
<circle cx="96.14" cy="758.91" r="1.45" fill="#90ee90" stroke="#fff" stroke-width="0.5"/>
<circle cx="104.85" cy="753.2" r="1.45" fill="#90ee90" stroke="#fff" stroke-width="0.5"/>
<circle cx="103.96" cy="758.04" r="1.45" fill="#90ee90" stroke="#fff" stroke-width="0.5"/>
<circle cx="102.55" cy="760.88" r="1.45" fill="#90ee90" stroke="#fff" stroke-width="0.5"/>
<circle cx="103.86" cy="760.14" r="1.45" fill="#90ee90" stroke="#fff" stroke-width="0.5"/>
<circle cx="95.64" cy="754.29" r="1.45" fill="#90ee90" stroke="#fff" stroke-width="0.5"/>
<circle cx="92.54" cy="761.36" r="1.45" fill="#90ee90" stroke="#fff" stroke-width="0.5"/>
<circle cx="96.05" cy="756.6" r="1.45" fill="#90ee90" stroke="#fff" stroke-width="0.5"/>
<circle cx="92.08" cy="754.62" r="1.45" fill="#90ee90" stroke="#fff" stroke-width="0.5"/>
<circle cx="91.15" cy="755.42" r="1.45" fill="#90ee90" stroke="#fff" stroke-width="0.5"/>
<circle cx="94.64" cy="753.46" r="1.45" fill="#90ee90" stroke="#fff" stroke-width="0.5"/>
<circle cx="100.83" cy="760.53" r="1.45" fill="#90ee90" stroke="#fff" stroke-width="0.5"/>
<line x1="53.5" y1="805.2" x2="53.5" y2="805.28" stroke="#000" stroke-width="1.3"/>
<line x1="51.9" y1="805.2" x2="55.1" y2="805.2" stroke="#000" stroke-width="1"/>
<line x1="51.9" y1="805.28" x2="55.1" y2="805.28" stroke="#000" stroke-width="1"/>
<line x1="97.5" y1="750.67" x2="97.5" y2="752.55" stroke="#000" stroke-width="1.3"/>
<line x1="95.9" y1="750.67" x2="99.1" y2="750.67" stroke="#000" stroke-width="1"/>
<line x1="95.9" y1="752.55" x2="99.1" y2="752.55" stroke="#000" stroke-width="1"/>
<line x1="39.2" y1="725.7" x2="39.2" y2="805.8" stroke="#3a3a3a" stroke-width="0.85"/>
<line x1="38.8" y1="805.4" x2="111.8" y2="805.4" stroke="#3a3a3a" stroke-width="0.85"/>
<line x1="35.9" y1="805.4" x2="39.2" y2="805.4" stroke="#3a3a3a" stroke-width="0.8"/>
<text x="33.6" y="808.2" font-size="8.16" text-anchor="end" fill="#1a1a1a" stroke="#1a1a1a" stroke-width="0.19" textLength="17.14" lengthAdjust="spacingAndGlyphs">0.00</text>
<line x1="35.9" y1="785.82" x2="39.2" y2="785.82" stroke="#3a3a3a" stroke-width="0.8"/>
<text x="33.6" y="788.62" font-size="8.16" text-anchor="end" fill="#1a1a1a" stroke="#1a1a1a" stroke-width="0.19" textLength="17.14" lengthAdjust="spacingAndGlyphs">0.25</text>
<line x1="35.9" y1="766.25" x2="39.2" y2="766.25" stroke="#3a3a3a" stroke-width="0.8"/>
<text x="33.6" y="769.05" font-size="8.16" text-anchor="end" fill="#1a1a1a" stroke="#1a1a1a" stroke-width="0.19" textLength="17.14" lengthAdjust="spacingAndGlyphs">0.50</text>
<line x1="35.9" y1="746.67" x2="39.2" y2="746.67" stroke="#3a3a3a" stroke-width="0.8"/>
<text x="33.6" y="749.47" font-size="8.16" text-anchor="end" fill="#1a1a1a" stroke="#1a1a1a" stroke-width="0.19" textLength="17.14" lengthAdjust="spacingAndGlyphs">0.75</text>
<line x1="35.9" y1="727.1" x2="39.2" y2="727.1" stroke="#3a3a3a" stroke-width="0.8"/>
<text x="33.6" y="729.9" font-size="8.16" text-anchor="end" fill="#1a1a1a" stroke="#1a1a1a" stroke-width="0.19" textLength="17.14" lengthAdjust="spacingAndGlyphs">1.00</text>
<line x1="53.5" y1="805.4" x2="53.5" y2="808.7" stroke="#3a3a3a" stroke-width="0.8"/>
<text x="43.61" y="837.92" font-size="8.16" fill="#1a1a1a" stroke="#1a1a1a" stroke-width="0.19" textLength="32.21" lengthAdjust="spacingAndGlyphs" transform="rotate(-45 43.61 837.92)">hcDRQN</text>
<line x1="97.5" y1="805.4" x2="97.5" y2="808.7" stroke="#3a3a3a" stroke-width="0.8"/>
<text x="89.51" y="834.13" font-size="8.16" fill="#1a1a1a" stroke="#1a1a1a" stroke-width="0.19" textLength="26.86" lengthAdjust="spacingAndGlyphs" transform="rotate(-45 89.51 834.13)">hcDQN</text>
<text x="75.5" y="708.3" font-size="9.54" text-anchor="middle" fill="#1a1a1a" stroke="#1a1a1a" stroke-width="0.23" textLength="67.23" lengthAdjust="spacingAndGlyphs">Allo N vs Allo S</text>
<line x1="53.5" y1="735.4" x2="97.5" y2="735.4" stroke="#555555" stroke-width="0.9"/>
<line x1="53.5" y1="735" x2="53.5" y2="736.8" stroke="#333" stroke-width="0.8"/>
<line x1="97.5" y1="735" x2="97.5" y2="736.8" stroke="#333" stroke-width="0.8"/>
<text x="75.5" y="735.03" font-size="10.78" text-anchor="middle" textLength="16.6" lengthAdjust="spacingAndGlyphs" fill="#1a1a1a" stroke="#1a1a1a" stroke-width="0.25">****</text>
<text x="39.8" y="723.9" font-size="8.16" fill="#1a1a1a" stroke="#1a1a1a" stroke-width="0.19" textLength="16.25" lengthAdjust="spacingAndGlyphs">×10</text>
<text x="56.05" y="720.67" font-size="5.71" fill="#1a1a1a" stroke="#1a1a1a" stroke-width="0.13" textLength="7.95" lengthAdjust="spacingAndGlyphs">−1</text>
<rect x="136.52" y="744.72" width="22" height="60.68" fill="#228b22"/>
<rect x="180.52" y="742.03" width="22" height="63.37" fill="#90ee90"/>
<circle cx="146.7" cy="743.87" r="1.45" fill="#228b22" stroke="#fff" stroke-width="0.5"/>
<circle cx="147.29" cy="744.27" r="1.45" fill="#228b22" stroke="#fff" stroke-width="0.5"/>
<circle cx="141.17" cy="745.97" r="1.45" fill="#228b22" stroke="#fff" stroke-width="0.5"/>
<circle cx="149.44" cy="745.21" r="1.45" fill="#228b22" stroke="#fff" stroke-width="0.5"/>
<circle cx="143.37" cy="744.54" r="1.45" fill="#228b22" stroke="#fff" stroke-width="0.5"/>
<circle cx="144.95" cy="744.46" r="1.45" fill="#228b22" stroke="#fff" stroke-width="0.5"/>
<circle cx="154.59" cy="744.52" r="1.45" fill="#228b22" stroke="#fff" stroke-width="0.5"/>
<circle cx="150.75" cy="744.61" r="1.45" fill="#228b22" stroke="#fff" stroke-width="0.5"/>
<circle cx="146.44" cy="744.93" r="1.45" fill="#228b22" stroke="#fff" stroke-width="0.5"/>
<circle cx="143.12" cy="746.11" r="1.45" fill="#228b22" stroke="#fff" stroke-width="0.5"/>
<circle cx="145.15" cy="743.73" r="1.45" fill="#228b22" stroke="#fff" stroke-width="0.5"/>
<circle cx="141.8" cy="743.79" r="1.45" fill="#228b22" stroke="#fff" stroke-width="0.5"/>
<circle cx="149.19" cy="745.6" r="1.45" fill="#228b22" stroke="#fff" stroke-width="0.5"/>
<circle cx="146.59" cy="745.23" r="1.45" fill="#228b22" stroke="#fff" stroke-width="0.5"/>
<circle cx="145.24" cy="743.68" r="1.45" fill="#228b22" stroke="#fff" stroke-width="0.5"/>
<circle cx="151.01" cy="744.82" r="1.45" fill="#228b22" stroke="#fff" stroke-width="0.5"/>
<circle cx="143.04" cy="743.73" r="1.45" fill="#228b22" stroke="#fff" stroke-width="0.5"/>
<circle cx="152.37" cy="744.29" r="1.45" fill="#228b22" stroke="#fff" stroke-width="0.5"/>
<circle cx="154.38" cy="745.23" r="1.45" fill="#228b22" stroke="#fff" stroke-width="0.5"/>
<circle cx="146.06" cy="744.8" r="1.45" fill="#228b22" stroke="#fff" stroke-width="0.5"/>
<circle cx="144.45" cy="743.97" r="1.45" fill="#228b22" stroke="#fff" stroke-width="0.5"/>
<circle cx="146.38" cy="745.98" r="1.45" fill="#228b22" stroke="#fff" stroke-width="0.5"/>
<circle cx="144.64" cy="746.06" r="1.45" fill="#228b22" stroke="#fff" stroke-width="0.5"/>
<circle cx="146.24" cy="745.16" r="1.45" fill="#228b22" stroke="#fff" stroke-width="0.5"/>
<circle cx="144.42" cy="744.88" r="1.45" fill="#228b22" stroke="#fff" stroke-width="0.5"/>
<circle cx="143.81" cy="744.96" r="1.45" fill="#228b22" stroke="#fff" stroke-width="0.5"/>
<circle cx="143.37" cy="744.69" r="1.45" fill="#228b22" stroke="#fff" stroke-width="0.5"/>
<circle cx="140.23" cy="745.15" r="1.45" fill="#228b22" stroke="#fff" stroke-width="0.5"/>
<circle cx="141.33" cy="745.19" r="1.45" fill="#228b22" stroke="#fff" stroke-width="0.5"/>
<circle cx="154.9" cy="745.05" r="1.45" fill="#228b22" stroke="#fff" stroke-width="0.5"/>
<circle cx="142.39" cy="744.94" r="1.45" fill="#228b22" stroke="#fff" stroke-width="0.5"/>
<circle cx="142.74" cy="745.25" r="1.45" fill="#228b22" stroke="#fff" stroke-width="0.5"/>
<circle cx="141.32" cy="745.56" r="1.45" fill="#228b22" stroke="#fff" stroke-width="0.5"/>
<circle cx="153.87" cy="746.02" r="1.45" fill="#228b22" stroke="#fff" stroke-width="0.5"/>
<circle cx="148.26" cy="744.19" r="1.45" fill="#228b22" stroke="#fff" stroke-width="0.5"/>
<circle cx="147.45" cy="745.12" r="1.45" fill="#228b22" stroke="#fff" stroke-width="0.5"/>
<circle cx="147.25" cy="744.14" r="1.45" fill="#228b22" stroke="#fff" stroke-width="0.5"/>
<circle cx="145.98" cy="746.12" r="1.45" fill="#228b22" stroke="#fff" stroke-width="0.5"/>
<circle cx="149.02" cy="744.02" r="1.45" fill="#228b22" stroke="#fff" stroke-width="0.5"/>
<circle cx="146.38" cy="746.05" r="1.45" fill="#228b22" stroke="#fff" stroke-width="0.5"/>
<circle cx="152.54" cy="745.54" r="1.45" fill="#228b22" stroke="#fff" stroke-width="0.5"/>
<circle cx="146.17" cy="745.03" r="1.45" fill="#228b22" stroke="#fff" stroke-width="0.5"/>
<circle cx="147.6" cy="746.07" r="1.45" fill="#228b22" stroke="#fff" stroke-width="0.5"/>
<circle cx="149.17" cy="744.59" r="1.45" fill="#228b22" stroke="#fff" stroke-width="0.5"/>
<circle cx="144.53" cy="745.86" r="1.45" fill="#228b22" stroke="#fff" stroke-width="0.5"/>
<circle cx="191.16" cy="742.03" r="1.45" fill="#90ee90" stroke="#fff" stroke-width="0.5"/>
<circle cx="197.8" cy="740.98" r="1.45" fill="#90ee90" stroke="#fff" stroke-width="0.5"/>
<circle cx="194.57" cy="741.75" r="1.45" fill="#90ee90" stroke="#fff" stroke-width="0.5"/>
<circle cx="187.05" cy="742.01" r="1.45" fill="#90ee90" stroke="#fff" stroke-width="0.5"/>
<circle cx="186.25" cy="742.3" r="1.45" fill="#90ee90" stroke="#fff" stroke-width="0.5"/>
<circle cx="194.83" cy="741.53" r="1.45" fill="#90ee90" stroke="#fff" stroke-width="0.5"/>
<circle cx="184.12" cy="742.56" r="1.45" fill="#90ee90" stroke="#fff" stroke-width="0.5"/>
<circle cx="184.72" cy="742.36" r="1.45" fill="#90ee90" stroke="#fff" stroke-width="0.5"/>
<circle cx="186.98" cy="741.82" r="1.45" fill="#90ee90" stroke="#fff" stroke-width="0.5"/>
<circle cx="189.98" cy="741.42" r="1.45" fill="#90ee90" stroke="#fff" stroke-width="0.5"/>
<circle cx="192.26" cy="742.2" r="1.45" fill="#90ee90" stroke="#fff" stroke-width="0.5"/>
<circle cx="189.49" cy="742.43" r="1.45" fill="#90ee90" stroke="#fff" stroke-width="0.5"/>
<circle cx="184.06" cy="742.37" r="1.45" fill="#90ee90" stroke="#fff" stroke-width="0.5"/>
<circle cx="184.88" cy="741.55" r="1.45" fill="#90ee90" stroke="#fff" stroke-width="0.5"/>
<circle cx="196.45" cy="741.31" r="1.45" fill="#90ee90" stroke="#fff" stroke-width="0.5"/>
<circle cx="188.57" cy="741.56" r="1.45" fill="#90ee90" stroke="#fff" stroke-width="0.5"/>
<circle cx="188.51" cy="741.73" r="1.45" fill="#90ee90" stroke="#fff" stroke-width="0.5"/>
<circle cx="187.59" cy="742.01" r="1.45" fill="#90ee90" stroke="#fff" stroke-width="0.5"/>
<circle cx="198.23" cy="742.29" r="1.45" fill="#90ee90" stroke="#fff" stroke-width="0.5"/>
<circle cx="197.82" cy="742.08" r="1.45" fill="#90ee90" stroke="#fff" stroke-width="0.5"/>
<circle cx="188.14" cy="742.46" r="1.45" fill="#90ee90" stroke="#fff" stroke-width="0.5"/>
<circle cx="185.94" cy="741.1" r="1.45" fill="#90ee90" stroke="#fff" stroke-width="0.5"/>
<circle cx="184.88" cy="742.15" r="1.45" fill="#90ee90" stroke="#fff" stroke-width="0.5"/>
<circle cx="192.44" cy="741.27" r="1.45" fill="#90ee90" stroke="#fff" stroke-width="0.5"/>
<circle cx="191.12" cy="742.18" r="1.45" fill="#90ee90" stroke="#fff" stroke-width="0.5"/>
<circle cx="191.75" cy="741.41" r="1.45" fill="#90ee90" stroke="#fff" stroke-width="0.5"/>
<circle cx="192.05" cy="741.24" r="1.45" fill="#90ee90" stroke="#fff" stroke-width="0.5"/>
<circle cx="196.35" cy="741.89" r="1.45" fill="#90ee90" stroke="#fff" stroke-width="0.5"/>
<circle cx="185.68" cy="741.63" r="1.45" fill="#90ee90" stroke="#fff" stroke-width="0.5"/>
<circle cx="185.96" cy="742.06" r="1.45" fill="#90ee90" stroke="#fff" stroke-width="0.5"/>
<circle cx="186.08" cy="741.53" r="1.45" fill="#90ee90" stroke="#fff" stroke-width="0.5"/>
<circle cx="197.95" cy="741.65" r="1.45" fill="#90ee90" stroke="#fff" stroke-width="0.5"/>
<circle cx="186.61" cy="741.82" r="1.45" fill="#90ee90" stroke="#fff" stroke-width="0.5"/>
<circle cx="194.39" cy="741.74" r="1.45" fill="#90ee90" stroke="#fff" stroke-width="0.5"/>
<circle cx="185.28" cy="742.7" r="1.45" fill="#90ee90" stroke="#fff" stroke-width="0.5"/>
<circle cx="198.83" cy="741.59" r="1.45" fill="#90ee90" stroke="#fff" stroke-width="0.5"/>
<circle cx="195.31" cy="741" r="1.45" fill="#90ee90" stroke="#fff" stroke-width="0.5"/>
<circle cx="198.72" cy="742.67" r="1.45" fill="#90ee90" stroke="#fff" stroke-width="0.5"/>
<circle cx="195.76" cy="742.71" r="1.45" fill="#90ee90" stroke="#fff" stroke-width="0.5"/>
<circle cx="194.91" cy="741" r="1.45" fill="#90ee90" stroke="#fff" stroke-width="0.5"/>
<circle cx="192.99" cy="742.54" r="1.45" fill="#90ee90" stroke="#fff" stroke-width="0.5"/>
<circle cx="186.46" cy="741.26" r="1.45" fill="#90ee90" stroke="#fff" stroke-width="0.5"/>
<circle cx="189.28" cy="742.38" r="1.45" fill="#90ee90" stroke="#fff" stroke-width="0.5"/>
<circle cx="184.06" cy="742.48" r="1.45" fill="#90ee90" stroke="#fff" stroke-width="0.5"/>
<circle cx="196.33" cy="742.38" r="1.45" fill="#90ee90" stroke="#fff" stroke-width="0.5"/>
<line x1="147.52" y1="744.54" x2="147.52" y2="744.9" stroke="#000" stroke-width="1.3"/>
<line x1="145.92" y1="744.54" x2="149.12" y2="744.54" stroke="#000" stroke-width="1"/>
<line x1="145.92" y1="744.9" x2="149.12" y2="744.9" stroke="#000" stroke-width="1"/>
<line x1="191.52" y1="741.86" x2="191.52" y2="742.21" stroke="#000" stroke-width="1.3"/>
<line x1="189.92" y1="741.86" x2="193.12" y2="741.86" stroke="#000" stroke-width="1"/>
<line x1="189.92" y1="742.21" x2="193.12" y2="742.21" stroke="#000" stroke-width="1"/>
<line x1="133.22" y1="725.7" x2="133.22" y2="805.8" stroke="#3a3a3a" stroke-width="0.85"/>
<line x1="132.82" y1="805.4" x2="205.82" y2="805.4" stroke="#3a3a3a" stroke-width="0.85"/>
<line x1="129.92" y1="805.4" x2="133.22" y2="805.4" stroke="#3a3a3a" stroke-width="0.8"/>
<text x="127.62" y="808.2" font-size="8.16" text-anchor="end" fill="#1a1a1a" stroke="#1a1a1a" stroke-width="0.19" textLength="4.9" lengthAdjust="spacingAndGlyphs">0</text>
<line x1="129.92" y1="787.5" x2="133.22" y2="787.5" stroke="#3a3a3a" stroke-width="0.8"/>
<text x="127.62" y="790.3" font-size="8.16" text-anchor="end" fill="#1a1a1a" stroke="#1a1a1a" stroke-width="0.19" textLength="4.9" lengthAdjust="spacingAndGlyphs">1</text>
<line x1="129.92" y1="769.6" x2="133.22" y2="769.6" stroke="#3a3a3a" stroke-width="0.8"/>
<text x="127.62" y="772.4" font-size="8.16" text-anchor="end" fill="#1a1a1a" stroke="#1a1a1a" stroke-width="0.19" textLength="4.9" lengthAdjust="spacingAndGlyphs">2</text>
<line x1="129.92" y1="751.7" x2="133.22" y2="751.7" stroke="#3a3a3a" stroke-width="0.8"/>
<text x="127.62" y="754.5" font-size="8.16" text-anchor="end" fill="#1a1a1a" stroke="#1a1a1a" stroke-width="0.19" textLength="4.9" lengthAdjust="spacingAndGlyphs">3</text>
<line x1="129.92" y1="733.8" x2="133.22" y2="733.8" stroke="#3a3a3a" stroke-width="0.8"/>
<text x="127.62" y="736.6" font-size="8.16" text-anchor="end" fill="#1a1a1a" stroke="#1a1a1a" stroke-width="0.19" textLength="4.9" lengthAdjust="spacingAndGlyphs">4</text>
<line x1="147.52" y1="805.4" x2="147.52" y2="808.7" stroke="#3a3a3a" stroke-width="0.8"/>
<text x="137.63" y="837.92" font-size="8.16" fill="#1a1a1a" stroke="#1a1a1a" stroke-width="0.19" textLength="32.21" lengthAdjust="spacingAndGlyphs" transform="rotate(-45 137.63 837.92)">hcDRQN</text>
<line x1="191.52" y1="805.4" x2="191.52" y2="808.7" stroke="#3a3a3a" stroke-width="0.8"/>
<text x="183.53" y="834.13" font-size="8.16" fill="#1a1a1a" stroke="#1a1a1a" stroke-width="0.19" textLength="26.86" lengthAdjust="spacingAndGlyphs" transform="rotate(-45 183.53 834.13)">hcDQN</text>
<text x="169.52" y="708.3" font-size="9.54" text-anchor="middle" fill="#1a1a1a" stroke="#1a1a1a" stroke-width="0.23" textLength="67.72" lengthAdjust="spacingAndGlyphs">Ego N vs Ego S</text>
<line x1="147.52" y1="735.4" x2="191.52" y2="735.4" stroke="#555555" stroke-width="0.9"/>
<line x1="147.52" y1="735" x2="147.52" y2="736.8" stroke="#333" stroke-width="0.8"/>
<line x1="191.52" y1="735" x2="191.52" y2="736.8" stroke="#333" stroke-width="0.8"/>
<text x="169.52" y="735.03" font-size="10.78" text-anchor="middle" textLength="16.6" lengthAdjust="spacingAndGlyphs" fill="#1a1a1a" stroke="#1a1a1a" stroke-width="0.25">****</text>
<text x="133.82" y="723.9" font-size="8.16" fill="#1a1a1a" stroke="#1a1a1a" stroke-width="0.19" textLength="16.25" lengthAdjust="spacingAndGlyphs">×10</text>
<text x="150.07" y="720.67" font-size="5.71" fill="#1a1a1a" stroke="#1a1a1a" stroke-width="0.13" textLength="7.95" lengthAdjust="spacingAndGlyphs">−5</text>
<rect x="230.54" y="805.13" width="22" height="0.27" fill="#228b22"/>
<rect x="274.54" y="754.92" width="22" height="50.48" fill="#90ee90"/>
<circle cx="240.26" cy="804.64" r="1.45" fill="#228b22" stroke="#fff" stroke-width="0.5"/>
<circle cx="240.7" cy="804.91" r="1.45" fill="#228b22" stroke="#fff" stroke-width="0.5"/>
<circle cx="239.13" cy="804.59" r="1.45" fill="#228b22" stroke="#fff" stroke-width="0.5"/>
<circle cx="235.14" cy="805.16" r="1.45" fill="#228b22" stroke="#fff" stroke-width="0.5"/>
<circle cx="243.87" cy="805.36" r="1.45" fill="#228b22" stroke="#fff" stroke-width="0.5"/>
<circle cx="235.75" cy="804.63" r="1.45" fill="#228b22" stroke="#fff" stroke-width="0.5"/>
<circle cx="245.99" cy="805.34" r="1.45" fill="#228b22" stroke="#fff" stroke-width="0.5"/>
<circle cx="239.3" cy="805.07" r="1.45" fill="#228b22" stroke="#fff" stroke-width="0.5"/>
<circle cx="237.51" cy="805.05" r="1.45" fill="#228b22" stroke="#fff" stroke-width="0.5"/>
<circle cx="240.01" cy="804.77" r="1.45" fill="#228b22" stroke="#fff" stroke-width="0.5"/>
<circle cx="245.42" cy="805.1" r="1.45" fill="#228b22" stroke="#fff" stroke-width="0.5"/>
<circle cx="248.54" cy="805.16" r="1.45" fill="#228b22" stroke="#fff" stroke-width="0.5"/>
<circle cx="236.63" cy="805.17" r="1.45" fill="#228b22" stroke="#fff" stroke-width="0.5"/>
<circle cx="247.19" cy="804.67" r="1.45" fill="#228b22" stroke="#fff" stroke-width="0.5"/>
<circle cx="236.48" cy="805.18" r="1.45" fill="#228b22" stroke="#fff" stroke-width="0.5"/>
<circle cx="236.03" cy="805.19" r="1.45" fill="#228b22" stroke="#fff" stroke-width="0.5"/>
<circle cx="248.7" cy="805.19" r="1.45" fill="#228b22" stroke="#fff" stroke-width="0.5"/>
<circle cx="242.37" cy="804.88" r="1.45" fill="#228b22" stroke="#fff" stroke-width="0.5"/>
<circle cx="244.64" cy="805.39" r="1.45" fill="#228b22" stroke="#fff" stroke-width="0.5"/>
<circle cx="244.05" cy="804.99" r="1.45" fill="#228b22" stroke="#fff" stroke-width="0.5"/>
<circle cx="246.9" cy="805.34" r="1.45" fill="#228b22" stroke="#fff" stroke-width="0.5"/>
<circle cx="235.43" cy="805.01" r="1.45" fill="#228b22" stroke="#fff" stroke-width="0.5"/>
<circle cx="244.65" cy="804.51" r="1.45" fill="#228b22" stroke="#fff" stroke-width="0.5"/>
<circle cx="246.93" cy="804.78" r="1.45" fill="#228b22" stroke="#fff" stroke-width="0.5"/>
<circle cx="242.57" cy="805.25" r="1.45" fill="#228b22" stroke="#fff" stroke-width="0.5"/>
<circle cx="246.62" cy="804.97" r="1.45" fill="#228b22" stroke="#fff" stroke-width="0.5"/>
<circle cx="238.45" cy="804.95" r="1.45" fill="#228b22" stroke="#fff" stroke-width="0.5"/>
<circle cx="243.68" cy="805.27" r="1.45" fill="#228b22" stroke="#fff" stroke-width="0.5"/>
<circle cx="242.96" cy="805.1" r="1.45" fill="#228b22" stroke="#fff" stroke-width="0.5"/>
<circle cx="248.7" cy="804.69" r="1.45" fill="#228b22" stroke="#fff" stroke-width="0.5"/>
<circle cx="242.11" cy="805.24" r="1.45" fill="#228b22" stroke="#fff" stroke-width="0.5"/>
<circle cx="244.84" cy="805.34" r="1.45" fill="#228b22" stroke="#fff" stroke-width="0.5"/>
<circle cx="244.28" cy="805.29" r="1.45" fill="#228b22" stroke="#fff" stroke-width="0.5"/>
<circle cx="246.46" cy="805.28" r="1.45" fill="#228b22" stroke="#fff" stroke-width="0.5"/>
<circle cx="245.98" cy="805" r="1.45" fill="#228b22" stroke="#fff" stroke-width="0.5"/>
<circle cx="241.57" cy="804.9" r="1.45" fill="#228b22" stroke="#fff" stroke-width="0.5"/>
<circle cx="243.14" cy="805.15" r="1.45" fill="#228b22" stroke="#fff" stroke-width="0.5"/>
<circle cx="238.11" cy="804.93" r="1.45" fill="#228b22" stroke="#fff" stroke-width="0.5"/>
<circle cx="245.44" cy="805.16" r="1.45" fill="#228b22" stroke="#fff" stroke-width="0.5"/>
<circle cx="236.47" cy="805.39" r="1.45" fill="#228b22" stroke="#fff" stroke-width="0.5"/>
<circle cx="239.43" cy="804.75" r="1.45" fill="#228b22" stroke="#fff" stroke-width="0.5"/>
<circle cx="245.11" cy="805.31" r="1.45" fill="#228b22" stroke="#fff" stroke-width="0.5"/>
<circle cx="238.05" cy="804.59" r="1.45" fill="#228b22" stroke="#fff" stroke-width="0.5"/>
<circle cx="248.09" cy="804.89" r="1.45" fill="#228b22" stroke="#fff" stroke-width="0.5"/>
<circle cx="240.32" cy="804.91" r="1.45" fill="#228b22" stroke="#fff" stroke-width="0.5"/>
<circle cx="283.56" cy="740.42" r="1.45" fill="#90ee90" stroke="#fff" stroke-width="0.5"/>
<circle cx="278.85" cy="744" r="1.45" fill="#90ee90" stroke="#fff" stroke-width="0.5"/>
<circle cx="281.05" cy="747.67" r="1.45" fill="#90ee90" stroke="#fff" stroke-width="0.5"/>
<circle cx="291.7" cy="749.19" r="1.45" fill="#90ee90" stroke="#fff" stroke-width="0.5"/>
<circle cx="287.12" cy="749.82" r="1.45" fill="#90ee90" stroke="#fff" stroke-width="0.5"/>
<circle cx="277.75" cy="748.48" r="1.45" fill="#90ee90" stroke="#fff" stroke-width="0.5"/>
<circle cx="282.46" cy="751.16" r="1.45" fill="#90ee90" stroke="#fff" stroke-width="0.5"/>
<circle cx="290.64" cy="752.77" r="1.45" fill="#90ee90" stroke="#fff" stroke-width="0.5"/>
<circle cx="278.94" cy="768.97" r="1.45" fill="#90ee90" stroke="#fff" stroke-width="0.5"/>
<circle cx="289.94" cy="753.94" r="1.45" fill="#90ee90" stroke="#fff" stroke-width="0.5"/>
<circle cx="280.26" cy="753.49" r="1.45" fill="#90ee90" stroke="#fff" stroke-width="0.5"/>
<circle cx="279.12" cy="761.94" r="1.45" fill="#90ee90" stroke="#fff" stroke-width="0.5"/>
<circle cx="284.73" cy="756.21" r="1.45" fill="#90ee90" stroke="#fff" stroke-width="0.5"/>
<circle cx="286.44" cy="755.61" r="1.45" fill="#90ee90" stroke="#fff" stroke-width="0.5"/>
<circle cx="285.46" cy="763.04" r="1.45" fill="#90ee90" stroke="#fff" stroke-width="0.5"/>
<circle cx="289.79" cy="760.85" r="1.45" fill="#90ee90" stroke="#fff" stroke-width="0.5"/>
<circle cx="280.56" cy="759.97" r="1.45" fill="#90ee90" stroke="#fff" stroke-width="0.5"/>
<circle cx="285.61" cy="756.38" r="1.45" fill="#90ee90" stroke="#fff" stroke-width="0.5"/>
<circle cx="292.72" cy="756.04" r="1.45" fill="#90ee90" stroke="#fff" stroke-width="0.5"/>
<circle cx="288.68" cy="755.13" r="1.45" fill="#90ee90" stroke="#fff" stroke-width="0.5"/>
<circle cx="281.13" cy="759.73" r="1.45" fill="#90ee90" stroke="#fff" stroke-width="0.5"/>
<circle cx="282.64" cy="762.37" r="1.45" fill="#90ee90" stroke="#fff" stroke-width="0.5"/>
<circle cx="291.84" cy="758.19" r="1.45" fill="#90ee90" stroke="#fff" stroke-width="0.5"/>
<circle cx="289.93" cy="761.34" r="1.45" fill="#90ee90" stroke="#fff" stroke-width="0.5"/>
<circle cx="284.1" cy="763.13" r="1.45" fill="#90ee90" stroke="#fff" stroke-width="0.5"/>
<circle cx="285.15" cy="758.15" r="1.45" fill="#90ee90" stroke="#fff" stroke-width="0.5"/>
<circle cx="286.45" cy="756.33" r="1.45" fill="#90ee90" stroke="#fff" stroke-width="0.5"/>
<circle cx="284.43" cy="760.77" r="1.45" fill="#90ee90" stroke="#fff" stroke-width="0.5"/>
<circle cx="283.55" cy="756.64" r="1.45" fill="#90ee90" stroke="#fff" stroke-width="0.5"/>
<circle cx="280.81" cy="758.97" r="1.45" fill="#90ee90" stroke="#fff" stroke-width="0.5"/>
<circle cx="290.38" cy="755.87" r="1.45" fill="#90ee90" stroke="#fff" stroke-width="0.5"/>
<circle cx="286.77" cy="763.91" r="1.45" fill="#90ee90" stroke="#fff" stroke-width="0.5"/>
<circle cx="285.79" cy="761.55" r="1.45" fill="#90ee90" stroke="#fff" stroke-width="0.5"/>
<circle cx="291.01" cy="756.65" r="1.45" fill="#90ee90" stroke="#fff" stroke-width="0.5"/>
<circle cx="283.55" cy="760.53" r="1.45" fill="#90ee90" stroke="#fff" stroke-width="0.5"/>
<circle cx="280.56" cy="757.96" r="1.45" fill="#90ee90" stroke="#fff" stroke-width="0.5"/>
<circle cx="288.48" cy="757.44" r="1.45" fill="#90ee90" stroke="#fff" stroke-width="0.5"/>
<circle cx="286.07" cy="763.31" r="1.45" fill="#90ee90" stroke="#fff" stroke-width="0.5"/>
<circle cx="288.56" cy="758.83" r="1.45" fill="#90ee90" stroke="#fff" stroke-width="0.5"/>
<circle cx="287.04" cy="757.33" r="1.45" fill="#90ee90" stroke="#fff" stroke-width="0.5"/>
<circle cx="278.99" cy="763.4" r="1.45" fill="#90ee90" stroke="#fff" stroke-width="0.5"/>
<circle cx="292.61" cy="762.22" r="1.45" fill="#90ee90" stroke="#fff" stroke-width="0.5"/>
<circle cx="279.54" cy="757.67" r="1.45" fill="#90ee90" stroke="#fff" stroke-width="0.5"/>
<circle cx="282.08" cy="757.23" r="1.45" fill="#90ee90" stroke="#fff" stroke-width="0.5"/>
<circle cx="280.58" cy="762.26" r="1.45" fill="#90ee90" stroke="#fff" stroke-width="0.5"/>
<circle cx="280.23" cy="763.57" r="1.45" fill="#90ee90" stroke="#fff" stroke-width="0.5"/>
<circle cx="278.26" cy="760.58" r="1.45" fill="#90ee90" stroke="#fff" stroke-width="0.5"/>
<line x1="241.54" y1="805.04" x2="241.54" y2="805.22" stroke="#000" stroke-width="1.3"/>
<line x1="239.94" y1="805.04" x2="243.14" y2="805.04" stroke="#000" stroke-width="1"/>
<line x1="239.94" y1="805.22" x2="243.14" y2="805.22" stroke="#000" stroke-width="1"/>
<line x1="285.54" y1="753.85" x2="285.54" y2="756" stroke="#000" stroke-width="1.3"/>
<line x1="283.94" y1="753.85" x2="287.14" y2="753.85" stroke="#000" stroke-width="1"/>
<line x1="283.94" y1="756" x2="287.14" y2="756" stroke="#000" stroke-width="1"/>
<line x1="227.24" y1="725.7" x2="227.24" y2="805.8" stroke="#3a3a3a" stroke-width="0.85"/>
<line x1="226.84" y1="805.4" x2="299.84" y2="805.4" stroke="#3a3a3a" stroke-width="0.85"/>
<line x1="223.94" y1="805.4" x2="227.24" y2="805.4" stroke="#3a3a3a" stroke-width="0.8"/>
<text x="221.64" y="808.2" font-size="8.16" text-anchor="end" fill="#1a1a1a" stroke="#1a1a1a" stroke-width="0.19" textLength="4.9" lengthAdjust="spacingAndGlyphs">0</text>
<line x1="223.94" y1="787.5" x2="227.24" y2="787.5" stroke="#3a3a3a" stroke-width="0.8"/>
<text x="221.64" y="790.3" font-size="8.16" text-anchor="end" fill="#1a1a1a" stroke="#1a1a1a" stroke-width="0.19" textLength="4.9" lengthAdjust="spacingAndGlyphs">2</text>
<line x1="223.94" y1="769.6" x2="227.24" y2="769.6" stroke="#3a3a3a" stroke-width="0.8"/>
<text x="221.64" y="772.4" font-size="8.16" text-anchor="end" fill="#1a1a1a" stroke="#1a1a1a" stroke-width="0.19" textLength="4.9" lengthAdjust="spacingAndGlyphs">4</text>
<line x1="223.94" y1="751.7" x2="227.24" y2="751.7" stroke="#3a3a3a" stroke-width="0.8"/>
<text x="221.64" y="754.5" font-size="8.16" text-anchor="end" fill="#1a1a1a" stroke="#1a1a1a" stroke-width="0.19" textLength="4.9" lengthAdjust="spacingAndGlyphs">6</text>
<line x1="223.94" y1="733.8" x2="227.24" y2="733.8" stroke="#3a3a3a" stroke-width="0.8"/>
<text x="221.64" y="736.6" font-size="8.16" text-anchor="end" fill="#1a1a1a" stroke="#1a1a1a" stroke-width="0.19" textLength="4.9" lengthAdjust="spacingAndGlyphs">8</text>
<line x1="241.54" y1="805.4" x2="241.54" y2="808.7" stroke="#3a3a3a" stroke-width="0.8"/>
<text x="231.65" y="837.92" font-size="8.16" fill="#1a1a1a" stroke="#1a1a1a" stroke-width="0.19" textLength="32.21" lengthAdjust="spacingAndGlyphs" transform="rotate(-45 231.65 837.92)">hcDRQN</text>
<line x1="285.54" y1="805.4" x2="285.54" y2="808.7" stroke="#3a3a3a" stroke-width="0.8"/>
<text x="277.55" y="834.13" font-size="8.16" fill="#1a1a1a" stroke="#1a1a1a" stroke-width="0.19" textLength="26.86" lengthAdjust="spacingAndGlyphs" transform="rotate(-45 277.55 834.13)">hcDQN</text>
<text x="263.54" y="708.3" font-size="9.54" text-anchor="middle" fill="#1a1a1a" stroke="#1a1a1a" stroke-width="0.23" textLength="68.49" lengthAdjust="spacingAndGlyphs">Allo N vs Ego N</text>
<line x1="241.54" y1="735.4" x2="285.54" y2="735.4" stroke="#555555" stroke-width="0.9"/>
<line x1="241.54" y1="735" x2="241.54" y2="736.8" stroke="#333" stroke-width="0.8"/>
<line x1="285.54" y1="735" x2="285.54" y2="736.8" stroke="#333" stroke-width="0.8"/>
<text x="263.54" y="735.03" font-size="10.78" text-anchor="middle" textLength="16.6" lengthAdjust="spacingAndGlyphs" fill="#1a1a1a" stroke="#1a1a1a" stroke-width="0.25">****</text>
<text x="227.84" y="723.9" font-size="8.16" fill="#1a1a1a" stroke="#1a1a1a" stroke-width="0.19" textLength="16.25" lengthAdjust="spacingAndGlyphs">×10</text>
<text x="244.09" y="720.67" font-size="5.71" fill="#1a1a1a" stroke="#1a1a1a" stroke-width="0.13" textLength="7.95" lengthAdjust="spacingAndGlyphs">−2</text>
<rect x="324.56" y="805.14" width="22" height="0.26" fill="#228b22"/>
<rect x="368.56" y="755.92" width="22" height="49.48" fill="#90ee90"/>
<circle cx="329.2" cy="804.56" r="1.45" fill="#228b22" stroke="#fff" stroke-width="0.5"/>
<circle cx="334.29" cy="805.19" r="1.45" fill="#228b22" stroke="#fff" stroke-width="0.5"/>
<circle cx="337.38" cy="805.31" r="1.45" fill="#228b22" stroke="#fff" stroke-width="0.5"/>
<circle cx="328.67" cy="805.37" r="1.45" fill="#228b22" stroke="#fff" stroke-width="0.5"/>
<circle cx="334.65" cy="805.32" r="1.45" fill="#228b22" stroke="#fff" stroke-width="0.5"/>
<circle cx="332.69" cy="804.63" r="1.45" fill="#228b22" stroke="#fff" stroke-width="0.5"/>
<circle cx="328.27" cy="804.61" r="1.45" fill="#228b22" stroke="#fff" stroke-width="0.5"/>
<circle cx="339.05" cy="805.27" r="1.45" fill="#228b22" stroke="#fff" stroke-width="0.5"/>
<circle cx="333.63" cy="804.56" r="1.45" fill="#228b22" stroke="#fff" stroke-width="0.5"/>
<circle cx="339.51" cy="805.04" r="1.45" fill="#228b22" stroke="#fff" stroke-width="0.5"/>
<circle cx="342.84" cy="805.36" r="1.45" fill="#228b22" stroke="#fff" stroke-width="0.5"/>
<circle cx="333.44" cy="804.7" r="1.45" fill="#228b22" stroke="#fff" stroke-width="0.5"/>
<circle cx="328.12" cy="805.23" r="1.45" fill="#228b22" stroke="#fff" stroke-width="0.5"/>
<circle cx="328.47" cy="804.64" r="1.45" fill="#228b22" stroke="#fff" stroke-width="0.5"/>
<circle cx="337.17" cy="805.02" r="1.45" fill="#228b22" stroke="#fff" stroke-width="0.5"/>
<circle cx="334" cy="804.64" r="1.45" fill="#228b22" stroke="#fff" stroke-width="0.5"/>
<circle cx="336.68" cy="805.23" r="1.45" fill="#228b22" stroke="#fff" stroke-width="0.5"/>
<circle cx="336.13" cy="804.57" r="1.45" fill="#228b22" stroke="#fff" stroke-width="0.5"/>
<circle cx="334.47" cy="804.79" r="1.45" fill="#228b22" stroke="#fff" stroke-width="0.5"/>
<circle cx="329.02" cy="805.21" r="1.45" fill="#228b22" stroke="#fff" stroke-width="0.5"/>
<circle cx="342.82" cy="804.88" r="1.45" fill="#228b22" stroke="#fff" stroke-width="0.5"/>
<circle cx="330.2" cy="804.98" r="1.45" fill="#228b22" stroke="#fff" stroke-width="0.5"/>
<circle cx="332.78" cy="805.14" r="1.45" fill="#228b22" stroke="#fff" stroke-width="0.5"/>
<circle cx="336.85" cy="804.81" r="1.45" fill="#228b22" stroke="#fff" stroke-width="0.5"/>
<circle cx="340.15" cy="805.09" r="1.45" fill="#228b22" stroke="#fff" stroke-width="0.5"/>
<circle cx="337.79" cy="805.34" r="1.45" fill="#228b22" stroke="#fff" stroke-width="0.5"/>
<circle cx="338.16" cy="805.28" r="1.45" fill="#228b22" stroke="#fff" stroke-width="0.5"/>
<circle cx="332.43" cy="804.82" r="1.45" fill="#228b22" stroke="#fff" stroke-width="0.5"/>
<circle cx="336.13" cy="805.08" r="1.45" fill="#228b22" stroke="#fff" stroke-width="0.5"/>
<circle cx="328.33" cy="804.96" r="1.45" fill="#228b22" stroke="#fff" stroke-width="0.5"/>
<circle cx="339.85" cy="804.74" r="1.45" fill="#228b22" stroke="#fff" stroke-width="0.5"/>
<circle cx="328.95" cy="805.2" r="1.45" fill="#228b22" stroke="#fff" stroke-width="0.5"/>
<circle cx="330.35" cy="804.69" r="1.45" fill="#228b22" stroke="#fff" stroke-width="0.5"/>
<circle cx="342.41" cy="804.57" r="1.45" fill="#228b22" stroke="#fff" stroke-width="0.5"/>
<circle cx="337.98" cy="804.69" r="1.45" fill="#228b22" stroke="#fff" stroke-width="0.5"/>
<circle cx="340.6" cy="804.86" r="1.45" fill="#228b22" stroke="#fff" stroke-width="0.5"/>
<circle cx="337.04" cy="805.09" r="1.45" fill="#228b22" stroke="#fff" stroke-width="0.5"/>
<circle cx="342.45" cy="804.68" r="1.45" fill="#228b22" stroke="#fff" stroke-width="0.5"/>
<circle cx="331.06" cy="805.32" r="1.45" fill="#228b22" stroke="#fff" stroke-width="0.5"/>
<circle cx="341.5" cy="805.15" r="1.45" fill="#228b22" stroke="#fff" stroke-width="0.5"/>
<circle cx="339.21" cy="804.59" r="1.45" fill="#228b22" stroke="#fff" stroke-width="0.5"/>
<circle cx="340.57" cy="804.8" r="1.45" fill="#228b22" stroke="#fff" stroke-width="0.5"/>
<circle cx="340.53" cy="804.59" r="1.45" fill="#228b22" stroke="#fff" stroke-width="0.5"/>
<circle cx="332.71" cy="805.19" r="1.45" fill="#228b22" stroke="#fff" stroke-width="0.5"/>
<circle cx="328.51" cy="805.12" r="1.45" fill="#228b22" stroke="#fff" stroke-width="0.5"/>
<circle cx="379.16" cy="740.39" r="1.45" fill="#90ee90" stroke="#fff" stroke-width="0.5"/>
<circle cx="374.46" cy="745.07" r="1.45" fill="#90ee90" stroke="#fff" stroke-width="0.5"/>
<circle cx="384.27" cy="746.12" r="1.45" fill="#90ee90" stroke="#fff" stroke-width="0.5"/>
<circle cx="370.98" cy="747.07" r="1.45" fill="#90ee90" stroke="#fff" stroke-width="0.5"/>
<circle cx="381.85" cy="749.76" r="1.45" fill="#90ee90" stroke="#fff" stroke-width="0.5"/>
<circle cx="377.05" cy="749.76" r="1.45" fill="#90ee90" stroke="#fff" stroke-width="0.5"/>
<circle cx="386.64" cy="753.23" r="1.45" fill="#90ee90" stroke="#fff" stroke-width="0.5"/>
<circle cx="372.96" cy="752.63" r="1.45" fill="#90ee90" stroke="#fff" stroke-width="0.5"/>
<circle cx="376.88" cy="773.28" r="1.45" fill="#90ee90" stroke="#fff" stroke-width="0.5"/>
<circle cx="375.16" cy="767.64" r="1.45" fill="#90ee90" stroke="#fff" stroke-width="0.5"/>
<circle cx="384.84" cy="754.19" r="1.45" fill="#90ee90" stroke="#fff" stroke-width="0.5"/>
<circle cx="383.18" cy="761.16" r="1.45" fill="#90ee90" stroke="#fff" stroke-width="0.5"/>
<circle cx="385.67" cy="760.3" r="1.45" fill="#90ee90" stroke="#fff" stroke-width="0.5"/>
<circle cx="378.54" cy="757.38" r="1.45" fill="#90ee90" stroke="#fff" stroke-width="0.5"/>
<circle cx="377.01" cy="764.25" r="1.45" fill="#90ee90" stroke="#fff" stroke-width="0.5"/>
<circle cx="380.36" cy="758.2" r="1.45" fill="#90ee90" stroke="#fff" stroke-width="0.5"/>
<circle cx="372.71" cy="765.24" r="1.45" fill="#90ee90" stroke="#fff" stroke-width="0.5"/>
<circle cx="377.2" cy="760.03" r="1.45" fill="#90ee90" stroke="#fff" stroke-width="0.5"/>
<circle cx="375" cy="760.84" r="1.45" fill="#90ee90" stroke="#fff" stroke-width="0.5"/>
<circle cx="378.42" cy="760.88" r="1.45" fill="#90ee90" stroke="#fff" stroke-width="0.5"/>
<circle cx="382.57" cy="757.74" r="1.45" fill="#90ee90" stroke="#fff" stroke-width="0.5"/>
<circle cx="380.9" cy="760.17" r="1.45" fill="#90ee90" stroke="#fff" stroke-width="0.5"/>
<circle cx="377.26" cy="765.05" r="1.45" fill="#90ee90" stroke="#fff" stroke-width="0.5"/>
<circle cx="386.13" cy="758.51" r="1.45" fill="#90ee90" stroke="#fff" stroke-width="0.5"/>
<circle cx="382.45" cy="761.93" r="1.45" fill="#90ee90" stroke="#fff" stroke-width="0.5"/>
<circle cx="377.82" cy="758.62" r="1.45" fill="#90ee90" stroke="#fff" stroke-width="0.5"/>
<circle cx="378.32" cy="765.9" r="1.45" fill="#90ee90" stroke="#fff" stroke-width="0.5"/>
<circle cx="386.11" cy="757.65" r="1.45" fill="#90ee90" stroke="#fff" stroke-width="0.5"/>
<circle cx="383.5" cy="758.53" r="1.45" fill="#90ee90" stroke="#fff" stroke-width="0.5"/>
<circle cx="382.72" cy="760.8" r="1.45" fill="#90ee90" stroke="#fff" stroke-width="0.5"/>
<circle cx="375.97" cy="756.25" r="1.45" fill="#90ee90" stroke="#fff" stroke-width="0.5"/>
<circle cx="375.71" cy="761.57" r="1.45" fill="#90ee90" stroke="#fff" stroke-width="0.5"/>
<circle cx="380.4" cy="762.38" r="1.45" fill="#90ee90" stroke="#fff" stroke-width="0.5"/>
<circle cx="381.59" cy="766.2" r="1.45" fill="#90ee90" stroke="#fff" stroke-width="0.5"/>
<circle cx="379.93" cy="757.41" r="1.45" fill="#90ee90" stroke="#fff" stroke-width="0.5"/>
<circle cx="380.65" cy="757.95" r="1.45" fill="#90ee90" stroke="#fff" stroke-width="0.5"/>
<circle cx="375.23" cy="757.23" r="1.45" fill="#90ee90" stroke="#fff" stroke-width="0.5"/>
<circle cx="382.17" cy="765.61" r="1.45" fill="#90ee90" stroke="#fff" stroke-width="0.5"/>
<circle cx="376.25" cy="756.35" r="1.45" fill="#90ee90" stroke="#fff" stroke-width="0.5"/>
<circle cx="377.28" cy="760.24" r="1.45" fill="#90ee90" stroke="#fff" stroke-width="0.5"/>
<circle cx="378.47" cy="758.51" r="1.45" fill="#90ee90" stroke="#fff" stroke-width="0.5"/>
<circle cx="385.11" cy="763.71" r="1.45" fill="#90ee90" stroke="#fff" stroke-width="0.5"/>
<circle cx="378.38" cy="758.59" r="1.45" fill="#90ee90" stroke="#fff" stroke-width="0.5"/>
<circle cx="375.15" cy="764.44" r="1.45" fill="#90ee90" stroke="#fff" stroke-width="0.5"/>
<circle cx="382.29" cy="761.98" r="1.45" fill="#90ee90" stroke="#fff" stroke-width="0.5"/>
<circle cx="379.4" cy="758.79" r="1.45" fill="#90ee90" stroke="#fff" stroke-width="0.5"/>
<circle cx="377.56" cy="756.33" r="1.45" fill="#90ee90" stroke="#fff" stroke-width="0.5"/>
<line x1="335.56" y1="805.05" x2="335.56" y2="805.23" stroke="#000" stroke-width="1.3"/>
<line x1="333.96" y1="805.05" x2="337.16" y2="805.05" stroke="#000" stroke-width="1"/>
<line x1="333.96" y1="805.23" x2="337.16" y2="805.23" stroke="#000" stroke-width="1"/>
<line x1="379.56" y1="754.88" x2="379.56" y2="756.97" stroke="#000" stroke-width="1.3"/>
<line x1="377.96" y1="754.88" x2="381.16" y2="754.88" stroke="#000" stroke-width="1"/>
<line x1="377.96" y1="756.97" x2="381.16" y2="756.97" stroke="#000" stroke-width="1"/>
<line x1="321.26" y1="725.7" x2="321.26" y2="805.8" stroke="#3a3a3a" stroke-width="0.85"/>
<line x1="320.86" y1="805.4" x2="393.86" y2="805.4" stroke="#3a3a3a" stroke-width="0.85"/>
<line x1="317.96" y1="805.4" x2="321.26" y2="805.4" stroke="#3a3a3a" stroke-width="0.8"/>
<text x="315.66" y="808.2" font-size="8.16" text-anchor="end" fill="#1a1a1a" stroke="#1a1a1a" stroke-width="0.19" textLength="4.9" lengthAdjust="spacingAndGlyphs">0</text>
<line x1="317.96" y1="788.04" x2="321.26" y2="788.04" stroke="#3a3a3a" stroke-width="0.8"/>
<text x="315.66" y="790.84" font-size="8.16" text-anchor="end" fill="#1a1a1a" stroke="#1a1a1a" stroke-width="0.19" textLength="4.9" lengthAdjust="spacingAndGlyphs">2</text>
<line x1="317.96" y1="770.68" x2="321.26" y2="770.68" stroke="#3a3a3a" stroke-width="0.8"/>
<text x="315.66" y="773.48" font-size="8.16" text-anchor="end" fill="#1a1a1a" stroke="#1a1a1a" stroke-width="0.19" textLength="4.9" lengthAdjust="spacingAndGlyphs">4</text>
<line x1="317.96" y1="753.32" x2="321.26" y2="753.32" stroke="#3a3a3a" stroke-width="0.8"/>
<text x="315.66" y="756.12" font-size="8.16" text-anchor="end" fill="#1a1a1a" stroke="#1a1a1a" stroke-width="0.19" textLength="4.9" lengthAdjust="spacingAndGlyphs">6</text>
<line x1="317.96" y1="735.96" x2="321.26" y2="735.96" stroke="#3a3a3a" stroke-width="0.8"/>
<text x="315.66" y="738.76" font-size="8.16" text-anchor="end" fill="#1a1a1a" stroke="#1a1a1a" stroke-width="0.19" textLength="4.9" lengthAdjust="spacingAndGlyphs">8</text>
<line x1="335.56" y1="805.4" x2="335.56" y2="808.7" stroke="#3a3a3a" stroke-width="0.8"/>
<text x="325.67" y="837.92" font-size="8.16" fill="#1a1a1a" stroke="#1a1a1a" stroke-width="0.19" textLength="32.21" lengthAdjust="spacingAndGlyphs" transform="rotate(-45 325.67 837.92)">hcDRQN</text>
<line x1="379.56" y1="805.4" x2="379.56" y2="808.7" stroke="#3a3a3a" stroke-width="0.8"/>
<text x="371.57" y="834.13" font-size="8.16" fill="#1a1a1a" stroke="#1a1a1a" stroke-width="0.19" textLength="26.86" lengthAdjust="spacingAndGlyphs" transform="rotate(-45 371.57 834.13)">hcDQN</text>
<text x="357.56" y="708.3" font-size="9.54" text-anchor="middle" fill="#1a1a1a" stroke="#1a1a1a" stroke-width="0.23" textLength="67.47" lengthAdjust="spacingAndGlyphs">Allo N vs Ego S</text>
<line x1="335.56" y1="735.4" x2="379.56" y2="735.4" stroke="#555555" stroke-width="0.9"/>
<line x1="335.56" y1="735" x2="335.56" y2="736.8" stroke="#333" stroke-width="0.8"/>
<line x1="379.56" y1="735" x2="379.56" y2="736.8" stroke="#333" stroke-width="0.8"/>
<text x="357.56" y="735.03" font-size="10.78" text-anchor="middle" textLength="16.6" lengthAdjust="spacingAndGlyphs" fill="#1a1a1a" stroke="#1a1a1a" stroke-width="0.25">****</text>
<text x="321.86" y="723.9" font-size="8.16" fill="#1a1a1a" stroke="#1a1a1a" stroke-width="0.19" textLength="16.25" lengthAdjust="spacingAndGlyphs">×10</text>
<text x="338.11" y="720.67" font-size="5.71" fill="#1a1a1a" stroke="#1a1a1a" stroke-width="0.13" textLength="7.95" lengthAdjust="spacingAndGlyphs">−2</text>
<rect x="418.58" y="795.81" width="22" height="9.59" fill="#228b22"/>
<rect x="462.58" y="754.29" width="22" height="51.11" fill="#90ee90"/>
<circle cx="425.18" cy="795.24" r="1.45" fill="#228b22" stroke="#fff" stroke-width="0.5"/>
<circle cx="429.58" cy="795.37" r="1.45" fill="#228b22" stroke="#fff" stroke-width="0.5"/>
<circle cx="433.98" cy="795.24" r="1.45" fill="#228b22" stroke="#fff" stroke-width="0.5"/>
<circle cx="436.18" cy="795.37" r="1.45" fill="#228b22" stroke="#fff" stroke-width="0.5"/>
<circle cx="422.98" cy="795.32" r="1.45" fill="#228b22" stroke="#fff" stroke-width="0.5"/>
<circle cx="432.34" cy="797.03" r="1.45" fill="#228b22" stroke="#fff" stroke-width="0.5"/>
<circle cx="431.15" cy="795.93" r="1.45" fill="#228b22" stroke="#fff" stroke-width="0.5"/>
<circle cx="433.89" cy="796.93" r="1.45" fill="#228b22" stroke="#fff" stroke-width="0.5"/>
<circle cx="434.5" cy="796.05" r="1.45" fill="#228b22" stroke="#fff" stroke-width="0.5"/>
<circle cx="426.91" cy="796.63" r="1.45" fill="#228b22" stroke="#fff" stroke-width="0.5"/>
<circle cx="428.27" cy="796.66" r="1.45" fill="#228b22" stroke="#fff" stroke-width="0.5"/>
<circle cx="424.3" cy="796.82" r="1.45" fill="#228b22" stroke="#fff" stroke-width="0.5"/>
<circle cx="432.48" cy="796.17" r="1.45" fill="#228b22" stroke="#fff" stroke-width="0.5"/>
<circle cx="432.95" cy="797.19" r="1.45" fill="#228b22" stroke="#fff" stroke-width="0.5"/>
<circle cx="427.89" cy="797.17" r="1.45" fill="#228b22" stroke="#fff" stroke-width="0.5"/>
<circle cx="435.16" cy="796.73" r="1.45" fill="#228b22" stroke="#fff" stroke-width="0.5"/>
<circle cx="422.71" cy="797.23" r="1.45" fill="#228b22" stroke="#fff" stroke-width="0.5"/>
<circle cx="425.83" cy="797.05" r="1.45" fill="#228b22" stroke="#fff" stroke-width="0.5"/>
<circle cx="429.26" cy="796.61" r="1.45" fill="#228b22" stroke="#fff" stroke-width="0.5"/>
<circle cx="431.58" cy="796.82" r="1.45" fill="#228b22" stroke="#fff" stroke-width="0.5"/>
<circle cx="422.6" cy="797.09" r="1.45" fill="#228b22" stroke="#fff" stroke-width="0.5"/>
<circle cx="428.03" cy="795.91" r="1.45" fill="#228b22" stroke="#fff" stroke-width="0.5"/>
<circle cx="424.41" cy="796.33" r="1.45" fill="#228b22" stroke="#fff" stroke-width="0.5"/>
<circle cx="429.13" cy="797" r="1.45" fill="#228b22" stroke="#fff" stroke-width="0.5"/>
<circle cx="434.24" cy="797.1" r="1.45" fill="#228b22" stroke="#fff" stroke-width="0.5"/>
<circle cx="426.19" cy="796.65" r="1.45" fill="#228b22" stroke="#fff" stroke-width="0.5"/>
<circle cx="432.07" cy="796.75" r="1.45" fill="#228b22" stroke="#fff" stroke-width="0.5"/>
<circle cx="434.06" cy="797.19" r="1.45" fill="#228b22" stroke="#fff" stroke-width="0.5"/>
<circle cx="433.95" cy="797.08" r="1.45" fill="#228b22" stroke="#fff" stroke-width="0.5"/>
<circle cx="432.42" cy="796.97" r="1.45" fill="#228b22" stroke="#fff" stroke-width="0.5"/>
<circle cx="435.26" cy="796.1" r="1.45" fill="#228b22" stroke="#fff" stroke-width="0.5"/>
<circle cx="427.79" cy="796.71" r="1.45" fill="#228b22" stroke="#fff" stroke-width="0.5"/>
<circle cx="428.76" cy="797.1" r="1.45" fill="#228b22" stroke="#fff" stroke-width="0.5"/>
<circle cx="429.62" cy="796.08" r="1.45" fill="#228b22" stroke="#fff" stroke-width="0.5"/>
<circle cx="430.88" cy="796.38" r="1.45" fill="#228b22" stroke="#fff" stroke-width="0.5"/>
<circle cx="430.32" cy="797.09" r="1.45" fill="#228b22" stroke="#fff" stroke-width="0.5"/>
<circle cx="435.99" cy="796.53" r="1.45" fill="#228b22" stroke="#fff" stroke-width="0.5"/>
<circle cx="435.57" cy="796.27" r="1.45" fill="#228b22" stroke="#fff" stroke-width="0.5"/>
<circle cx="436.24" cy="796.16" r="1.45" fill="#228b22" stroke="#fff" stroke-width="0.5"/>
<circle cx="433.44" cy="796.86" r="1.45" fill="#228b22" stroke="#fff" stroke-width="0.5"/>
<circle cx="430.76" cy="796.24" r="1.45" fill="#228b22" stroke="#fff" stroke-width="0.5"/>
<circle cx="423.91" cy="796.9" r="1.45" fill="#228b22" stroke="#fff" stroke-width="0.5"/>
<circle cx="433.78" cy="796.07" r="1.45" fill="#228b22" stroke="#fff" stroke-width="0.5"/>
<circle cx="433.76" cy="796.85" r="1.45" fill="#228b22" stroke="#fff" stroke-width="0.5"/>
<circle cx="432.57" cy="796.29" r="1.45" fill="#228b22" stroke="#fff" stroke-width="0.5"/>
<circle cx="465.97" cy="740.36" r="1.45" fill="#90ee90" stroke="#fff" stroke-width="0.5"/>
<circle cx="470.06" cy="741.71" r="1.45" fill="#90ee90" stroke="#fff" stroke-width="0.5"/>
<circle cx="480.27" cy="743.88" r="1.45" fill="#90ee90" stroke="#fff" stroke-width="0.5"/>
<circle cx="475.56" cy="744.97" r="1.45" fill="#90ee90" stroke="#fff" stroke-width="0.5"/>
<circle cx="465.4" cy="746.05" r="1.45" fill="#90ee90" stroke="#fff" stroke-width="0.5"/>
<circle cx="472.48" cy="747.68" r="1.45" fill="#90ee90" stroke="#fff" stroke-width="0.5"/>
<circle cx="468.48" cy="749.57" r="1.45" fill="#90ee90" stroke="#fff" stroke-width="0.5"/>
<circle cx="479.08" cy="751.47" r="1.45" fill="#90ee90" stroke="#fff" stroke-width="0.5"/>
<circle cx="465.79" cy="752.83" r="1.45" fill="#90ee90" stroke="#fff" stroke-width="0.5"/>
<circle cx="473.58" cy="765.56" r="1.45" fill="#90ee90" stroke="#fff" stroke-width="0.5"/>
<circle cx="468.3" cy="762.31" r="1.45" fill="#90ee90" stroke="#fff" stroke-width="0.5"/>
<circle cx="479.71" cy="758.48" r="1.45" fill="#90ee90" stroke="#fff" stroke-width="0.5"/>
<circle cx="468.14" cy="761.42" r="1.45" fill="#90ee90" stroke="#fff" stroke-width="0.5"/>
<circle cx="476.18" cy="756.5" r="1.45" fill="#90ee90" stroke="#fff" stroke-width="0.5"/>
<circle cx="472.24" cy="758.94" r="1.45" fill="#90ee90" stroke="#fff" stroke-width="0.5"/>
<circle cx="467.19" cy="759.9" r="1.45" fill="#90ee90" stroke="#fff" stroke-width="0.5"/>
<circle cx="477.78" cy="761.29" r="1.45" fill="#90ee90" stroke="#fff" stroke-width="0.5"/>
<circle cx="466.57" cy="754.41" r="1.45" fill="#90ee90" stroke="#fff" stroke-width="0.5"/>
<circle cx="466.48" cy="756.08" r="1.45" fill="#90ee90" stroke="#fff" stroke-width="0.5"/>
<circle cx="467.91" cy="756.93" r="1.45" fill="#90ee90" stroke="#fff" stroke-width="0.5"/>
<circle cx="478.46" cy="754.82" r="1.45" fill="#90ee90" stroke="#fff" stroke-width="0.5"/>
<circle cx="469.52" cy="755.86" r="1.45" fill="#90ee90" stroke="#fff" stroke-width="0.5"/>
<circle cx="473.93" cy="756.05" r="1.45" fill="#90ee90" stroke="#fff" stroke-width="0.5"/>
<circle cx="478.08" cy="754.58" r="1.45" fill="#90ee90" stroke="#fff" stroke-width="0.5"/>
<circle cx="475.4" cy="761.1" r="1.45" fill="#90ee90" stroke="#fff" stroke-width="0.5"/>
<circle cx="478.66" cy="757.06" r="1.45" fill="#90ee90" stroke="#fff" stroke-width="0.5"/>
<circle cx="475.96" cy="758.98" r="1.45" fill="#90ee90" stroke="#fff" stroke-width="0.5"/>
<circle cx="468.35" cy="757.98" r="1.45" fill="#90ee90" stroke="#fff" stroke-width="0.5"/>
<circle cx="474.27" cy="761.43" r="1.45" fill="#90ee90" stroke="#fff" stroke-width="0.5"/>
<circle cx="467.61" cy="755.08" r="1.45" fill="#90ee90" stroke="#fff" stroke-width="0.5"/>
<circle cx="471.45" cy="760.63" r="1.45" fill="#90ee90" stroke="#fff" stroke-width="0.5"/>
<circle cx="467.84" cy="755.54" r="1.45" fill="#90ee90" stroke="#fff" stroke-width="0.5"/>
<circle cx="466.97" cy="760.36" r="1.45" fill="#90ee90" stroke="#fff" stroke-width="0.5"/>
<circle cx="478.87" cy="756.23" r="1.45" fill="#90ee90" stroke="#fff" stroke-width="0.5"/>
<circle cx="466.9" cy="758.74" r="1.45" fill="#90ee90" stroke="#fff" stroke-width="0.5"/>
<circle cx="468.01" cy="759.95" r="1.45" fill="#90ee90" stroke="#fff" stroke-width="0.5"/>
<circle cx="477.17" cy="759.58" r="1.45" fill="#90ee90" stroke="#fff" stroke-width="0.5"/>
<circle cx="479.27" cy="754.55" r="1.45" fill="#90ee90" stroke="#fff" stroke-width="0.5"/>
<circle cx="476.32" cy="760.56" r="1.45" fill="#90ee90" stroke="#fff" stroke-width="0.5"/>
<circle cx="473.87" cy="761.85" r="1.45" fill="#90ee90" stroke="#fff" stroke-width="0.5"/>
<circle cx="474.19" cy="760.2" r="1.45" fill="#90ee90" stroke="#fff" stroke-width="0.5"/>
<circle cx="472.41" cy="761.47" r="1.45" fill="#90ee90" stroke="#fff" stroke-width="0.5"/>
<circle cx="467.27" cy="755.3" r="1.45" fill="#90ee90" stroke="#fff" stroke-width="0.5"/>
<circle cx="475.11" cy="756.38" r="1.45" fill="#90ee90" stroke="#fff" stroke-width="0.5"/>
<circle cx="466.55" cy="757.65" r="1.45" fill="#90ee90" stroke="#fff" stroke-width="0.5"/>
<circle cx="473.67" cy="761.03" r="1.45" fill="#90ee90" stroke="#fff" stroke-width="0.5"/>
<circle cx="473.15" cy="758.56" r="1.45" fill="#90ee90" stroke="#fff" stroke-width="0.5"/>
<line x1="429.58" y1="795.67" x2="429.58" y2="795.94" stroke="#000" stroke-width="1.3"/>
<line x1="427.98" y1="795.67" x2="431.18" y2="795.67" stroke="#000" stroke-width="1"/>
<line x1="427.98" y1="795.94" x2="431.18" y2="795.94" stroke="#000" stroke-width="1"/>
<line x1="473.58" y1="753.48" x2="473.58" y2="755.1" stroke="#000" stroke-width="1.3"/>
<line x1="471.98" y1="753.48" x2="475.18" y2="753.48" stroke="#000" stroke-width="1"/>
<line x1="471.98" y1="755.1" x2="475.18" y2="755.1" stroke="#000" stroke-width="1"/>
<line x1="415.28" y1="725.7" x2="415.28" y2="805.8" stroke="#3a3a3a" stroke-width="0.85"/>
<line x1="414.88" y1="805.4" x2="487.88" y2="805.4" stroke="#3a3a3a" stroke-width="0.85"/>
<line x1="411.98" y1="805.4" x2="415.28" y2="805.4" stroke="#3a3a3a" stroke-width="0.8"/>
<text x="409.68" y="808.2" font-size="8.16" text-anchor="end" fill="#1a1a1a" stroke="#1a1a1a" stroke-width="0.19" textLength="4.9" lengthAdjust="spacingAndGlyphs">0</text>
<line x1="411.98" y1="778.3" x2="415.28" y2="778.3" stroke="#3a3a3a" stroke-width="0.8"/>
<text x="409.68" y="781.1" font-size="8.16" text-anchor="end" fill="#1a1a1a" stroke="#1a1a1a" stroke-width="0.19" textLength="4.9" lengthAdjust="spacingAndGlyphs">1</text>
<line x1="411.98" y1="751.2" x2="415.28" y2="751.2" stroke="#3a3a3a" stroke-width="0.8"/>
<text x="409.68" y="754" font-size="8.16" text-anchor="end" fill="#1a1a1a" stroke="#1a1a1a" stroke-width="0.19" textLength="4.9" lengthAdjust="spacingAndGlyphs">2</text>
<line x1="429.58" y1="805.4" x2="429.58" y2="808.7" stroke="#3a3a3a" stroke-width="0.8"/>
<text x="419.69" y="837.92" font-size="8.16" fill="#1a1a1a" stroke="#1a1a1a" stroke-width="0.19" textLength="32.21" lengthAdjust="spacingAndGlyphs" transform="rotate(-45 419.69 837.92)">hcDRQN</text>
<line x1="473.58" y1="805.4" x2="473.58" y2="808.7" stroke="#3a3a3a" stroke-width="0.8"/>
<text x="465.59" y="834.13" font-size="8.16" fill="#1a1a1a" stroke="#1a1a1a" stroke-width="0.19" textLength="26.86" lengthAdjust="spacingAndGlyphs" transform="rotate(-45 465.59 834.13)">hcDQN</text>
<text x="451.58" y="708.3" font-size="9.54" text-anchor="middle" fill="#1a1a1a" stroke="#1a1a1a" stroke-width="0.23" textLength="67.47" lengthAdjust="spacingAndGlyphs">Allo S vs Ego N</text>
<line x1="429.58" y1="735.4" x2="473.58" y2="735.4" stroke="#555555" stroke-width="0.9"/>
<line x1="429.58" y1="735" x2="429.58" y2="736.8" stroke="#333" stroke-width="0.8"/>
<line x1="473.58" y1="735" x2="473.58" y2="736.8" stroke="#333" stroke-width="0.8"/>
<text x="451.58" y="735.03" font-size="10.78" text-anchor="middle" textLength="16.6" lengthAdjust="spacingAndGlyphs" fill="#1a1a1a" stroke="#1a1a1a" stroke-width="0.25">****</text>
<text x="415.88" y="723.9" font-size="8.16" fill="#1a1a1a" stroke="#1a1a1a" stroke-width="0.19" textLength="16.25" lengthAdjust="spacingAndGlyphs">×10</text>
<text x="432.13" y="720.67" font-size="5.71" fill="#1a1a1a" stroke="#1a1a1a" stroke-width="0.13" textLength="7.95" lengthAdjust="spacingAndGlyphs">−4</text>
<rect x="512.6" y="804.34" width="22" height="1.06" fill="#228b22"/>
<rect x="556.6" y="750.6" width="22" height="54.8" fill="#90ee90"/>
<circle cx="518.32" cy="803.8" r="1.45" fill="#228b22" stroke="#fff" stroke-width="0.5"/>
<circle cx="523.6" cy="803.67" r="1.45" fill="#228b22" stroke="#fff" stroke-width="0.5"/>
<circle cx="528.88" cy="803.8" r="1.45" fill="#228b22" stroke="#fff" stroke-width="0.5"/>
<circle cx="531.52" cy="804.07" r="1.45" fill="#228b22" stroke="#fff" stroke-width="0.5"/>
<circle cx="515.68" cy="804.07" r="1.45" fill="#228b22" stroke="#fff" stroke-width="0.5"/>
<circle cx="520.96" cy="805.12" r="1.45" fill="#228b22" stroke="#fff" stroke-width="0.5"/>
<circle cx="530.82" cy="804.1" r="1.45" fill="#228b22" stroke="#fff" stroke-width="0.5"/>
<circle cx="520.06" cy="805.08" r="1.45" fill="#228b22" stroke="#fff" stroke-width="0.5"/>
<circle cx="519.02" cy="804.4" r="1.45" fill="#228b22" stroke="#fff" stroke-width="0.5"/>
<circle cx="521.59" cy="804.59" r="1.45" fill="#228b22" stroke="#fff" stroke-width="0.5"/>
<circle cx="521.35" cy="804.76" r="1.45" fill="#228b22" stroke="#fff" stroke-width="0.5"/>
<circle cx="516.57" cy="804.93" r="1.45" fill="#228b22" stroke="#fff" stroke-width="0.5"/>
<circle cx="518.35" cy="804.87" r="1.45" fill="#228b22" stroke="#fff" stroke-width="0.5"/>
<circle cx="530.27" cy="804.69" r="1.45" fill="#228b22" stroke="#fff" stroke-width="0.5"/>
<circle cx="519.86" cy="804.87" r="1.45" fill="#228b22" stroke="#fff" stroke-width="0.5"/>
<circle cx="527.14" cy="804.82" r="1.45" fill="#228b22" stroke="#fff" stroke-width="0.5"/>
<circle cx="516.38" cy="804.72" r="1.45" fill="#228b22" stroke="#fff" stroke-width="0.5"/>
<circle cx="517.16" cy="804.82" r="1.45" fill="#228b22" stroke="#fff" stroke-width="0.5"/>
<circle cx="522.34" cy="804.53" r="1.45" fill="#228b22" stroke="#fff" stroke-width="0.5"/>
<circle cx="528.83" cy="805.03" r="1.45" fill="#228b22" stroke="#fff" stroke-width="0.5"/>
<circle cx="520.66" cy="804.52" r="1.45" fill="#228b22" stroke="#fff" stroke-width="0.5"/>
<circle cx="523.24" cy="805.03" r="1.45" fill="#228b22" stroke="#fff" stroke-width="0.5"/>
<circle cx="527.36" cy="804.47" r="1.45" fill="#228b22" stroke="#fff" stroke-width="0.5"/>
<circle cx="526.64" cy="805.12" r="1.45" fill="#228b22" stroke="#fff" stroke-width="0.5"/>
<circle cx="518.94" cy="804.39" r="1.45" fill="#228b22" stroke="#fff" stroke-width="0.5"/>
<circle cx="523.66" cy="804.81" r="1.45" fill="#228b22" stroke="#fff" stroke-width="0.5"/>
<circle cx="519.77" cy="804.21" r="1.45" fill="#228b22" stroke="#fff" stroke-width="0.5"/>
<circle cx="523.6" cy="805" r="1.45" fill="#228b22" stroke="#fff" stroke-width="0.5"/>
<circle cx="525.11" cy="804.47" r="1.45" fill="#228b22" stroke="#fff" stroke-width="0.5"/>
<circle cx="520.29" cy="804.21" r="1.45" fill="#228b22" stroke="#fff" stroke-width="0.5"/>
<circle cx="520.78" cy="804.79" r="1.45" fill="#228b22" stroke="#fff" stroke-width="0.5"/>
<circle cx="523.38" cy="804.83" r="1.45" fill="#228b22" stroke="#fff" stroke-width="0.5"/>
<circle cx="530.55" cy="804.65" r="1.45" fill="#228b22" stroke="#fff" stroke-width="0.5"/>
<circle cx="525.77" cy="804.42" r="1.45" fill="#228b22" stroke="#fff" stroke-width="0.5"/>
<circle cx="520.47" cy="804.68" r="1.45" fill="#228b22" stroke="#fff" stroke-width="0.5"/>
<circle cx="517.08" cy="804.5" r="1.45" fill="#228b22" stroke="#fff" stroke-width="0.5"/>
<circle cx="526.45" cy="804.67" r="1.45" fill="#228b22" stroke="#fff" stroke-width="0.5"/>
<circle cx="524.43" cy="804.63" r="1.45" fill="#228b22" stroke="#fff" stroke-width="0.5"/>
<circle cx="520.43" cy="804.56" r="1.45" fill="#228b22" stroke="#fff" stroke-width="0.5"/>
<circle cx="525.56" cy="804.35" r="1.45" fill="#228b22" stroke="#fff" stroke-width="0.5"/>
<circle cx="524.05" cy="804.23" r="1.45" fill="#228b22" stroke="#fff" stroke-width="0.5"/>
<circle cx="516.45" cy="804.79" r="1.45" fill="#228b22" stroke="#fff" stroke-width="0.5"/>
<circle cx="526.18" cy="804.09" r="1.45" fill="#228b22" stroke="#fff" stroke-width="0.5"/>
<circle cx="517.69" cy="804.63" r="1.45" fill="#228b22" stroke="#fff" stroke-width="0.5"/>
<circle cx="527.26" cy="804.96" r="1.45" fill="#228b22" stroke="#fff" stroke-width="0.5"/>
<circle cx="564.52" cy="741.56" r="1.45" fill="#90ee90" stroke="#fff" stroke-width="0.5"/>
<circle cx="561.4" cy="742.89" r="1.45" fill="#90ee90" stroke="#fff" stroke-width="0.5"/>
<circle cx="571.6" cy="742.36" r="1.45" fill="#90ee90" stroke="#fff" stroke-width="0.5"/>
<circle cx="567.6" cy="743.95" r="1.45" fill="#90ee90" stroke="#fff" stroke-width="0.5"/>
<circle cx="573.72" cy="745.02" r="1.45" fill="#90ee90" stroke="#fff" stroke-width="0.5"/>
<circle cx="559.42" cy="745.82" r="1.45" fill="#90ee90" stroke="#fff" stroke-width="0.5"/>
<circle cx="564.52" cy="747.94" r="1.45" fill="#90ee90" stroke="#fff" stroke-width="0.5"/>
<circle cx="570.2" cy="748.74" r="1.45" fill="#90ee90" stroke="#fff" stroke-width="0.5"/>
<circle cx="574.68" cy="766.83" r="1.45" fill="#90ee90" stroke="#fff" stroke-width="0.5"/>
<circle cx="561.4" cy="762.57" r="1.45" fill="#90ee90" stroke="#fff" stroke-width="0.5"/>
<circle cx="561.22" cy="750.72" r="1.45" fill="#90ee90" stroke="#fff" stroke-width="0.5"/>
<circle cx="565.27" cy="757.43" r="1.45" fill="#90ee90" stroke="#fff" stroke-width="0.5"/>
<circle cx="571.18" cy="754.98" r="1.45" fill="#90ee90" stroke="#fff" stroke-width="0.5"/>
<circle cx="574.72" cy="757.77" r="1.45" fill="#90ee90" stroke="#fff" stroke-width="0.5"/>
<circle cx="565.8" cy="753.96" r="1.45" fill="#90ee90" stroke="#fff" stroke-width="0.5"/>
<circle cx="563.44" cy="758.71" r="1.45" fill="#90ee90" stroke="#fff" stroke-width="0.5"/>
<circle cx="571.68" cy="758.05" r="1.45" fill="#90ee90" stroke="#fff" stroke-width="0.5"/>
<circle cx="560.39" cy="758.74" r="1.45" fill="#90ee90" stroke="#fff" stroke-width="0.5"/>
<circle cx="565.31" cy="752.22" r="1.45" fill="#90ee90" stroke="#fff" stroke-width="0.5"/>
<circle cx="569.62" cy="756.08" r="1.45" fill="#90ee90" stroke="#fff" stroke-width="0.5"/>
<circle cx="562.88" cy="753.96" r="1.45" fill="#90ee90" stroke="#fff" stroke-width="0.5"/>
<circle cx="568.67" cy="751.12" r="1.45" fill="#90ee90" stroke="#fff" stroke-width="0.5"/>
<circle cx="563.36" cy="756.95" r="1.45" fill="#90ee90" stroke="#fff" stroke-width="0.5"/>
<circle cx="565.77" cy="760.68" r="1.45" fill="#90ee90" stroke="#fff" stroke-width="0.5"/>
<circle cx="561.03" cy="761.06" r="1.45" fill="#90ee90" stroke="#fff" stroke-width="0.5"/>
<circle cx="570.04" cy="751.98" r="1.45" fill="#90ee90" stroke="#fff" stroke-width="0.5"/>
<circle cx="574.11" cy="752.93" r="1.45" fill="#90ee90" stroke="#fff" stroke-width="0.5"/>
<circle cx="567.59" cy="761.07" r="1.45" fill="#90ee90" stroke="#fff" stroke-width="0.5"/>
<circle cx="566.95" cy="761.2" r="1.45" fill="#90ee90" stroke="#fff" stroke-width="0.5"/>
<circle cx="564.67" cy="757.56" r="1.45" fill="#90ee90" stroke="#fff" stroke-width="0.5"/>
<circle cx="574.97" cy="752.53" r="1.45" fill="#90ee90" stroke="#fff" stroke-width="0.5"/>
<circle cx="564.11" cy="760.68" r="1.45" fill="#90ee90" stroke="#fff" stroke-width="0.5"/>
<circle cx="561.62" cy="761.44" r="1.45" fill="#90ee90" stroke="#fff" stroke-width="0.5"/>
<circle cx="569.73" cy="755.2" r="1.45" fill="#90ee90" stroke="#fff" stroke-width="0.5"/>
<circle cx="564.87" cy="754.12" r="1.45" fill="#90ee90" stroke="#fff" stroke-width="0.5"/>
<circle cx="571.34" cy="752.47" r="1.45" fill="#90ee90" stroke="#fff" stroke-width="0.5"/>
<circle cx="563.69" cy="752.68" r="1.45" fill="#90ee90" stroke="#fff" stroke-width="0.5"/>
<circle cx="571.67" cy="756.08" r="1.45" fill="#90ee90" stroke="#fff" stroke-width="0.5"/>
<circle cx="562.43" cy="757.55" r="1.45" fill="#90ee90" stroke="#fff" stroke-width="0.5"/>
<circle cx="571.66" cy="756.57" r="1.45" fill="#90ee90" stroke="#fff" stroke-width="0.5"/>
<circle cx="564.61" cy="759.63" r="1.45" fill="#90ee90" stroke="#fff" stroke-width="0.5"/>
<circle cx="564.27" cy="756.89" r="1.45" fill="#90ee90" stroke="#fff" stroke-width="0.5"/>
<circle cx="562.62" cy="757.05" r="1.45" fill="#90ee90" stroke="#fff" stroke-width="0.5"/>
<circle cx="572.33" cy="759.38" r="1.45" fill="#90ee90" stroke="#fff" stroke-width="0.5"/>
<circle cx="561.37" cy="755.35" r="1.45" fill="#90ee90" stroke="#fff" stroke-width="0.5"/>
<circle cx="565.57" cy="753.39" r="1.45" fill="#90ee90" stroke="#fff" stroke-width="0.5"/>
<line x1="523.6" y1="804.2" x2="523.6" y2="804.47" stroke="#000" stroke-width="1.3"/>
<line x1="522" y1="804.2" x2="525.2" y2="804.2" stroke="#000" stroke-width="1"/>
<line x1="522" y1="804.47" x2="525.2" y2="804.47" stroke="#000" stroke-width="1"/>
<line x1="567.6" y1="749.81" x2="567.6" y2="751.4" stroke="#000" stroke-width="1.3"/>
<line x1="566" y1="749.81" x2="569.2" y2="749.81" stroke="#000" stroke-width="1"/>
<line x1="566" y1="751.4" x2="569.2" y2="751.4" stroke="#000" stroke-width="1"/>
<line x1="509.3" y1="725.7" x2="509.3" y2="805.8" stroke="#3a3a3a" stroke-width="0.85"/>
<line x1="508.9" y1="805.4" x2="581.9" y2="805.4" stroke="#3a3a3a" stroke-width="0.85"/>
<line x1="506" y1="805.4" x2="509.3" y2="805.4" stroke="#3a3a3a" stroke-width="0.8"/>
<text x="503.7" y="808.2" font-size="8.16" text-anchor="end" fill="#1a1a1a" stroke="#1a1a1a" stroke-width="0.19" textLength="4.9" lengthAdjust="spacingAndGlyphs">0</text>
<line x1="506" y1="778.8" x2="509.3" y2="778.8" stroke="#3a3a3a" stroke-width="0.8"/>
<text x="503.7" y="781.6" font-size="8.16" text-anchor="end" fill="#1a1a1a" stroke="#1a1a1a" stroke-width="0.19" textLength="4.9" lengthAdjust="spacingAndGlyphs">1</text>
<line x1="506" y1="752.2" x2="509.3" y2="752.2" stroke="#3a3a3a" stroke-width="0.8"/>
<text x="503.7" y="755" font-size="8.16" text-anchor="end" fill="#1a1a1a" stroke="#1a1a1a" stroke-width="0.19" textLength="4.9" lengthAdjust="spacingAndGlyphs">2</text>
<line x1="506" y1="725.6" x2="509.3" y2="725.6" stroke="#3a3a3a" stroke-width="0.8"/>
<text x="503.7" y="728.4" font-size="8.16" text-anchor="end" fill="#1a1a1a" stroke="#1a1a1a" stroke-width="0.19" textLength="4.9" lengthAdjust="spacingAndGlyphs">3</text>
<line x1="523.6" y1="805.4" x2="523.6" y2="808.7" stroke="#3a3a3a" stroke-width="0.8"/>
<text x="513.71" y="837.92" font-size="8.16" fill="#1a1a1a" stroke="#1a1a1a" stroke-width="0.19" textLength="32.21" lengthAdjust="spacingAndGlyphs" transform="rotate(-45 513.71 837.92)">hcDRQN</text>
<line x1="567.6" y1="805.4" x2="567.6" y2="808.7" stroke="#3a3a3a" stroke-width="0.8"/>
<text x="559.61" y="834.13" font-size="8.16" fill="#1a1a1a" stroke="#1a1a1a" stroke-width="0.19" textLength="26.86" lengthAdjust="spacingAndGlyphs" transform="rotate(-45 559.61 834.13)">hcDQN</text>
<text x="545.6" y="708.3" font-size="9.54" text-anchor="middle" fill="#1a1a1a" stroke="#1a1a1a" stroke-width="0.23" textLength="66.45" lengthAdjust="spacingAndGlyphs">Allo S vs Ego S</text>
<line x1="523.6" y1="735.4" x2="567.6" y2="735.4" stroke="#555555" stroke-width="0.9"/>
<line x1="523.6" y1="735" x2="523.6" y2="736.8" stroke="#333" stroke-width="0.8"/>
<line x1="567.6" y1="735" x2="567.6" y2="736.8" stroke="#333" stroke-width="0.8"/>
<text x="545.6" y="735.03" font-size="10.78" text-anchor="middle" textLength="16.6" lengthAdjust="spacingAndGlyphs" fill="#1a1a1a" stroke="#1a1a1a" stroke-width="0.25">****</text>
<text x="509.9" y="723.9" font-size="8.16" fill="#1a1a1a" stroke="#1a1a1a" stroke-width="0.19" textLength="16.25" lengthAdjust="spacingAndGlyphs">×10</text>
<text x="526.15" y="720.67" font-size="5.71" fill="#1a1a1a" stroke="#1a1a1a" stroke-width="0.13" textLength="7.95" lengthAdjust="spacingAndGlyphs">−4</text>
<rect x="606.68" y="790.8" width="9.38" height="14.6" fill="#228b22"/>
<rect x="625.44" y="769.3" width="9.38" height="36.1" fill="#90ee90"/>
<rect x="644.19" y="791.5" width="9.38" height="13.9" fill="#228b22"/>
<rect x="662.94" y="787.3" width="9.38" height="18.1" fill="#90ee90"/>
<circle cx="608.37" cy="786.67" r="1.45" fill="#228b22" stroke="#fff" stroke-width="0.5"/>
<circle cx="611.41" cy="786.63" r="1.45" fill="#228b22" stroke="#fff" stroke-width="0.5"/>
<circle cx="614.62" cy="786.5" r="1.45" fill="#228b22" stroke="#fff" stroke-width="0.5"/>
<circle cx="608.33" cy="788.86" r="1.45" fill="#228b22" stroke="#fff" stroke-width="0.5"/>
<circle cx="611.45" cy="788.94" r="1.45" fill="#228b22" stroke="#fff" stroke-width="0.5"/>
<circle cx="614.21" cy="788.61" r="1.45" fill="#228b22" stroke="#fff" stroke-width="0.5"/>
<circle cx="608.22" cy="792.28" r="1.45" fill="#228b22" stroke="#fff" stroke-width="0.5"/>
<circle cx="611.05" cy="792.51" r="1.45" fill="#228b22" stroke="#fff" stroke-width="0.5"/>
<circle cx="614.22" cy="792.55" r="1.45" fill="#228b22" stroke="#fff" stroke-width="0.5"/>
<circle cx="608.72" cy="797.2" r="1.45" fill="#228b22" stroke="#fff" stroke-width="0.5"/>
<circle cx="611.58" cy="796.8" r="1.45" fill="#228b22" stroke="#fff" stroke-width="0.5"/>
<circle cx="614.28" cy="797.14" r="1.45" fill="#228b22" stroke="#fff" stroke-width="0.5"/>
<circle cx="608.17" cy="799.39" r="1.45" fill="#228b22" stroke="#fff" stroke-width="0.5"/>
<circle cx="611.18" cy="799.17" r="1.45" fill="#228b22" stroke="#fff" stroke-width="0.5"/>
<circle cx="614.41" cy="799.48" r="1.45" fill="#228b22" stroke="#fff" stroke-width="0.5"/>
<circle cx="626.86" cy="765.49" r="1.45" fill="#90ee90" stroke="#fff" stroke-width="0.5"/>
<circle cx="630.13" cy="765.78" r="1.45" fill="#90ee90" stroke="#fff" stroke-width="0.5"/>
<circle cx="633.36" cy="765.67" r="1.45" fill="#90ee90" stroke="#fff" stroke-width="0.5"/>
<circle cx="627.26" cy="766.79" r="1.45" fill="#90ee90" stroke="#fff" stroke-width="0.5"/>
<circle cx="630.43" cy="766.96" r="1.45" fill="#90ee90" stroke="#fff" stroke-width="0.5"/>
<circle cx="633.19" cy="766.76" r="1.45" fill="#90ee90" stroke="#fff" stroke-width="0.5"/>
<circle cx="626.98" cy="786.91" r="1.45" fill="#90ee90" stroke="#fff" stroke-width="0.5"/>
<circle cx="629.84" cy="786.45" r="1.45" fill="#90ee90" stroke="#fff" stroke-width="0.5"/>
<circle cx="632.99" cy="786.61" r="1.45" fill="#90ee90" stroke="#fff" stroke-width="0.5"/>
<circle cx="627.12" cy="788.99" r="1.45" fill="#90ee90" stroke="#fff" stroke-width="0.5"/>
<circle cx="629.88" cy="788.7" r="1.45" fill="#90ee90" stroke="#fff" stroke-width="0.5"/>
<circle cx="633.02" cy="788.88" r="1.45" fill="#90ee90" stroke="#fff" stroke-width="0.5"/>
<circle cx="627.15" cy="792.84" r="1.45" fill="#90ee90" stroke="#fff" stroke-width="0.5"/>
<circle cx="630.28" cy="792.76" r="1.45" fill="#90ee90" stroke="#fff" stroke-width="0.5"/>
<circle cx="633.04" cy="792.89" r="1.45" fill="#90ee90" stroke="#fff" stroke-width="0.5"/>
<circle cx="646.05" cy="787.15" r="1.45" fill="#228b22" stroke="#fff" stroke-width="0.5"/>
<circle cx="648.53" cy="786.6" r="1.45" fill="#228b22" stroke="#fff" stroke-width="0.5"/>
<circle cx="652.25" cy="786.79" r="1.45" fill="#228b22" stroke="#fff" stroke-width="0.5"/>
<circle cx="645.65" cy="789" r="1.45" fill="#228b22" stroke="#fff" stroke-width="0.5"/>
<circle cx="648.92" cy="789.14" r="1.45" fill="#228b22" stroke="#fff" stroke-width="0.5"/>
<circle cx="651.96" cy="789.03" r="1.45" fill="#228b22" stroke="#fff" stroke-width="0.5"/>
<circle cx="646.07" cy="791.36" r="1.45" fill="#228b22" stroke="#fff" stroke-width="0.5"/>
<circle cx="648.85" cy="791.73" r="1.45" fill="#228b22" stroke="#fff" stroke-width="0.5"/>
<circle cx="652.05" cy="791.56" r="1.45" fill="#228b22" stroke="#fff" stroke-width="0.5"/>
<circle cx="645.6" cy="793.86" r="1.45" fill="#228b22" stroke="#fff" stroke-width="0.5"/>
<circle cx="648.53" cy="793.79" r="1.45" fill="#228b22" stroke="#fff" stroke-width="0.5"/>
<circle cx="651.61" cy="793.6" r="1.45" fill="#228b22" stroke="#fff" stroke-width="0.5"/>
<circle cx="646.02" cy="797.22" r="1.45" fill="#228b22" stroke="#fff" stroke-width="0.5"/>
<circle cx="648.51" cy="797.02" r="1.45" fill="#228b22" stroke="#fff" stroke-width="0.5"/>
<circle cx="651.82" cy="797.08" r="1.45" fill="#228b22" stroke="#fff" stroke-width="0.5"/>
<circle cx="645.59" cy="799.77" r="1.45" fill="#228b22" stroke="#fff" stroke-width="0.5"/>
<circle cx="649.05" cy="800.03" r="1.45" fill="#228b22" stroke="#fff" stroke-width="0.5"/>
<circle cx="651.85" cy="799.72" r="1.45" fill="#228b22" stroke="#fff" stroke-width="0.5"/>
<circle cx="664.4" cy="782.67" r="1.45" fill="#90ee90" stroke="#fff" stroke-width="0.5"/>
<circle cx="667.34" cy="782.84" r="1.45" fill="#90ee90" stroke="#fff" stroke-width="0.5"/>
<circle cx="670.4" cy="782.58" r="1.45" fill="#90ee90" stroke="#fff" stroke-width="0.5"/>
<circle cx="664.83" cy="784.74" r="1.45" fill="#90ee90" stroke="#fff" stroke-width="0.5"/>
<circle cx="667.69" cy="784.61" r="1.45" fill="#90ee90" stroke="#fff" stroke-width="0.5"/>
<circle cx="670.66" cy="784.71" r="1.45" fill="#90ee90" stroke="#fff" stroke-width="0.5"/>
<circle cx="664.42" cy="786.11" r="1.45" fill="#90ee90" stroke="#fff" stroke-width="0.5"/>
<circle cx="667.71" cy="785.98" r="1.45" fill="#90ee90" stroke="#fff" stroke-width="0.5"/>
<circle cx="670.58" cy="785.7" r="1.45" fill="#90ee90" stroke="#fff" stroke-width="0.5"/>
<circle cx="664.68" cy="792.46" r="1.45" fill="#90ee90" stroke="#fff" stroke-width="0.5"/>
<circle cx="667.72" cy="792.47" r="1.45" fill="#90ee90" stroke="#fff" stroke-width="0.5"/>
<circle cx="670.95" cy="792.61" r="1.45" fill="#90ee90" stroke="#fff" stroke-width="0.5"/>
<circle cx="664.74" cy="796.13" r="1.45" fill="#90ee90" stroke="#fff" stroke-width="0.5"/>
<circle cx="667.57" cy="796.57" r="1.45" fill="#90ee90" stroke="#fff" stroke-width="0.5"/>
<circle cx="670.52" cy="796.1" r="1.45" fill="#90ee90" stroke="#fff" stroke-width="0.5"/>
<circle cx="664.54" cy="800.49" r="1.45" fill="#90ee90" stroke="#fff" stroke-width="0.5"/>
<circle cx="667.88" cy="800.8" r="1.45" fill="#90ee90" stroke="#fff" stroke-width="0.5"/>
<circle cx="670.43" cy="800.97" r="1.45" fill="#90ee90" stroke="#fff" stroke-width="0.5"/>
<line x1="611.37" y1="790.2" x2="611.37" y2="791.4" stroke="#000" stroke-width="1.3"/>
<line x1="609.77" y1="790.2" x2="612.97" y2="790.2" stroke="#000" stroke-width="1"/>
<line x1="609.77" y1="791.4" x2="612.97" y2="791.4" stroke="#000" stroke-width="1"/>
<line x1="630.12" y1="768.7" x2="630.12" y2="769.9" stroke="#000" stroke-width="1.3"/>
<line x1="628.52" y1="768.7" x2="631.72" y2="768.7" stroke="#000" stroke-width="1"/>
<line x1="628.52" y1="769.9" x2="631.72" y2="769.9" stroke="#000" stroke-width="1"/>
<line x1="648.88" y1="790.9" x2="648.88" y2="792.1" stroke="#000" stroke-width="1.3"/>
<line x1="647.28" y1="790.9" x2="650.48" y2="790.9" stroke="#000" stroke-width="1"/>
<line x1="647.28" y1="792.1" x2="650.48" y2="792.1" stroke="#000" stroke-width="1"/>
<line x1="667.63" y1="786.7" x2="667.63" y2="787.9" stroke="#000" stroke-width="1.3"/>
<line x1="666.03" y1="786.7" x2="669.23" y2="786.7" stroke="#000" stroke-width="1"/>
<line x1="666.03" y1="787.9" x2="669.23" y2="787.9" stroke="#000" stroke-width="1"/>
<line x1="603.4" y1="725.7" x2="603.4" y2="805.8" stroke="#3a3a3a" stroke-width="0.85"/>
<line x1="603" y1="805.4" x2="675.6" y2="805.4" stroke="#3a3a3a" stroke-width="0.85"/>
<line x1="600.1" y1="805.4" x2="603.4" y2="805.4" stroke="#3a3a3a" stroke-width="0.8"/>
<text x="580.26" y="808.2" font-size="8.16" fill="#1a1a1a" stroke="#1a1a1a" stroke-width="0.19" textLength="9.8" lengthAdjust="spacingAndGlyphs">10</text>
<text x="590.05" y="804.97" font-size="5.71" fill="#1a1a1a" stroke="#1a1a1a" stroke-width="0.13" textLength="7.95" lengthAdjust="spacingAndGlyphs">−6</text>
<line x1="600.1" y1="789.32" x2="603.4" y2="789.32" stroke="#3a3a3a" stroke-width="0.8"/>
<text x="580.26" y="792.12" font-size="8.16" fill="#1a1a1a" stroke="#1a1a1a" stroke-width="0.19" textLength="9.8" lengthAdjust="spacingAndGlyphs">10</text>
<text x="590.05" y="788.89" font-size="5.71" fill="#1a1a1a" stroke="#1a1a1a" stroke-width="0.13" textLength="7.95" lengthAdjust="spacingAndGlyphs">−4</text>
<line x1="600.1" y1="773.24" x2="603.4" y2="773.24" stroke="#3a3a3a" stroke-width="0.8"/>
<text x="580.26" y="776.04" font-size="8.16" fill="#1a1a1a" stroke="#1a1a1a" stroke-width="0.19" textLength="9.8" lengthAdjust="spacingAndGlyphs">10</text>
<text x="590.05" y="772.81" font-size="5.71" fill="#1a1a1a" stroke="#1a1a1a" stroke-width="0.13" textLength="7.95" lengthAdjust="spacingAndGlyphs">−2</text>
<line x1="600.1" y1="757.16" x2="603.4" y2="757.16" stroke="#3a3a3a" stroke-width="0.8"/>
<text x="584.77" y="759.96" font-size="8.16" fill="#1a1a1a" stroke="#1a1a1a" stroke-width="0.19" textLength="9.8" lengthAdjust="spacingAndGlyphs">10</text>
<text x="594.57" y="756.73" font-size="5.71" fill="#1a1a1a" stroke="#1a1a1a" stroke-width="0.13" textLength="3.43" lengthAdjust="spacingAndGlyphs">0</text>
<line x1="600.1" y1="741.08" x2="603.4" y2="741.08" stroke="#3a3a3a" stroke-width="0.8"/>
<text x="584.77" y="743.88" font-size="8.16" fill="#1a1a1a" stroke="#1a1a1a" stroke-width="0.19" textLength="9.8" lengthAdjust="spacingAndGlyphs">10</text>
<text x="594.57" y="740.65" font-size="5.71" fill="#1a1a1a" stroke="#1a1a1a" stroke-width="0.13" textLength="3.43" lengthAdjust="spacingAndGlyphs">2</text>
<line x1="611.37" y1="805.4" x2="611.37" y2="808.7" stroke="#3a3a3a" stroke-width="0.8"/>
<text x="601.48" y="837.92" font-size="8.16" fill="#1a1a1a" stroke="#1a1a1a" stroke-width="0.19" textLength="32.21" lengthAdjust="spacingAndGlyphs" transform="rotate(-45 601.48 837.92)">hcDRQN</text>
<line x1="630.12" y1="805.4" x2="630.12" y2="808.7" stroke="#3a3a3a" stroke-width="0.8"/>
<text x="622.13" y="834.13" font-size="8.16" fill="#1a1a1a" stroke="#1a1a1a" stroke-width="0.19" textLength="26.86" lengthAdjust="spacingAndGlyphs" transform="rotate(-45 622.13 834.13)">hcDQN</text>
<line x1="648.88" y1="805.4" x2="648.88" y2="808.7" stroke="#3a3a3a" stroke-width="0.8"/>
<text x="631.8" y="852.29" font-size="8.16" fill="#1a1a1a" stroke="#1a1a1a" stroke-width="0.19" textLength="52.54" lengthAdjust="spacingAndGlyphs" transform="rotate(-45 631.8 852.29)">hcDRQN (full)</text>
<line x1="667.63" y1="805.4" x2="667.63" y2="808.7" stroke="#3a3a3a" stroke-width="0.8"/>
<text x="652.45" y="848.51" font-size="8.16" fill="#1a1a1a" stroke="#1a1a1a" stroke-width="0.19" textLength="47.19" lengthAdjust="spacingAndGlyphs" transform="rotate(-45 652.45 848.51)">hcDQN (full)</text>
<text x="639.5" y="714.6" font-size="9.54" text-anchor="middle" fill="#1a1a1a" stroke="#1a1a1a" stroke-width="0.23" textLength="32.16" lengthAdjust="spacingAndGlyphs">Overall</text>
<line x1="611.37" y1="760.9" x2="630.12" y2="760.9" stroke="#999" stroke-width="0.9"/>
<line x1="611.37" y1="760.5" x2="611.37" y2="762.3" stroke="#333" stroke-width="0.8"/>
<line x1="630.12" y1="760.5" x2="630.12" y2="762.3" stroke="#333" stroke-width="0.8"/>
<text x="620.75" y="760.53" font-size="10.78" text-anchor="middle" textLength="16.6" lengthAdjust="spacingAndGlyphs" fill="#1a1a1a" stroke="#1a1a1a" stroke-width="0.25">****</text>
<line x1="611.37" y1="747.9" x2="648.88" y2="747.9" stroke="#555555" stroke-width="0.9"/>
<line x1="611.37" y1="747.5" x2="611.37" y2="749.3" stroke="#333" stroke-width="0.8"/>
<line x1="648.88" y1="747.5" x2="648.88" y2="749.3" stroke="#333" stroke-width="0.8"/>
<text x="630.12" y="746.5" font-size="9.33" text-anchor="middle" fill="#1a1a1a" stroke="#1a1a1a" stroke-width="0.22" textLength="10.16" lengthAdjust="spacingAndGlyphs">ns</text>
<line x1="611.37" y1="734.8" x2="667.63" y2="734.8" stroke="#555555" stroke-width="0.9"/>
<line x1="611.37" y1="734.4" x2="611.37" y2="736.2" stroke="#333" stroke-width="0.8"/>
<line x1="667.63" y1="734.4" x2="667.63" y2="736.2" stroke="#333" stroke-width="0.8"/>
<text x="639.5" y="734.43" font-size="10.78" text-anchor="middle" textLength="16.6" lengthAdjust="spacingAndGlyphs" fill="#1a1a1a" stroke="#1a1a1a" stroke-width="0.25">****</text>
<text x="12.5" y="765.55" font-size="8.16" text-anchor="middle" fill="#1a1a1a" stroke="#1a1a1a" stroke-width="0.19" textLength="56.51" lengthAdjust="spacingAndGlyphs" transform="rotate(-90 12.5 765.55)">MSE vs Animal</text></svg></body></html>
